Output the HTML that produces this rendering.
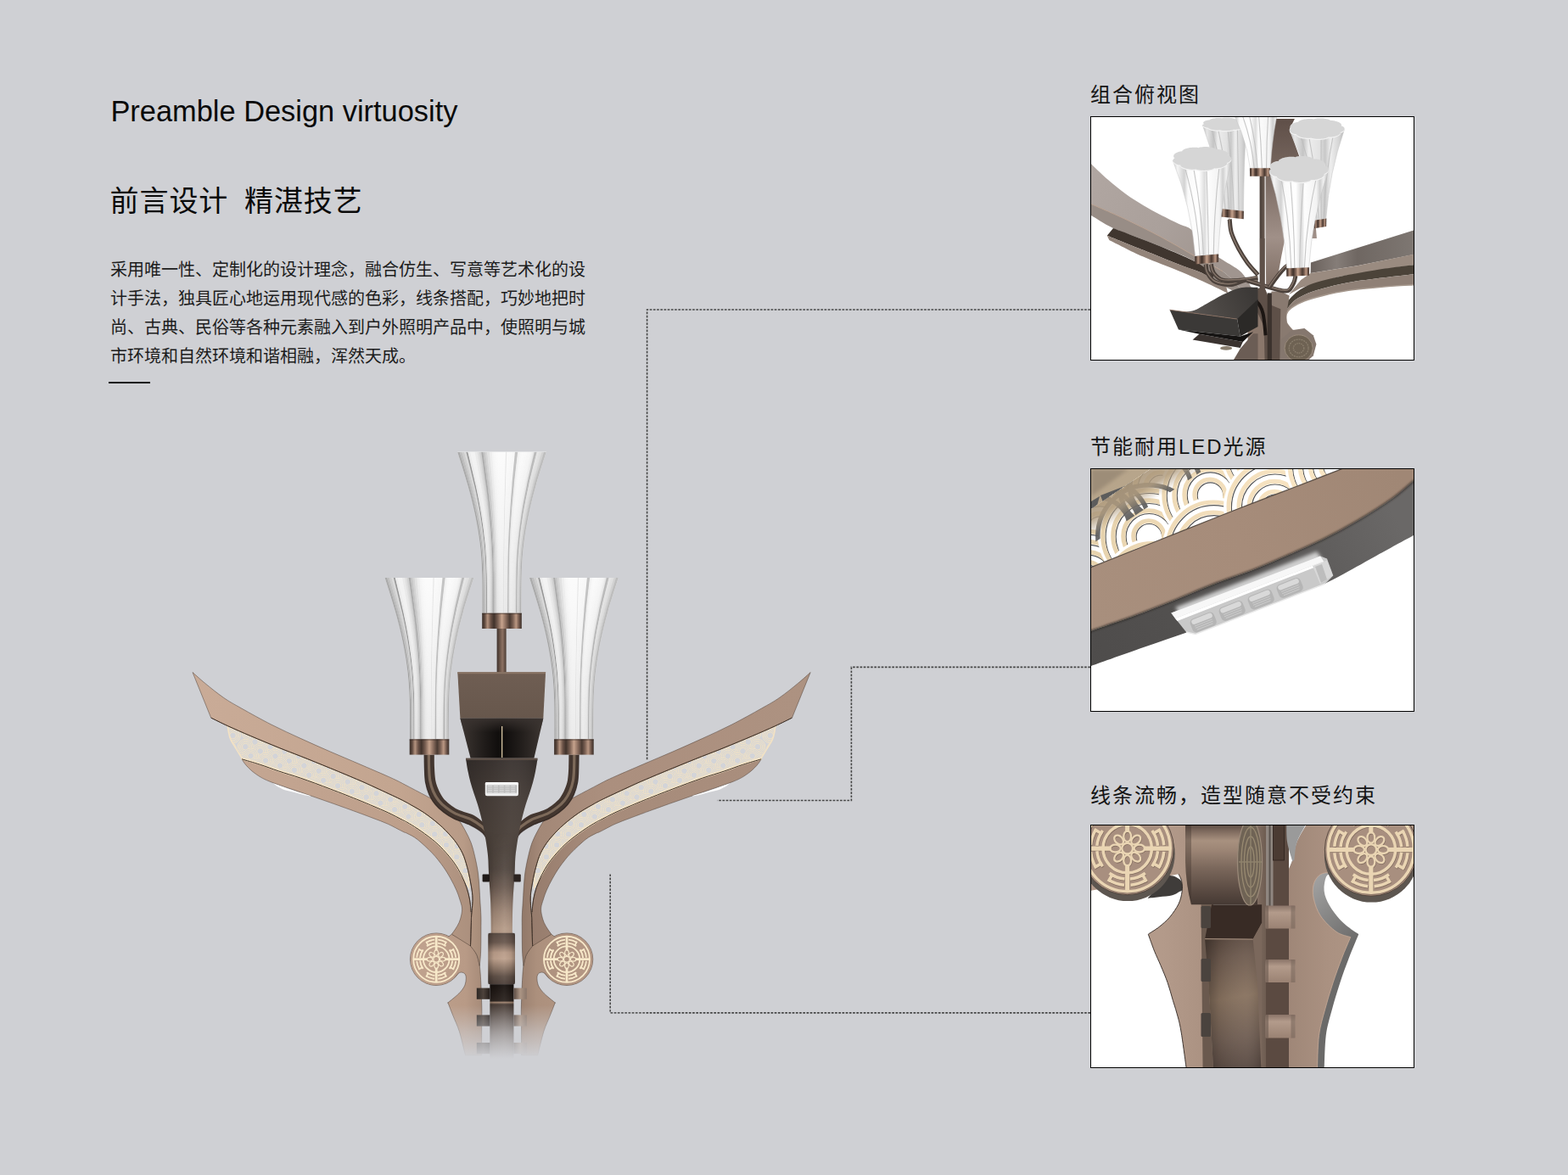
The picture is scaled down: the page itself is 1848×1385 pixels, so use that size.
<!DOCTYPE html>
<html><head><meta charset="utf-8"><title>Preamble Design virtuosity</title>
<style>
html,body{margin:0;padding:0;background:#cfd0d4;}
body{width:1848px;height:1385px;overflow:hidden;position:relative;font-family:"Liberation Sans",sans-serif;}
#t1{position:absolute;left:130.4px;top:111px;font-size:34.4px;line-height:40px;color:#0a0a0a;white-space:nowrap;letter-spacing:0px;}
svg{position:absolute;left:0;top:0;}
</style></head><body>
<svg width="1848" height="1385" viewBox="0 0 1848 1385">
<defs>

<linearGradient id="wingL" gradientUnits="userSpaceOnUse" x1="230" y1="0" x2="570" y2="0">
 <stop offset="0" stop-color="#c9ab97"/><stop offset="0.7" stop-color="#c3a590"/><stop offset="0.93" stop-color="#b89b87"/><stop offset="1" stop-color="#a38976"/>
</linearGradient>
<linearGradient id="wingL2" gradientUnits="userSpaceOnUse" x1="230" y1="0" x2="570" y2="0">
 <stop offset="0" stop-color="#c6a894"/><stop offset="0.75" stop-color="#bd9f8b"/><stop offset="1" stop-color="#a88d7b"/>
</linearGradient>
<linearGradient id="wingR" gradientUnits="userSpaceOnUse" x1="230" y1="0" x2="570" y2="0">
 <stop offset="0" stop-color="#ad9281"/><stop offset="0.7" stop-color="#ab8f7e"/><stop offset="0.93" stop-color="#a38877"/><stop offset="1" stop-color="#8f7666"/>
</linearGradient>
<linearGradient id="wingR2" gradientUnits="userSpaceOnUse" x1="230" y1="0" x2="570" y2="0">
 <stop offset="0" stop-color="#aa8f7e"/><stop offset="0.75" stop-color="#a68b7a"/><stop offset="1" stop-color="#93796a"/>
</linearGradient>
<linearGradient id="bodyL" gradientUnits="userSpaceOnUse" x1="500" y1="0" x2="570" y2="0">
 <stop offset="0" stop-color="#bfa18d"/><stop offset="0.7" stop-color="#b89a86"/><stop offset="1" stop-color="#a58a78"/>
</linearGradient>
<linearGradient id="bodyR" gradientUnits="userSpaceOnUse" x1="500" y1="0" x2="570" y2="0">
 <stop offset="0" stop-color="#b39683"/><stop offset="0.7" stop-color="#ac907d"/><stop offset="1" stop-color="#9a806f"/>
</linearGradient>
<pattern id="waves" width="18" height="18" patternUnits="userSpaceOnUse" patternTransform="translate(3,2) rotate(24)">
 <rect width="18" height="18" fill="#d3d4d8"/>
 <g fill="none" stroke="#f8e6c3" stroke-width="0.8"><circle cx="9" cy="-9" r="9.6" fill="#d3d4d8" stroke="none"/><circle cx="9" cy="-9" r="9.0"/><circle cx="9" cy="-9" r="7.4"/><circle cx="9" cy="-9" r="5.8"/><circle cx="9" cy="-9" r="4.2"/><circle cx="0" cy="0" r="9.6" fill="#d3d4d8" stroke="none"/><circle cx="0" cy="0" r="9.0"/><circle cx="0" cy="0" r="7.4"/><circle cx="0" cy="0" r="5.8"/><circle cx="0" cy="0" r="4.2"/><circle cx="18" cy="0" r="9.6" fill="#d3d4d8" stroke="none"/><circle cx="18" cy="0" r="9.0"/><circle cx="18" cy="0" r="7.4"/><circle cx="18" cy="0" r="5.8"/><circle cx="18" cy="0" r="4.2"/><circle cx="9" cy="9" r="9.6" fill="#d3d4d8" stroke="none"/><circle cx="9" cy="9" r="9.0"/><circle cx="9" cy="9" r="7.4"/><circle cx="9" cy="9" r="5.8"/><circle cx="9" cy="9" r="4.2"/><circle cx="0" cy="18" r="9.6" fill="#d3d4d8" stroke="none"/><circle cx="0" cy="18" r="9.0"/><circle cx="0" cy="18" r="7.4"/><circle cx="0" cy="18" r="5.8"/><circle cx="0" cy="18" r="4.2"/><circle cx="18" cy="18" r="9.6" fill="#d3d4d8" stroke="none"/><circle cx="18" cy="18" r="9.0"/><circle cx="18" cy="18" r="7.4"/><circle cx="18" cy="18" r="5.8"/><circle cx="18" cy="18" r="4.2"/><circle cx="9" cy="27" r="9.6" fill="#d3d4d8" stroke="none"/><circle cx="9" cy="27" r="9.0"/><circle cx="9" cy="27" r="7.4"/><circle cx="9" cy="27" r="5.8"/><circle cx="9" cy="27" r="4.2"/></g>
</pattern>
<linearGradient id="collar" x1="0" y1="0" x2="1" y2="0">
 <stop offset="0" stop-color="#3b2f29"/><stop offset="0.06" stop-color="#5a463c"/><stop offset="0.14" stop-color="#b4937f"/><stop offset="0.22" stop-color="#6a5247"/>
 <stop offset="0.30" stop-color="#40322b"/><stop offset="0.40" stop-color="#7a6053"/><stop offset="0.50" stop-color="#c5a28c"/><stop offset="0.60" stop-color="#8a6d5e"/>
 <stop offset="0.70" stop-color="#4a3a32"/><stop offset="0.78" stop-color="#7a6053"/><stop offset="0.86" stop-color="#bb9883"/><stop offset="0.94" stop-color="#6a5247"/><stop offset="1" stop-color="#3b2f29"/>
</linearGradient>
<linearGradient id="rod" x1="0" y1="0" x2="1" y2="0">
 <stop offset="0" stop-color="#3e322c"/><stop offset="0.35" stop-color="#6d574b"/><stop offset="0.6" stop-color="#8d7263"/><stop offset="1" stop-color="#4a3b33"/>
</linearGradient>
<linearGradient id="boxfront" x1="0" y1="0" x2="0" y2="1">
 <stop offset="0" stop-color="#6f5e53"/><stop offset="1" stop-color="#67574c"/>
</linearGradient>
<linearGradient id="under" x1="0" y1="0" x2="1" y2="0">
 <stop offset="0" stop-color="#3d3632"/><stop offset="0.3" stop-color="#1f1b19"/><stop offset="0.5" stop-color="#0d0b0a"/><stop offset="0.7" stop-color="#1f1b19"/><stop offset="1" stop-color="#3d3632"/>
</linearGradient>
<linearGradient id="underV" x1="0" y1="0" x2="0" y2="1">
 <stop offset="0" stop-color="#3a3330" stop-opacity="0.9"/><stop offset="0.35" stop-color="#3a3330" stop-opacity="0"/>
</linearGradient>
<linearGradient id="head" gradientUnits="userSpaceOnUse" x1="0" y1="896" x2="0" y2="1110">
 <stop offset="0" stop-color="#3a3330"/><stop offset="0.2" stop-color="#463d38"/><stop offset="0.5" stop-color="#4c423b"/><stop offset="0.6" stop-color="#51463f"/><stop offset="0.7" stop-color="#6b5a50"/><stop offset="0.84" stop-color="#a08776"/><stop offset="0.93" stop-color="#b79c88"/><stop offset="1" stop-color="#ad917e"/>
</linearGradient>
<linearGradient id="headH" gradientUnits="userSpaceOnUse" x1="575" y1="0" x2="607" y2="0">
 <stop offset="0" stop-color="#000" stop-opacity="0.28"/><stop offset="0.22" stop-color="#000" stop-opacity="0.04"/><stop offset="0.6" stop-color="#fff" stop-opacity="0.05"/><stop offset="0.85" stop-color="#000" stop-opacity="0.06"/><stop offset="1" stop-color="#000" stop-opacity="0.25"/>
</linearGradient>
<linearGradient id="headH2" gradientUnits="userSpaceOnUse" x1="549" y1="0" x2="634" y2="0">
 <stop offset="0" stop-color="#000" stop-opacity="0.22"/><stop offset="0.3" stop-color="#000" stop-opacity="0.05"/><stop offset="0.62" stop-color="#fff" stop-opacity="0.05"/><stop offset="1" stop-color="#000" stop-opacity="0.12"/>
</linearGradient>
<linearGradient id="headMask" gradientUnits="userSpaceOnUse" x1="0" y1="980" x2="0" y2="1040">
 <stop offset="0" stop-color="#fff" stop-opacity="0"/><stop offset="1" stop-color="#fff" stop-opacity="1"/>
</linearGradient>
<mask id="hm"><rect x="540" y="890" width="110" height="240" fill="url(#headMask)"/></mask>

<linearGradient id="arm" gradientUnits="userSpaceOnUse" x1="500" y1="0" x2="512" y2="0">
 <stop offset="0" stop-color="#3a2f2a"/><stop offset="0.45" stop-color="#7a675b"/><stop offset="1" stop-color="#40342e"/>
</linearGradient>
<linearGradient id="joint" gradientUnits="userSpaceOnUse" x1="0" y1="1100" x2="0" y2="1160">
 <stop offset="0" stop-color="#5a4b43"/><stop offset="0.18" stop-color="#6b594f"/><stop offset="0.38" stop-color="#b89b88"/><stop offset="0.5" stop-color="#bfa28e"/><stop offset="0.7" stop-color="#8a7465"/><stop offset="0.85" stop-color="#5e4f46"/><stop offset="1" stop-color="#4d403a"/>
</linearGradient>
<linearGradient id="poleLow" gradientUnits="userSpaceOnUse" x1="0" y1="1160" x2="0" y2="1250">
 <stop offset="0" stop-color="#17110e"/><stop offset="0.22" stop-color="#2c2420"/><stop offset="0.24" stop-color="#a08470"/><stop offset="0.265" stop-color="#4a3e38"/><stop offset="0.6" stop-color="#675a53"/><stop offset="1" stop-color="#8d817a"/>
</linearGradient>
<linearGradient id="clipL" x1="0" y1="0" x2="1" y2="0">
 <stop offset="0" stop-color="#2e2824"/><stop offset="0.5" stop-color="#4d423b"/><stop offset="1" stop-color="#241d1a"/>
</linearGradient>
<linearGradient id="clipR" x1="0" y1="0" x2="1" y2="0">
 <stop offset="0" stop-color="#5a4a42"/><stop offset="0.5" stop-color="#ab9584"/><stop offset="1" stop-color="#8a766a"/>
</linearGradient>
<linearGradient id="fade" gradientUnits="userSpaceOnUse" x1="0" y1="1185" x2="0" y2="1248">
 <stop offset="0" stop-color="#cfd0d4" stop-opacity="0"/><stop offset="0.5" stop-color="#cfd0d4" stop-opacity="0.55"/><stop offset="1" stop-color="#cfd0d4" stop-opacity="1"/>
</linearGradient>
<g id="scl"><circle r="9.6" fill="#d3d4d8"/><g fill="none" stroke="#f9e5c0" stroke-width="0.78"><circle r="9"/><circle r="7.3"/><circle r="5.6"/><circle r="3.9"/></g></g>
<filter id="blur05" x="-5%" y="-5%" width="110%" height="110%"><feGaussianBlur stdDeviation="0.45"/></filter>
<filter id="blur1" x="-5%" y="-5%" width="110%" height="110%"><feGaussianBlur stdDeviation="0.7"/></filter>
<filter id="blur2" x="-10%" y="-10%" width="120%" height="120%"><feGaussianBlur stdDeviation="1.6"/></filter>


<clipPath id="cp1"><rect x="1286" y="138" width="380" height="286"/></clipPath>
<clipPath id="cp2"><rect x="1286" y="553" width="380" height="285"/></clipPath>
<clipPath id="cp3"><rect x="1286" y="973" width="380" height="285"/></clipPath>
<linearGradient id="p1top" gradientUnits="userSpaceOnUse" x1="1285" y1="200" x2="1440" y2="300">
 <stop offset="0" stop-color="#b0a6a1"/><stop offset="0.6" stop-color="#aaa09b"/><stop offset="1" stop-color="#a0958f"/></linearGradient>
<linearGradient id="p1blade" gradientUnits="userSpaceOnUse" x1="0" y1="140" x2="0" y2="340">
 <stop offset="0" stop-color="#5f4f48"/><stop offset="0.35" stop-color="#7a6a62"/><stop offset="0.7" stop-color="#a09088"/><stop offset="1" stop-color="#7d6c62"/></linearGradient>
<linearGradient id="p1rtop" gradientUnits="userSpaceOnUse" x1="1545" y1="0" x2="1667" y2="0">
 <stop offset="0" stop-color="#6b625d"/><stop offset="0.25" stop-color="#857d78"/><stop offset="0.45" stop-color="#6f6762"/><stop offset="1" stop-color="#7e7772"/></linearGradient>
<linearGradient id="shBody" x1="0" y1="0" x2="1" y2="0">
 <stop offset="0" stop-color="#c9c9c9"/><stop offset="0.08" stop-color="#f4f4f4"/><stop offset="0.2" stop-color="#d2d2d2"/><stop offset="0.26" stop-color="#fafafa"/><stop offset="0.45" stop-color="#ffffff"/>
 <stop offset="0.55" stop-color="#dcdcdc"/><stop offset="0.6" stop-color="#fdfdfd"/><stop offset="0.8" stop-color="#f3f3f3"/><stop offset="0.86" stop-color="#d0d0d0"/><stop offset="0.92" stop-color="#f0f0f0"/><stop offset="1" stop-color="#c4c4c4"/></linearGradient>
<linearGradient id="shBody2" x1="0" y1="0" x2="1" y2="0">
 <stop offset="0" stop-color="#bdbdbd"/><stop offset="0.1" stop-color="#e6e6e6"/><stop offset="0.25" stop-color="#c4c4c4"/><stop offset="0.35" stop-color="#ededed"/><stop offset="0.55" stop-color="#e2e2e2"/>
 <stop offset="0.65" stop-color="#c8c8c8"/><stop offset="0.75" stop-color="#eeeeee"/><stop offset="0.9" stop-color="#d5d5d5"/><stop offset="1" stop-color="#bbbbbb"/></linearGradient>
<linearGradient id="p1box" gradientUnits="userSpaceOnUse" x1="1380" y1="0" x2="1470" y2="0">
 <stop offset="0" stop-color="#3a3836"/><stop offset="1" stop-color="#45413e"/></linearGradient>
<linearGradient id="p1boxtop" gradientUnits="userSpaceOnUse" x1="1400" y1="370" x2="1470" y2="335">
 <stop offset="0" stop-color="#5a5653"/><stop offset="0.5" stop-color="#4a4643"/><stop offset="1" stop-color="#3c3937"/></linearGradient>
<linearGradient id="p1pole" gradientUnits="userSpaceOnUse" x1="1485" y1="0" x2="1512" y2="0">
 <stop offset="0" stop-color="#4a3f39"/><stop offset="0.4" stop-color="#8a776b"/><stop offset="0.7" stop-color="#5c4e46"/><stop offset="1" stop-color="#3e342f"/></linearGradient>
<linearGradient id="p2band" gradientUnits="userSpaceOnUse" x1="1300" y1="760" x2="1660" y2="580">
 <stop offset="0" stop-color="#a88f7d"/><stop offset="0.5" stop-color="#a68c7a"/><stop offset="1" stop-color="#a08775"/></linearGradient>
<linearGradient id="p2dark" gradientUnits="userSpaceOnUse" x1="1300" y1="820" x2="1660" y2="640">
 <stop offset="0" stop-color="#4e4c4b"/><stop offset="0.55" stop-color="#565453"/><stop offset="1" stop-color="#6a6867"/></linearGradient>
<linearGradient id="p3body" gradientUnits="userSpaceOnUse" x1="1370" y1="0" x2="1590" y2="0">
 <stop offset="0" stop-color="#b39a8a"/><stop offset="0.45" stop-color="#a38a7a"/><stop offset="1" stop-color="#ab9282"/></linearGradient>
<linearGradient id="p3pole" gradientUnits="userSpaceOnUse" x1="1424" y1="0" x2="1478" y2="0">
 <stop offset="0" stop-color="#8d7769"/><stop offset="0.35" stop-color="#7b675b"/><stop offset="0.75" stop-color="#5c4c43"/><stop offset="1" stop-color="#6b594e"/></linearGradient>
<linearGradient id="p3cyl" gradientUnits="userSpaceOnUse" x1="0" y1="972" x2="0" y2="1066">
 <stop offset="0" stop-color="#5b4b43"/><stop offset="0.08" stop-color="#7d695d"/><stop offset="0.2" stop-color="#a8917f"/><stop offset="0.32" stop-color="#9c8575"/><stop offset="0.55" stop-color="#7a675b"/><stop offset="0.85" stop-color="#574840"/><stop offset="1" stop-color="#463a34"/></linearGradient>
<linearGradient id="p3clip" x1="0" y1="0" x2="0" y2="1">
 <stop offset="0" stop-color="#8a7468"/><stop offset="0.3" stop-color="#b39b8b"/><stop offset="1" stop-color="#9a8273"/></linearGradient>
<filter id="pb1" x="-5%" y="-5%" width="110%" height="110%"><feGaussianBlur stdDeviation="0.8"/></filter>
<filter id="pb2" x="-10%" y="-10%" width="120%" height="120%"><feGaussianBlur stdDeviation="2"/></filter>

</defs>
<rect width="1848" height="1385" fill="#cfd0d4"/>
<g fill="none" stroke="#474747" stroke-width="1.6" stroke-dasharray="2.7 1.5">
<path d="M1285,365 H762.6 V895.5"/>
<path d="M1285,786.4 H1003.4 V943.5 H845.4"/>
<path d="M1285,1193.9 H719.2 V1030"/>
</g>
<defs><clipPath id="shclip"><path d="M-52.4,0C-50.4,6.6 -43.7,27.2 -40.2,39.5C-36.7,51.8 -34,62.5 -31.6,74.1C-29.2,85.6 -27.2,97.2 -25.8,108.8C-24.4,120.3 -23.8,129.8 -23.3,143.4C-22.8,157 -23,182.4 -22.9,190.2L22.9,190.2C23,182.4 22.8,157 23.3,143.4C23.8,129.8 24.4,120.3 25.8,108.8C27.2,97.2 29.2,85.6 31.6,74.1C34,62.5 36.7,51.8 40.2,39.5C43.7,27.2 50.4,6.6 52.4,0Z"/></clipPath><g id="shadeArt"><path d="M-52.4,0C-50.4,6.6 -43.7,27.2 -40.2,39.5C-36.7,51.8 -34,62.5 -31.6,74.1C-29.2,85.6 -27.2,97.2 -25.8,108.8C-24.4,120.3 -23.8,129.8 -23.3,143.4C-22.8,157 -23,182.4 -22.9,190.2L22.9,190.2C23,182.4 22.8,157 23.3,143.4C23.8,129.8 24.4,120.3 25.8,108.8C27.2,97.2 29.2,85.6 31.6,74.1C34,62.5 36.7,51.8 40.2,39.5C43.7,27.2 50.4,6.6 52.4,0Z" fill="#f4f4f4"/><g clip-path="url(#shclip)"><g filter="url(#blur05)"><path d="M-54,0C-51.9,6.6 -45,27.2 -41.4,39.5C-37.8,51.8 -35,62.5 -32.5,74.1C-30.1,85.6 -28,97.2 -26.6,108.8C-25.1,120.3 -24.5,129.8 -24,143.4C-23.5,157 -23.7,182.4 -23.6,190.2L-21.7,190.2C-21.7,182.4 -21.6,157 -22,143.4C-22.5,129.8 -23.1,120.3 -24.4,108.8C-25.7,97.2 -27.6,85.6 -29.9,74.1C-32.2,62.5 -34.7,51.8 -38,39.5C-41.3,27.2 -47.6,6.6 -49.6,0Z" fill="#a2a2a2"/><path d="M-50,0C-48,6.6 -41.7,27.2 -38.4,39.5C-35,51.8 -32.4,62.5 -30.1,74.1C-27.9,85.6 -25.9,97.2 -24.6,108.8C-23.3,120.3 -22.7,129.8 -22.2,143.4C-21.8,157 -21.9,182.4 -21.8,190.2L-20.5,190.2C-20.6,182.4 -20.4,157 -20.9,143.4C-21.3,129.8 -21.9,120.3 -23.1,108.8C-24.4,97.2 -26.2,85.6 -28.3,74.1C-30.5,62.5 -32.9,51.8 -36,39.5C-39.1,27.2 -45.1,6.6 -47,0Z" fill="#b8b8b8"/><path d="M-47.4,0C-45.5,6.6 -39.5,27.2 -36.3,39.5C-33.2,51.8 -30.7,62.5 -28.6,74.1C-26.4,85.6 -24.6,97.2 -23.3,108.8C-22.1,120.3 -21.5,129.8 -21.1,143.4C-20.6,157 -20.8,182.4 -20.7,190.2L-19.4,190.2C-19.4,182.4 -19.3,157 -19.7,143.4C-20.1,129.8 -20.7,120.3 -21.8,108.8C-23,97.2 -24.7,85.6 -26.7,74.1C-28.8,62.5 -31.1,51.8 -34,39.5C-36.9,27.2 -42.6,6.6 -44.3,0Z" fill="#c8c8c8"/><path d="M-44.7,0C-43,6.6 -37.3,27.2 -34.3,39.5C-31.4,51.8 -29,62.5 -27,74.1C-24.9,85.6 -23.2,97.2 -22,108.8C-20.9,120.3 -20.3,129.8 -19.9,143.4C-19.5,157 -19.6,182.4 -19.6,190.2L-18.2,190.2C-18.3,182.4 -18.2,157 -18.5,143.4C-18.9,129.8 -19.4,120.3 -20.5,108.8C-21.6,97.2 -23.2,85.6 -25.2,74.1C-27.1,62.5 -29.2,51.8 -32,39.5C-34.8,27.2 -40.1,6.6 -41.7,0Z" fill="#d6d6d6"/><path d="M-42.1,0C-40.5,6.6 -35.1,27.2 -32.3,39.5C-29.5,51.8 -27.3,62.5 -25.4,74.1C-23.5,85.6 -21.9,97.2 -20.7,108.8C-19.6,120.3 -19.1,129.8 -18.7,143.4C-18.3,157 -18.5,182.4 -18.4,190.2L-17.4,190.2C-17.5,182.4 -17.4,157 -17.7,143.4C-18.1,129.8 -18.6,120.3 -19.6,108.8C-20.7,97.2 -22.2,85.6 -24,74.1C-25.9,62.5 -28,51.8 -30.6,39.5C-33.2,27.2 -38.3,6.6 -39.9,0Z" fill="#8c8c8c"/><path d="M-40.3,0C-38.7,6.6 -33.6,27.2 -30.9,39.5C-28.2,51.8 -26.1,62.5 -24.3,74.1C-22.5,85.6 -20.9,97.2 -19.8,108.8C-18.8,120.3 -18.3,129.8 -17.9,143.4C-17.5,157 -17.7,182.4 -17.6,190.2L-16.2,190.2C-16.3,182.4 -16.2,157 -16.5,143.4C-16.9,129.8 -17.3,120.3 -18.3,108.8C-19.3,97.2 -20.7,85.6 -22.4,74.1C-24.1,62.5 -26,51.8 -28.5,39.5C-30.9,27.2 -35.7,6.6 -37.1,0Z" fill="#eaeaea"/><path d="M-37.5,0C-36.1,6.6 -31.3,27.2 -28.8,39.5C-26.3,51.8 -24.4,62.5 -22.6,74.1C-20.9,85.6 -19.5,97.2 -18.5,108.8C-17.5,120.3 -17,129.8 -16.7,143.4C-16.3,157 -16.5,182.4 -16.4,190.2L-15,190.2C-15.1,182.4 -15,157 -15.3,143.4C-15.6,129.8 -16,120.3 -16.9,108.8C-17.8,97.2 -19.2,85.6 -20.7,74.1C-22.3,62.5 -24.1,51.8 -26.4,39.5C-28.6,27.2 -33,6.6 -34.4,0Z" fill="#f2f2f2"/><path d="M-34.8,0C-33.4,6.6 -29,27.2 -26.7,39.5C-24.4,51.8 -22.6,62.5 -21,74.1C-19.4,85.6 -18,97.2 -17.1,108.8C-16.2,120.3 -15.8,129.8 -15.5,143.4C-15.2,157 -15.2,182.4 -15.2,190.2L-13.8,190.2C-13.8,182.4 -13.7,157 -14,143.4C-14.3,129.8 -14.7,120.3 -15.5,108.8C-16.3,97.2 -17.5,85.6 -19,74.1C-20.4,62.5 -22.1,51.8 -24.2,39.5C-26.2,27.2 -30.3,6.6 -31.5,0Z" fill="#f2f2f2"/><path d="M-31.9,0C-30.7,6.6 -26.6,27.2 -24.5,39.5C-22.4,51.8 -20.7,62.5 -19.2,74.1C-17.8,85.6 -16.6,97.2 -15.7,108.8C-14.9,120.3 -14.5,129.8 -14.2,143.4C-13.9,157 -14,182.4 -13.9,190.2L-12.5,190.2C-12.5,182.4 -12.5,157 -12.7,143.4C-13,129.8 -13.3,120.3 -14.1,108.8C-14.8,97.2 -15.9,85.6 -17.3,74.1C-18.6,62.5 -20.1,51.8 -21.9,39.5C-23.8,27.2 -27.5,6.6 -28.6,0Z" fill="#e8e8e8"/><path d="M-29,0C-27.9,6.6 -24.2,27.2 -22.3,39.5C-20.4,51.8 -18.8,62.5 -17.5,74.1C-16.2,85.6 -15.1,97.2 -14.3,108.8C-13.5,120.3 -13.2,129.8 -12.9,143.4C-12.6,157 -12.7,182.4 -12.7,190.2L-11.5,190.2C-11.5,182.4 -11.4,157 -11.7,143.4C-11.9,129.8 -12.2,120.3 -12.9,108.8C-13.6,97.2 -14.6,85.6 -15.8,74.1C-17,62.5 -18.4,51.8 -20.1,39.5C-21.9,27.2 -25.2,6.6 -26.3,0Z" fill="#dcdcdc"/><path d="M-26.7,0C-25.6,6.6 -22.2,27.2 -20.5,39.5C-18.7,51.8 -17.3,62.5 -16.1,74.1C-14.9,85.6 -13.8,97.2 -13.1,108.8C-12.4,120.3 -12.1,129.8 -11.9,143.4C-11.6,157 -11.7,182.4 -11.7,190.2L-10.4,190.2C-10.5,182.4 -10.4,157 -10.6,143.4C-10.8,129.8 -11.1,120.3 -11.8,108.8C-12.4,97.2 -13.3,85.6 -14.4,74.1C-15.5,62.5 -16.8,51.8 -18.3,39.5C-19.9,27.2 -23,6.6 -23.9,0Z" fill="#cccccc"/><path d="M-24.3,0C-23.4,6.6 -20.3,27.2 -18.7,39.5C-17,51.8 -15.8,62.5 -14.7,74.1C-13.5,85.6 -12.6,97.2 -12,108.8C-11.3,120.3 -11,129.8 -10.8,143.4C-10.6,157 -10.7,182.4 -10.6,190.2L-9.5,190.2C-9.6,182.4 -9.5,157 -9.7,143.4C-9.9,129.8 -10.2,120.3 -10.7,108.8C-11.3,97.2 -12.1,85.6 -13.1,74.1C-14.1,62.5 -15.3,51.8 -16.7,39.5C-18.2,27.2 -21,6.6 -21.8,0Z" fill="#a4a4a4"/><path d="M-22.2,0C-21.4,6.6 -18.5,27.2 -17,39.5C-15.6,51.8 -14.4,62.5 -13.4,74.1C-12.4,85.6 -11.5,97.2 -10.9,108.8C-10.4,120.3 -10.1,129.8 -9.9,143.4C-9.7,157 -9.7,182.4 -9.7,190.2L-8.5,190.2C-8.5,182.4 -8.5,157 -8.6,143.4C-8.8,129.8 -9.1,120.3 -9.6,108.8C-10.1,97.2 -10.8,85.6 -11.7,74.1C-12.6,62.5 -13.6,51.8 -14.9,39.5C-16.2,27.2 -18.7,6.6 -19.4,0Z" fill="#c0c0c0"/><path d="M-19.9,0C-19.1,6.6 -16.5,27.2 -15.2,39.5C-13.9,51.8 -12.9,62.5 -12,74.1C-11.1,85.6 -10.3,97.2 -9.8,108.8C-9.3,120.3 -9,129.8 -8.8,143.4C-8.6,157 -8.7,182.4 -8.7,190.2L-7.5,190.2C-7.5,182.4 -7.4,157 -7.6,143.4C-7.8,129.8 -8,120.3 -8.4,108.8C-8.9,97.2 -9.5,85.6 -10.3,74.1C-11.1,62.5 -12,51.8 -13.1,39.5C-14.2,27.2 -16.4,6.6 -17.1,0Z" fill="#d0d0d0"/><path d="M-17.5,0C-16.8,6.6 -14.6,27.2 -13.4,39.5C-12.3,51.8 -11.4,62.5 -10.6,74.1C-9.8,85.6 -9.1,97.2 -8.6,108.8C-8.2,120.3 -7.9,129.8 -7.8,143.4C-7.6,157 -7.7,182.4 -7.6,190.2L-6.2,190.2C-6.2,182.4 -6.2,157 -6.3,143.4C-6.4,129.8 -6.6,120.3 -7,108.8C-7.4,97.2 -7.9,85.6 -8.6,74.1C-9.2,62.5 -10,51.8 -10.9,39.5C-11.8,27.2 -13.6,6.6 -14.2,0Z" fill="#dfdfdf"/><path d="M-14.6,0C-14.1,6.6 -12.2,27.2 -11.2,39.5C-10.2,51.8 -9.5,62.5 -8.8,74.1C-8.1,85.6 -7.6,97.2 -7.2,108.8C-6.8,120.3 -6.6,129.8 -6.5,143.4C-6.4,157 -6.4,182.4 -6.4,190.2L-4.9,190.2C-5,182.4 -4.9,157 -5,143.4C-5.1,129.8 -5.3,120.3 -5.6,108.8C-5.9,97.2 -6.3,85.6 -6.8,74.1C-7.3,62.5 -7.9,51.8 -8.7,39.5C-9.4,27.2 -10.9,6.6 -11.3,0Z" fill="#ededed"/><path d="M-11.7,0C-11.3,6.6 -9.8,27.2 -9,39.5C-8.2,51.8 -7.6,62.5 -7.1,74.1C-6.5,85.6 -6.1,97.2 -5.8,108.8C-5.5,120.3 -5.3,129.8 -5.2,143.4C-5.1,157 -5.1,182.4 -5.1,190.2L-4,190.2C-4,182.4 -4,157 -4.1,143.4C-4.2,129.8 -4.3,120.3 -4.5,108.8C-4.8,97.2 -5.1,85.6 -5.6,74.1C-6,62.5 -6.5,51.8 -7.1,39.5C-7.7,27.2 -8.9,6.6 -9.2,0Z" fill="#f5f5f5"/><path d="M-9.6,0C-9.3,6.6 -8,27.2 -7.4,39.5C-6.8,51.8 -6.3,62.5 -5.8,74.1C-5.4,85.6 -5,97.2 -4.7,108.8C-4.5,120.3 -4.4,129.8 -4.3,143.4C-4.2,157 -4.2,182.4 -4.2,190.2L-3.1,190.2C-3.1,182.4 -3.1,157 -3.2,143.4C-3.2,129.8 -3.3,120.3 -3.5,108.8C-3.7,97.2 -4,85.6 -4.3,74.1C-4.6,62.5 -5,51.8 -5.5,39.5C-5.9,27.2 -6.8,6.6 -7.1,0Z" fill="#f8f8f8"/><path d="M-7.5,0C-7.3,6.6 -6.3,27.2 -5.8,39.5C-5.3,51.8 -4.9,62.5 -4.6,74.1C-4.2,85.6 -3.9,97.2 -3.7,108.8C-3.5,120.3 -3.4,129.8 -3.4,143.4C-3.3,157 -3.3,182.4 -3.3,190.2L-2.2,190.2C-2.2,182.4 -2.2,157 -2.2,143.4C-2.3,129.8 -2.3,120.3 -2.5,108.8C-2.6,97.2 -2.8,85.6 -3,74.1C-3.3,62.5 -3.5,51.8 -3.9,39.5C-4.2,27.2 -4.8,6.6 -5,0Z" fill="#fafafa"/><path d="M-5.4,0C-5.2,6.6 -4.5,27.2 -4.2,39.5C-3.8,51.8 -3.5,62.5 -3.3,74.1C-3,85.6 -2.8,97.2 -2.7,108.8C-2.5,120.3 -2.5,129.8 -2.4,143.4C-2.4,157 -2.4,182.4 -2.4,190.2L2.2,190.2C2.2,182.4 2.1,157 2.2,143.4C2.2,129.8 2.3,120.3 2.4,108.8C2.6,97.2 2.7,85.6 3,74.1C3.2,62.5 3.5,51.8 3.8,39.5C4.1,27.2 4.7,6.6 4.9,0Z" fill="#fbfbfb"/><path d="M4.5,0C4.3,6.6 3.8,27.2 3.5,39.5C3.2,51.8 2.9,62.5 2.7,74.1C2.5,85.6 2.3,97.2 2.2,108.8C2.1,120.3 2,129.8 2,143.4C2,157 2,182.4 2,190.2L2.7,190.2C2.7,182.4 2.7,157 2.8,143.4C2.8,129.8 2.9,120.3 3.1,108.8C3.2,97.2 3.5,85.6 3.8,74.1C4,62.5 4.4,51.8 4.8,39.5C5.2,27.2 6,6.6 6.2,0Z" fill="#e6e6e6"/><path d="M5.8,0C5.6,6.6 4.8,27.2 4.5,39.5C4.1,51.8 3.8,62.5 3.5,74.1C3.2,85.6 3,97.2 2.9,108.8C2.7,120.3 2.6,129.8 2.6,143.4C2.5,157 2.5,182.4 2.5,190.2L3.8,190.2C3.8,182.4 3.8,157 3.9,143.4C3.9,129.8 4,120.3 4.3,108.8C4.5,97.2 4.8,85.6 5.2,74.1C5.6,62.5 6.1,51.8 6.6,39.5C7.2,27.2 8.3,6.6 8.7,0Z" fill="#fafafa"/><path d="M8.2,0C7.9,6.6 6.9,27.2 6.3,39.5C5.8,51.8 5.3,62.5 5,74.1C4.6,85.6 4.3,97.2 4.1,108.8C3.8,120.3 3.7,129.8 3.7,143.4C3.6,157 3.6,182.4 3.6,190.2L4.8,190.2C4.9,182.4 4.8,157 4.9,143.4C5,129.8 5.2,120.3 5.5,108.8C5.7,97.2 6.2,85.6 6.7,74.1C7.2,62.5 7.8,51.8 8.5,39.5C9.2,27.2 10.7,6.6 11.1,0Z" fill="#f9f9f9"/><path d="M10.7,0C10.2,6.6 8.9,27.2 8.2,39.5C7.5,51.8 6.9,62.5 6.4,74.1C5.9,85.6 5.5,97.2 5.3,108.8C5,120.3 4.8,129.8 4.7,143.4C4.6,157 4.7,182.4 4.7,190.2L5.9,190.2C5.9,182.4 5.9,157 6,143.4C6.1,129.8 6.3,120.3 6.6,108.8C7,97.2 7.5,85.6 8.1,74.1C8.8,62.5 9.5,51.8 10.4,39.5C11.3,27.2 13,6.6 13.5,0Z" fill="#f8f8f8"/><path d="M13.1,0C12.6,6.6 10.9,27.2 10,39.5C9.2,51.8 8.5,62.5 7.9,74.1C7.3,85.6 6.8,97.2 6.4,108.8C6.1,120.3 5.9,129.8 5.8,143.4C5.7,157 5.7,182.4 5.7,190.2L7,190.2C7,182.4 6.9,157 7.1,143.4C7.2,129.8 7.4,120.3 7.8,108.8C8.3,97.2 8.9,85.6 9.6,74.1C10.3,62.5 11.2,51.8 12.2,39.5C13.3,27.2 15.3,6.6 15.9,0Z" fill="#f7f7f7"/><path d="M15.5,0C14.9,6.6 12.9,27.2 11.9,39.5C10.9,51.8 10.1,62.5 9.4,74.1C8.6,85.6 8,97.2 7.6,108.8C7.2,120.3 7,129.8 6.9,143.4C6.8,157 6.8,182.4 6.8,190.2L8.3,190.2C8.4,182.4 8.3,157 8.5,143.4C8.7,129.8 8.9,120.3 9.4,108.8C9.9,97.2 10.6,85.6 11.5,74.1C12.4,62.5 13.4,51.8 14.6,39.5C15.9,27.2 18.3,6.6 19.1,0Z" fill="#bebebe"/><path d="M18.7,0C17.9,6.6 15.5,27.2 14.3,39.5C13.1,51.8 12.1,62.5 11.2,74.1C10.4,85.6 9.7,97.2 9.2,108.8C8.7,120.3 8.5,129.8 8.3,143.4C8.1,157 8.2,182.4 8.2,190.2L9.4,190.2C9.4,182.4 9.3,157 9.5,143.4C9.7,129.8 10,120.3 10.6,108.8C11.1,97.2 11.9,85.6 12.9,74.1C13.9,62.5 15,51.8 16.4,39.5C17.9,27.2 20.6,6.6 21.4,0Z" fill="#f1f1f1"/><path d="M21,0C20.2,6.6 17.5,27.2 16.1,39.5C14.7,51.8 13.6,62.5 12.7,74.1C11.7,85.6 10.9,97.2 10.3,108.8C9.8,120.3 9.5,129.8 9.3,143.4C9.1,157 9.2,182.4 9.2,190.2L10.4,190.2C10.4,182.4 10.4,157 10.6,143.4C10.8,129.8 11.1,120.3 11.7,108.8C12.3,97.2 13.3,85.6 14.3,74.1C15.4,62.5 16.7,51.8 18.3,39.5C19.8,27.2 22.9,6.6 23.8,0Z" fill="#f8f8f8"/><path d="M23.4,0C22.5,6.6 19.5,27.2 17.9,39.5C16.4,51.8 15.2,62.5 14.1,74.1C13,85.6 12.1,97.2 11.5,108.8C10.9,120.3 10.6,129.8 10.4,143.4C10.2,157 10.2,182.4 10.2,190.2L11.4,190.2C11.4,182.4 11.3,157 11.6,143.4C11.8,129.8 12.1,120.3 12.8,108.8C13.5,97.2 14.5,85.6 15.7,74.1C16.9,62.5 18.2,51.8 19.9,39.5C21.7,27.2 25,6.6 26,0Z" fill="#fafafa"/><path d="M25.6,0C24.6,6.6 21.3,27.2 19.6,39.5C17.9,51.8 16.6,62.5 15.4,74.1C14.2,85.6 13.3,97.2 12.6,108.8C11.9,120.3 11.6,129.8 11.4,143.4C11.1,157 11.2,182.4 11.2,190.2L12.3,190.2C12.4,182.4 12.3,157 12.5,143.4C12.8,129.8 13.1,120.3 13.9,108.8C14.6,97.2 15.7,85.6 17,74.1C18.3,62.5 19.8,51.8 21.6,39.5C23.5,27.2 27.1,6.6 28.2,0Z" fill="#f9f9f9"/><path d="M27.8,0C26.7,6.6 23.1,27.2 21.3,39.5C19.5,51.8 18,62.5 16.7,74.1C15.5,85.6 14.4,97.2 13.7,108.8C12.9,120.3 12.6,129.8 12.3,143.4C12.1,157 12.2,182.4 12.1,190.2L13.3,190.2C13.3,182.4 13.2,157 13.5,143.4C13.8,129.8 14.2,120.3 15,108.8C15.8,97.2 16.9,85.6 18.3,74.1C19.7,62.5 21.3,51.8 23.3,39.5C25.3,27.2 29.2,6.6 30.4,0Z" fill="#f8f8f8"/><path d="M30,0C28.8,6.6 25,27.2 23,39.5C21,51.8 19.4,62.5 18.1,74.1C16.7,85.6 15.5,97.2 14.8,108.8C14,120.3 13.6,129.8 13.3,143.4C13.1,157 13.1,182.4 13.1,190.2L14.2,190.2C14.3,182.4 14.2,157 14.5,143.4C14.8,129.8 15.2,120.3 16,108.8C16.9,97.2 18.2,85.6 19.7,74.1C21.1,62.5 22.8,51.8 25,39.5C27.2,27.2 31.3,6.6 32.6,0Z" fill="#f6f6f6"/><path d="M32.2,0C30.9,6.6 26.8,27.2 24.7,39.5C22.6,51.8 20.9,62.5 19.4,74.1C17.9,85.6 16.7,97.2 15.8,108.8C15,120.3 14.6,129.8 14.3,143.4C14,157 14.1,182.4 14.1,190.2L15.2,190.2C15.2,182.4 15.2,157 15.5,143.4C15.8,129.8 16.2,120.3 17.1,108.8C18,97.2 19.4,85.6 21,74.1C22.6,62.5 24.4,51.8 26.7,39.5C29,27.2 33.4,6.6 34.8,0Z" fill="#f5f5f5"/><path d="M34.4,0C33,6.6 28.6,27.2 26.4,39.5C24.1,51.8 22.3,62.5 20.7,74.1C19.2,85.6 17.8,97.2 16.9,108.8C16,120.3 15.6,129.8 15.3,143.4C15,157 15.1,182.4 15,190.2L16.1,190.2C16.1,182.4 16,157 16.3,143.4C16.7,129.8 17.1,120.3 18.1,108.8C19.1,97.2 20.5,85.6 22.2,74.1C23.9,62.5 25.8,51.8 28.2,39.5C30.6,27.2 35.3,6.6 36.8,0Z" fill="#f0f0f0"/><path d="M36.3,0C34.9,6.6 30.3,27.2 27.9,39.5C25.5,51.8 23.6,62.5 21.9,74.1C20.3,85.6 18.9,97.2 17.9,108.8C16.9,120.3 16.5,129.8 16.2,143.4C15.8,157 15.9,182.4 15.9,190.2L16.9,190.2C17,182.4 16.9,157 17.2,143.4C17.6,129.8 18,120.3 19.1,108.8C20.1,97.2 21.6,85.6 23.4,74.1C25.1,62.5 27.1,51.8 29.7,39.5C32.3,27.2 37.2,6.6 38.7,0Z" fill="#e6e6e6"/><path d="M38.3,0C36.8,6.6 31.9,27.2 29.4,39.5C26.9,51.8 24.9,62.5 23.1,74.1C21.3,85.6 19.9,97.2 18.9,108.8C17.8,120.3 17.4,129.8 17,143.4C16.7,157 16.8,182.4 16.7,190.2L18.2,190.2C18.2,182.4 18.1,157 18.5,143.4C18.9,129.8 19.4,120.3 20.5,108.8C21.6,97.2 23.2,85.6 25.1,74.1C27,62.5 29.2,51.8 31.9,39.5C34.7,27.2 40,6.6 41.6,0Z" fill="#b4b4b4"/><path d="M41.2,0C39.6,6.6 34.3,27.2 31.6,39.5C28.9,51.8 26.7,62.5 24.8,74.1C23,85.6 21.4,97.2 20.3,108.8C19.2,120.3 18.7,129.8 18.3,143.4C17.9,157 18.1,182.4 18,190.2L19.4,190.2C19.5,182.4 19.4,157 19.8,143.4C20.2,129.8 20.7,120.3 21.9,108.8C23.1,97.2 24.8,85.6 26.8,74.1C28.9,62.5 31.2,51.8 34.1,39.5C37.1,27.2 42.8,6.6 44.5,0Z" fill="#e2e2e2"/><path d="M44.1,0C42.4,6.6 36.7,27.2 33.8,39.5C30.9,51.8 28.6,62.5 26.6,74.1C24.6,85.6 22.9,97.2 21.7,108.8C20.5,120.3 20,129.8 19.6,143.4C19.2,157 19.3,182.4 19.3,190.2L20.7,190.2C20.8,182.4 20.6,157 21.1,143.4C21.5,129.8 22.1,120.3 23.3,108.8C24.6,97.2 26.4,85.6 28.6,74.1C30.7,62.5 33.2,51.8 36.3,39.5C39.5,27.2 45.5,6.6 47.4,0Z" fill="#dcdcdc"/><path d="M47,0C45.1,6.6 39.1,27.2 36,39.5C32.9,51.8 30.5,62.5 28.3,74.1C26.2,85.6 24.4,97.2 23.1,108.8C21.9,120.3 21.3,129.8 20.9,143.4C20.4,157 20.6,182.4 20.5,190.2L21.8,190.2C21.9,182.4 21.8,157 22.2,143.4C22.7,129.8 23.3,120.3 24.6,108.8C25.9,97.2 27.9,85.6 30.1,74.1C32.4,62.5 35,51.8 38.4,39.5C41.7,27.2 48,6.6 50,0Z" fill="#cdcdcd"/><path d="M49.6,0C47.6,6.6 41.3,27.2 38,39.5C34.7,51.8 32.2,62.5 29.9,74.1C27.6,85.6 25.7,97.2 24.4,108.8C23.1,120.3 22.5,129.8 22,143.4C21.6,157 21.7,182.4 21.7,190.2L23.6,190.2C23.7,182.4 23.5,157 24,143.4C24.5,129.8 25.1,120.3 26.6,108.8C28,97.2 30.1,85.6 32.5,74.1C35,62.5 37.8,51.8 41.4,39.5C45,27.2 51.9,6.6 54,0Z" fill="#b7b7b7"/></g><rect x="-55" y="0" width="110" height="190.2" fill="url(#shadeV)"/></g><rect x="-23.3" y="190.2" width="46.6" height="18.3" fill="url(#collar)"/><rect x="-23.3" y="190.2" width="46.6" height="1.3" fill="#2e2420" opacity="0.5"/></g></defs>
<defs><linearGradient id="shadeV" x1="0" y1="0" x2="0" y2="1"><stop offset="0" stop-color="#fff" stop-opacity="0.1"/><stop offset="1" stop-color="#777" stop-opacity="0.12"/></linearGradient></defs>
<g><circle cx="514.2" cy="1130.7" r="30.8" fill="url(#bodyL)" stroke="#4d3c32" stroke-width="0.5" stroke-linejoin="round"/><path d="M532.4,1101.2C534.3,1102.2 539.9,1105 543.7,1107.3C547.4,1109.6 551.9,1112 554.9,1115.1C558,1118.1 560.1,1121.6 561.9,1125.5C563.6,1129.4 564.7,1136.3 565.3,1138.5L565.3,1138.5C565.5,1140 565.9,1143.5 566.2,1148C566.5,1152.5 566.8,1158.3 567.1,1165.3C567.3,1172.3 567.8,1183.2 567.9,1190C568,1196.9 567.7,1197.5 567.7,1206.5C567.6,1215.5 567.7,1237.8 567.7,1244L567.7,1244L548.5,1244L548.5,1244C547.3,1239.3 543.8,1223.7 541.4,1215.9C538.9,1208.1 536.1,1202.8 533.9,1197.1C531.6,1191.4 528.9,1184.3 527.9,1181.7L527.6,1182.2C529.3,1180.8 534.9,1176.4 537.6,1174C540.3,1171.6 541.9,1170.1 543.7,1167.9C545.4,1165.8 547.1,1163.4 548,1161C548.9,1158.5 549.3,1155.4 549.3,1153.2C549.3,1151 548.9,1149.2 548,1148C547.1,1146.8 545.1,1146.1 543.7,1146.1C542.2,1146.1 540.6,1146.9 539.3,1148C538,1149 536.4,1151.6 535.9,1152.3L514.2,1138.7 L520.2,1110.7Z" fill="url(#bodyL)" stroke="#4d3c32" stroke-width="0.5" stroke-linejoin="round"/><circle cx="514.2" cy="1130.7" r="30.3" fill="url(#bodyL)"/><path d="M285,894.8C288.6,895.9 299.4,898.9 306.6,901.3C313.8,903.6 320.3,906.2 328.3,908.9C336.3,911.6 344.5,913.8 354.7,917.3C364.9,920.8 377.8,925.6 389.3,930C400.9,934.4 415.6,940.2 424,943.6C432.4,947 434.4,947.9 440,950.3C445.6,952.7 451.5,955.1 457.3,957.8C463.1,960.5 470.9,964.7 474.7,966.6C478.5,968.5 477.1,967.7 480,969.4C482.9,971.1 487.1,973.5 492,976.8C496.9,980.1 504.2,985.3 509.3,989.4C514.4,993.5 518,996.9 522.3,1001.5C526.6,1006.1 531.7,1012 535.3,1017.1C538.9,1022.2 541.5,1027 544,1031.9C546.5,1036.8 548.5,1041.9 550.1,1046.6C551.7,1051.3 552.6,1055.3 553.5,1060C554.4,1064.7 554.9,1071.7 555.2,1075C555.6,1078.3 555.6,1078 555.6,1080C555.6,1082 555.5,1083.2 555.4,1087.3C555.3,1091.4 555,1100.1 554.9,1104.7C554.8,1109.3 554.6,1113.3 554.5,1115L554.5,1115L532.4,1101.2L532.4,1101.2C533.1,1100.2 535.2,1097.4 536.7,1095.1C538.2,1092.8 539.9,1090 541.1,1087.3C542.3,1084.6 543.1,1081.6 543.7,1078.7C544.3,1075.8 544.8,1073.1 544.5,1070C544.2,1066.9 542.9,1063.5 541.8,1060C540.7,1056.5 539.7,1053.3 537.9,1049.2C536.1,1045.1 533.6,1040.1 531,1035.5C528.4,1030.9 525.9,1026.5 522.3,1021.5C518.7,1016.5 514.4,1010.8 509.3,1005.5C504.2,1000.2 496.9,993.4 492,989.5C487.1,985.6 482.9,983.9 480,982.4C477.1,980.9 478.5,982.1 474.7,980.2C470.9,978.4 463.1,973.9 457.3,971.3C451.5,968.7 445.6,966.6 440,964.5C434.4,962.4 432.4,961.6 424,958.5C415.6,955.4 400.9,950.1 389.3,946C377.8,941.9 366.7,938.2 354.7,934C342.7,929.8 326.4,924.6 317.5,921C308.6,917.4 305.7,915.2 301.2,912.1C296.7,909 293.1,905.3 290.4,902.4C287.7,899.5 285.9,896.1 285,894.8Z" fill="url(#wingL2)" stroke="#4d3c32" stroke-width="0.5" stroke-linejoin="round"/><clipPath id="stripclip"><path d="M268.7,856.3C268.7,856.3 264.2,853.9 268.7,855.8C273.2,857.7 285.9,863.5 295.8,867.7C305.7,871.9 318.5,877.2 328.3,881.2C338.1,885.2 344.5,887.5 354.7,891.5C364.9,895.5 377.8,900.8 389.3,905.5C400.9,910.2 415.6,916.4 424,920C432.4,923.6 432.6,923.8 440,927.2C447.4,930.6 461.9,937.3 468.6,940.5C475.3,943.7 477.6,945 480,946.3C482.4,947.6 479.9,946.2 483.3,948.2C486.8,950.2 494.9,954.6 500.7,958.6C506.5,962.6 513,967.7 518,972.1C523,976.5 527.4,981.1 531,985.1C534.6,989.1 537.1,992.3 539.7,996.3C542.3,1000.3 544.6,1004.2 546.6,1009.3C548.6,1014.4 550.8,1020.6 551.8,1026.7C552.8,1032.8 552.5,1042.8 552.6,1046L544,1031.9C542.5,1029.4 538.9,1022.2 535.3,1017.1C531.7,1012 526.6,1006.1 522.3,1001.5C518,996.9 514.4,993.5 509.3,989.4C504.2,985.3 496.9,980.1 492,976.8C487.1,973.5 482.9,971.1 480,969.4C477.1,967.7 478.5,968.5 474.7,966.6C470.9,964.7 463.1,960.5 457.3,957.8C451.5,955.1 445.6,952.7 440,950.3C434.4,947.9 432.4,947 424,943.6C415.6,940.2 400.9,934.4 389.3,930C377.8,925.6 364.9,920.8 354.7,917.3C344.5,913.8 336.3,911.6 328.3,908.9C320.3,906.2 313.8,903.6 306.6,901.3C299.4,898.9 288.6,895.9 285,894.8L285,893.7C283.9,891.9 280.6,886.5 278.5,882.9C276.3,879.3 273.5,875.5 272,872C270.4,868.6 269.8,864.9 269.3,862.3C268.7,859.7 268.8,857.3 268.7,856.3Z"/></clipPath><g id="stripArt"><path d="M268.7,856.3C268.7,856.3 264.2,853.9 268.7,855.8C273.2,857.7 285.9,863.5 295.8,867.7C305.7,871.9 318.5,877.2 328.3,881.2C338.1,885.2 344.5,887.5 354.7,891.5C364.9,895.5 377.8,900.8 389.3,905.5C400.9,910.2 415.6,916.4 424,920C432.4,923.6 432.6,923.8 440,927.2C447.4,930.6 461.9,937.3 468.6,940.5C475.3,943.7 477.6,945 480,946.3C482.4,947.6 479.9,946.2 483.3,948.2C486.8,950.2 494.9,954.6 500.7,958.6C506.5,962.6 513,967.7 518,972.1C523,976.5 527.4,981.1 531,985.1C534.6,989.1 537.1,992.3 539.7,996.3C542.3,1000.3 544.6,1004.2 546.6,1009.3C548.6,1014.4 550.8,1020.6 551.8,1026.7C552.8,1032.8 552.5,1042.8 552.6,1046L544,1031.9C542.5,1029.4 538.9,1022.2 535.3,1017.1C531.7,1012 526.6,1006.1 522.3,1001.5C518,996.9 514.4,993.5 509.3,989.4C504.2,985.3 496.9,980.1 492,976.8C487.1,973.5 482.9,971.1 480,969.4C477.1,967.7 478.5,968.5 474.7,966.6C470.9,964.7 463.1,960.5 457.3,957.8C451.5,955.1 445.6,952.7 440,950.3C434.4,947.9 432.4,947 424,943.6C415.6,940.2 400.9,934.4 389.3,930C377.8,925.6 364.9,920.8 354.7,917.3C344.5,913.8 336.3,911.6 328.3,908.9C320.3,906.2 313.8,903.6 306.6,901.3C299.4,898.9 288.6,895.9 285,894.8L285,893.7C283.9,891.9 280.6,886.5 278.5,882.9C276.3,879.3 273.5,875.5 272,872C270.4,868.6 269.8,864.9 269.3,862.3C268.7,859.7 268.8,857.3 268.7,856.3Z" fill="#d3d4d8"/><g clip-path="url(#stripclip)"><use href="#scl" x="259.7" y="853.5"/><use href="#scl" x="294.2" y="863.7"/><use href="#scl" x="311.8" y="869.0"/><use href="#scl" x="330.3" y="875.3"/><use href="#scl" x="345.9" y="880.5"/><use href="#scl" x="364.0" y="886.2"/><use href="#scl" x="381.6" y="892.5"/><use href="#scl" x="398.8" y="899.0"/><use href="#scl" x="415.9" y="905.5"/><use href="#scl" x="432.9" y="912.2"/><use href="#scl" x="450.3" y="919.5"/><use href="#scl" x="467.2" y="926.7"/><use href="#scl" x="485.1" y="935.5"/><use href="#scl" x="502.8" y="945.2"/><use href="#scl" x="519.9" y="956.8"/><use href="#scl" x="536.6" y="970.1"/><use href="#scl" x="551.9" y="986.0"/><use href="#scl" x="566.0" y="1005.0"/><use href="#scl" x="574.8" y="1020.3"/><use href="#scl" x="588.2" y="1042.1"/><use href="#scl" x="274.5" y="866.9"/><use href="#scl" x="300.4" y="874.5"/><use href="#scl" x="318.6" y="880.2"/><use href="#scl" x="335.4" y="886.2"/><use href="#scl" x="352.0" y="891.4"/><use href="#scl" x="370.0" y="897.5"/><use href="#scl" x="387.2" y="903.8"/><use href="#scl" x="404.3" y="910.3"/><use href="#scl" x="421.2" y="916.9"/><use href="#scl" x="438.2" y="923.7"/><use href="#scl" x="455.0" y="930.8"/><use href="#scl" x="472.8" y="938.9"/><use href="#scl" x="489.8" y="947.6"/><use href="#scl" x="507.0" y="958.2"/><use href="#scl" x="522.9" y="969.8"/><use href="#scl" x="538.6" y="984.1"/><use href="#scl" x="551.9" y="999.6"/><use href="#scl" x="563.4" y="1017.9"/><use href="#scl" x="572.2" y="1032.4"/><use href="#scl" x="590.2" y="1061.9"/><use href="#scl" x="254.8" y="870.0"/><use href="#scl" x="289.3" y="880.2"/><use href="#scl" x="306.7" y="885.4"/><use href="#scl" x="324.4" y="891.4"/><use href="#scl" x="340.8" y="896.9"/><use href="#scl" x="358.4" y="902.5"/><use href="#scl" x="375.7" y="908.7"/><use href="#scl" x="392.7" y="915.0"/><use href="#scl" x="409.7" y="921.6"/><use href="#scl" x="426.5" y="928.2"/><use href="#scl" x="443.5" y="935.3"/><use href="#scl" x="460.2" y="942.4"/><use href="#scl" x="477.2" y="950.8"/><use href="#scl" x="493.8" y="959.9"/><use href="#scl" x="509.8" y="970.7"/><use href="#scl" x="525.1" y="982.9"/><use href="#scl" x="538.9" y="997.2"/><use href="#scl" x="551.2" y="1013.8"/><use href="#scl" x="560.2" y="1029.2"/><use href="#scl" x="573.5" y="1051.1"/><use href="#scl" x="269.6" y="883.3"/><use href="#scl" x="295.5" y="891.0"/><use href="#scl" x="313.0" y="896.5"/><use href="#scl" x="329.9" y="902.5"/><use href="#scl" x="346.9" y="907.8"/><use href="#scl" x="364.2" y="913.7"/><use href="#scl" x="381.2" y="919.9"/><use href="#scl" x="398.1" y="926.3"/><use href="#scl" x="414.9" y="932.9"/><use href="#scl" x="431.7" y="939.6"/><use href="#scl" x="448.3" y="946.7"/><use href="#scl" x="465.1" y="954.3"/><use href="#scl" x="481.4" y="962.6"/><use href="#scl" x="497.2" y="972.4"/><use href="#scl" x="512.2" y="983.3"/><use href="#scl" x="526.1" y="996.0"/><use href="#scl" x="538.3" y="1010.1"/><use href="#scl" x="548.3" y="1026.2"/><use href="#scl" x="557.5" y="1041.4"/><use href="#scl" x="575.6" y="1070.9"/><use href="#scl" x="249.9" y="886.4"/><use href="#scl" x="284.4" y="896.7"/><use href="#scl" x="301.7" y="901.8"/><use href="#scl" x="318.6" y="907.6"/><use href="#scl" x="335.8" y="913.4"/><use href="#scl" x="352.9" y="918.8"/><use href="#scl" x="369.8" y="924.8"/><use href="#scl" x="386.6" y="931.1"/><use href="#scl" x="403.4" y="937.6"/><use href="#scl" x="420.1" y="944.2"/><use href="#scl" x="436.7" y="951.1"/><use href="#scl" x="453.2" y="958.1"/><use href="#scl" x="469.3" y="966.0"/><use href="#scl" x="484.9" y="974.6"/><use href="#scl" x="499.7" y="984.6"/><use href="#scl" x="513.6" y="995.7"/><use href="#scl" x="525.9" y="1008.5"/><use href="#scl" x="536.5" y="1022.6"/><use href="#scl" x="545.5" y="1038.2"/><use href="#scl" x="558.8" y="1060.0"/></g><path d="M268.7,856.3C268.7,856.3 264.2,853.9 268.7,855.8C273.2,857.7 285.9,863.5 295.8,867.7C305.7,871.9 318.5,877.2 328.3,881.2C338.1,885.2 344.5,887.5 354.7,891.5C364.9,895.5 377.8,900.8 389.3,905.5C400.9,910.2 415.6,916.4 424,920C432.4,923.6 432.6,923.8 440,927.2C447.4,930.6 461.9,937.3 468.6,940.5C475.3,943.7 477.6,945 480,946.3C482.4,947.6 479.9,946.2 483.3,948.2C486.8,950.2 494.9,954.6 500.7,958.6C506.5,962.6 513,967.7 518,972.1C523,976.5 527.4,981.1 531,985.1C534.6,989.1 537.1,992.3 539.7,996.3C542.3,1000.3 544.6,1004.2 546.6,1009.3C548.6,1014.4 550.8,1020.6 551.8,1026.7C552.8,1032.8 552.5,1042.8 552.6,1046L544,1031.9C542.5,1029.4 538.9,1022.2 535.3,1017.1C531.7,1012 526.6,1006.1 522.3,1001.5C518,996.9 514.4,993.5 509.3,989.4C504.2,985.3 496.9,980.1 492,976.8C487.1,973.5 482.9,971.1 480,969.4C477.1,967.7 478.5,968.5 474.7,966.6C470.9,964.7 463.1,960.5 457.3,957.8C451.5,955.1 445.6,952.7 440,950.3C434.4,947.9 432.4,947 424,943.6C415.6,940.2 400.9,934.4 389.3,930C377.8,925.6 364.9,920.8 354.7,917.3C344.5,913.8 336.3,911.6 328.3,908.9C320.3,906.2 313.8,903.6 306.6,901.3C299.4,898.9 288.6,895.9 285,894.8L285,893.7C283.9,891.9 280.6,886.5 278.5,882.9C276.3,879.3 273.5,875.5 272,872C270.4,868.6 269.8,864.9 269.3,862.3C268.7,859.7 268.8,857.3 268.7,856.3Z" fill="none" stroke="#f3e2c4" stroke-width="1.6"/></g><path d="M227,792.5C229.4,794.6 235.6,800.4 241.7,805.4C247.8,810.4 256.1,817.2 263.3,822.2C270.5,827.2 275.6,829.9 285,835.2C294.4,840.5 308.4,848.3 320,854.2C331.6,860.1 343.1,865.3 354.7,870.6C366.2,875.9 377.8,881 389.3,886C400.9,891 413.1,896.1 424,900.8C434.9,905.5 447.7,911 455,914.2C462.3,917.4 463.5,918 467.7,920C471.9,922 473.6,923.1 480,926.4C486.4,929.7 499.6,936.7 505.9,940C512.2,943.3 513.8,943.5 518,946.1C522.2,948.7 527.4,952.4 531,955.6C534.6,958.8 536.8,961.2 539.7,965.1C542.6,969 545.7,974.2 548.3,979C550.9,983.8 553.4,988.7 555.3,993.7C557.2,998.8 558.3,1003.8 559.6,1009.3C560.9,1014.8 562.2,1020.9 563.1,1026.7C564,1032.5 564.4,1038.5 564.8,1044C565.2,1049.5 565.4,1054 565.7,1060C566.1,1066 566.7,1074 566.9,1080C567.1,1086 566.9,1089 566.9,1096C566.9,1103 566.9,1114.9 566.6,1122C566.3,1129.1 565.5,1135.8 565.3,1138.5L565.3,1138.5C564.7,1136.3 563.7,1129.4 561.9,1125.5C560,1121.6 555.7,1116.8 554.5,1115.1L554.5,1115C554.6,1113.3 554.8,1109.3 554.9,1104.7C555,1100.1 555.3,1091.4 555.4,1087.3C555.5,1083.2 555.3,1084.5 555.6,1080C555.9,1075.5 557,1066 557,1060C557,1054 556.2,1049.5 555.3,1044C554.4,1038.5 553.2,1032.5 551.8,1026.7C550.3,1020.9 548.6,1014.4 546.6,1009.3C544.6,1004.2 542.3,1000.3 539.7,996.3C537.1,992.3 534.6,989.1 531,985.1C527.4,981.1 523,976.5 518,972.1C513,967.7 506.5,962.6 500.7,958.6C494.9,954.6 486.8,950.2 483.3,948.2C479.9,946.2 482.4,947.6 480,946.3C477.6,945 475.3,943.7 468.6,940.5C461.9,937.3 447.4,930.6 440,927.2C432.6,923.8 432.4,923.6 424,920C415.6,916.4 400.9,910.2 389.3,905.5C377.8,900.8 364.9,895.5 354.7,891.5C344.5,887.5 338.1,885.2 328.3,881.2C318.5,877.2 305.7,871.9 295.8,867.7C285.9,863.5 276.6,859.4 268.7,855.8C260.8,852.2 252,847.7 248.7,846.1Z" fill="url(#wingL)" stroke="#4d3c32" stroke-width="0.5" stroke-linejoin="round"/><path d="M285,894.8C288.6,895.9 299.4,898.9 306.6,901.3C313.8,903.6 320.3,906.2 328.3,908.9C336.3,911.6 344.5,913.8 354.7,917.3C364.9,920.8 377.8,925.6 389.3,930C400.9,934.4 415.6,940.2 424,943.6C432.4,947 434.4,947.9 440,950.3C445.6,952.7 451.5,955.1 457.3,957.8C463.1,960.5 470.9,964.7 474.7,966.6C478.5,968.5 477.1,967.7 480,969.4C482.9,971.1 487.1,973.5 492,976.8C496.9,980.1 504.2,985.3 509.3,989.4C514.4,993.5 518,996.9 522.3,1001.5C526.6,1006.1 531.7,1012 535.3,1017.1C538.9,1022.2 542.5,1029.4 544,1031.9" fill="none" stroke="#f6e5c6" stroke-width="1.6" transform="translate(0.3,-1.1)"/><path d="M285,894.8C288.6,895.9 299.4,898.9 306.6,901.3C313.8,903.6 320.3,906.2 328.3,908.9C336.3,911.6 344.5,913.8 354.7,917.3C364.9,920.8 377.8,925.6 389.3,930C400.9,934.4 415.6,940.2 424,943.6C432.4,947 434.4,947.9 440,950.3C445.6,952.7 451.5,955.1 457.3,957.8C463.1,960.5 470.9,964.7 474.7,966.6C478.5,968.5 477.1,967.7 480,969.4C482.9,971.1 487.1,973.5 492,976.8C496.9,980.1 504.2,985.3 509.3,989.4C514.4,993.5 518,996.9 522.3,1001.5C526.6,1006.1 531.7,1012 535.3,1017.1C538.9,1022.2 541.5,1027 544,1031.9C546.5,1036.8 548.5,1041.9 550.1,1046.6C551.7,1051.3 552.6,1055.3 553.5,1060C554.4,1064.7 554.9,1072.5 555.2,1075" fill="none" stroke="#3f3128" stroke-width="1.0"/><path d="M248.7,846.1C252,847.7 260.8,852.2 268.7,855.8C276.6,859.4 285.9,863.5 295.8,867.7C305.7,871.9 318.5,877.2 328.3,881.2C338.1,885.2 344.5,887.5 354.7,891.5C364.9,895.5 377.8,900.8 389.3,905.5C400.9,910.2 415.6,916.4 424,920C432.4,923.6 432.6,923.8 440,927.2C447.4,930.6 461.9,937.3 468.6,940.5C475.3,943.7 477.6,945 480,946.3C482.4,947.6 479.9,946.2 483.3,948.2C486.8,950.2 494.9,954.6 500.7,958.6C506.5,962.6 513,967.7 518,972.1C523,976.5 527.4,981.1 531,985.1C534.6,989.1 537.1,992.3 539.7,996.3C542.3,1000.3 544.6,1004.2 546.6,1009.3C548.6,1014.4 550.3,1020.9 551.8,1026.7C553.2,1032.5 554.4,1038.5 555.3,1044C556.2,1049.5 557,1054 557,1060C557,1066 555.9,1075.5 555.6,1080C555.3,1084.5 555.5,1083.2 555.4,1087.3C555.3,1091.4 555,1100.1 554.9,1104.7C554.8,1109.3 554.6,1113.3 554.5,1115" fill="none" stroke="#3f3128" stroke-width="1.0"/><path d="M322,923.2C323.8,923.9 329.2,925.8 333,927.2C336.8,928.6 341.2,930.1 345,931.4C348.8,932.7 352.5,933.9 356,935C359.5,936.1 364.3,937.5 366,938L366,938.6C364.3,938.2 359.5,937.2 356,936.4C352.5,935.6 348.8,934.6 345,933.6C341.2,932.6 336.2,931.4 333,930.2C329.8,929 327.2,927.2 326,926.6Z" fill="#ffffff" opacity="0.95"/><g transform="translate(514.2,1130.7)"><g fill="none" stroke="#f7e8c9" stroke-linecap="butt"><circle r="27.00" stroke-width="1.87"/><path d="M23.02,2.01A23.10,23.10 0 0 1 20.01,11.55M11.55,20.01A23.10,23.10 0 0 1 2.01,23.02M-2.01,23.02A23.10,23.10 0 0 1 -11.55,20.01M-20.01,11.55A23.10,23.10 0 0 1 -23.02,2.01M-23.02,-2.01A23.10,23.10 0 0 1 -20.01,-11.55M-11.55,-20.01A23.10,23.10 0 0 1 -2.01,-23.02M2.01,-23.02A23.10,23.10 0 0 1 11.55,-20.01M20.01,-11.55A23.10,23.10 0 0 1 23.02,-2.01" stroke-width="1.8675889328063242"/><path d="M19.14,1.67A19.21,19.21 0 0 1 15.54,11.29M11.29,15.54A19.21,19.21 0 0 1 1.67,19.14M-1.67,19.14A19.21,19.21 0 0 1 -11.29,15.54M-15.54,11.29A19.21,19.21 0 0 1 -19.14,1.67M-19.14,-1.67A19.21,19.21 0 0 1 -15.54,-11.29M-11.29,-15.54A19.21,19.21 0 0 1 -1.67,-19.14M1.67,-19.14A19.21,19.21 0 0 1 11.29,-15.54M15.54,-11.29A19.21,19.21 0 0 1 19.14,-1.67" stroke-width="1.8675889328063242"/><circle r="15.31" stroke-width="1.87"/><path d="M15.83,9.14L20.82,12.02M9.14,15.83L12.02,20.82M-9.14,15.83L-12.02,20.82M-15.83,9.14L-20.82,12.02M-15.83,-9.14L-20.82,-12.02M-9.14,-15.83L-12.02,-20.82M9.14,-15.83L12.02,-20.82M15.83,-9.14L20.82,-12.02" stroke-width="1.87"/><path d="M0,-27.00V-10.14M0,27.00V10.14M-27.00,0H-10.14M27.00,0H10.14" stroke-width="2.77"/><ellipse cx="0" cy="-7.58" rx="2.35" ry="3.36" stroke-width="1.23" transform="rotate(0)"/><ellipse cx="0" cy="-7.58" rx="2.35" ry="3.36" stroke-width="1.23" transform="rotate(45)"/><ellipse cx="0" cy="-7.58" rx="2.35" ry="3.36" stroke-width="1.23" transform="rotate(90)"/><ellipse cx="0" cy="-7.58" rx="2.35" ry="3.36" stroke-width="1.23" transform="rotate(135)"/><ellipse cx="0" cy="-7.58" rx="2.35" ry="3.36" stroke-width="1.23" transform="rotate(180)"/><ellipse cx="0" cy="-7.58" rx="2.35" ry="3.36" stroke-width="1.23" transform="rotate(225)"/><ellipse cx="0" cy="-7.58" rx="2.35" ry="3.36" stroke-width="1.23" transform="rotate(270)"/><ellipse cx="0" cy="-7.58" rx="2.35" ry="3.36" stroke-width="1.23" transform="rotate(315)"/><circle r="3.42" stroke-width="1.28"/></g></g></g>
<g transform="translate(1182.2,0) scale(-1,1)"><circle cx="514.2" cy="1130.7" r="30.8" fill="url(#bodyR)" stroke="#4d3c32" stroke-width="0.5" stroke-linejoin="round"/><path d="M532.4,1101.2C534.3,1102.2 539.9,1105 543.7,1107.3C547.4,1109.6 551.9,1112 554.9,1115.1C558,1118.1 560.1,1121.6 561.9,1125.5C563.6,1129.4 564.7,1136.3 565.3,1138.5L565.3,1138.5C565.5,1140 565.9,1143.5 566.2,1148C566.5,1152.5 566.8,1158.3 567.1,1165.3C567.3,1172.3 567.8,1183.2 567.9,1190C568,1196.9 567.7,1197.5 567.7,1206.5C567.6,1215.5 567.7,1237.8 567.7,1244L567.7,1244L548.5,1244L548.5,1244C547.3,1239.3 543.8,1223.7 541.4,1215.9C538.9,1208.1 536.1,1202.8 533.9,1197.1C531.6,1191.4 528.9,1184.3 527.9,1181.7L527.6,1182.2C529.3,1180.8 534.9,1176.4 537.6,1174C540.3,1171.6 541.9,1170.1 543.7,1167.9C545.4,1165.8 547.1,1163.4 548,1161C548.9,1158.5 549.3,1155.4 549.3,1153.2C549.3,1151 548.9,1149.2 548,1148C547.1,1146.8 545.1,1146.1 543.7,1146.1C542.2,1146.1 540.6,1146.9 539.3,1148C538,1149 536.4,1151.6 535.9,1152.3L514.2,1138.7 L520.2,1110.7Z" fill="url(#bodyR)" stroke="#4d3c32" stroke-width="0.5" stroke-linejoin="round"/><circle cx="514.2" cy="1130.7" r="30.3" fill="url(#bodyR)"/><path d="M285,894.8C288.6,895.9 299.4,898.9 306.6,901.3C313.8,903.6 320.3,906.2 328.3,908.9C336.3,911.6 344.5,913.8 354.7,917.3C364.9,920.8 377.8,925.6 389.3,930C400.9,934.4 415.6,940.2 424,943.6C432.4,947 434.4,947.9 440,950.3C445.6,952.7 451.5,955.1 457.3,957.8C463.1,960.5 470.9,964.7 474.7,966.6C478.5,968.5 477.1,967.7 480,969.4C482.9,971.1 487.1,973.5 492,976.8C496.9,980.1 504.2,985.3 509.3,989.4C514.4,993.5 518,996.9 522.3,1001.5C526.6,1006.1 531.7,1012 535.3,1017.1C538.9,1022.2 541.5,1027 544,1031.9C546.5,1036.8 548.5,1041.9 550.1,1046.6C551.7,1051.3 552.6,1055.3 553.5,1060C554.4,1064.7 554.9,1071.7 555.2,1075C555.6,1078.3 555.6,1078 555.6,1080C555.6,1082 555.5,1083.2 555.4,1087.3C555.3,1091.4 555,1100.1 554.9,1104.7C554.8,1109.3 554.6,1113.3 554.5,1115L554.5,1115L532.4,1101.2L532.4,1101.2C533.1,1100.2 535.2,1097.4 536.7,1095.1C538.2,1092.8 539.9,1090 541.1,1087.3C542.3,1084.6 543.1,1081.6 543.7,1078.7C544.3,1075.8 544.8,1073.1 544.5,1070C544.2,1066.9 542.9,1063.5 541.8,1060C540.7,1056.5 539.7,1053.3 537.9,1049.2C536.1,1045.1 533.6,1040.1 531,1035.5C528.4,1030.9 525.9,1026.5 522.3,1021.5C518.7,1016.5 514.4,1010.8 509.3,1005.5C504.2,1000.2 496.9,993.4 492,989.5C487.1,985.6 482.9,983.9 480,982.4C477.1,980.9 478.5,982.1 474.7,980.2C470.9,978.4 463.1,973.9 457.3,971.3C451.5,968.7 445.6,966.6 440,964.5C434.4,962.4 432.4,961.6 424,958.5C415.6,955.4 400.9,950.1 389.3,946C377.8,941.9 366.7,938.2 354.7,934C342.7,929.8 326.4,924.6 317.5,921C308.6,917.4 305.7,915.2 301.2,912.1C296.7,909 293.1,905.3 290.4,902.4C287.7,899.5 285.9,896.1 285,894.8Z" fill="url(#wingR2)" stroke="#4d3c32" stroke-width="0.5" stroke-linejoin="round"/><use href="#stripArt"/><path d="M227,792.5C229.4,794.6 235.6,800.4 241.7,805.4C247.8,810.4 256.1,817.2 263.3,822.2C270.5,827.2 275.6,829.9 285,835.2C294.4,840.5 308.4,848.3 320,854.2C331.6,860.1 343.1,865.3 354.7,870.6C366.2,875.9 377.8,881 389.3,886C400.9,891 413.1,896.1 424,900.8C434.9,905.5 447.7,911 455,914.2C462.3,917.4 463.5,918 467.7,920C471.9,922 473.6,923.1 480,926.4C486.4,929.7 499.6,936.7 505.9,940C512.2,943.3 513.8,943.5 518,946.1C522.2,948.7 527.4,952.4 531,955.6C534.6,958.8 536.8,961.2 539.7,965.1C542.6,969 545.7,974.2 548.3,979C550.9,983.8 553.4,988.7 555.3,993.7C557.2,998.8 558.3,1003.8 559.6,1009.3C560.9,1014.8 562.2,1020.9 563.1,1026.7C564,1032.5 564.4,1038.5 564.8,1044C565.2,1049.5 565.4,1054 565.7,1060C566.1,1066 566.7,1074 566.9,1080C567.1,1086 566.9,1089 566.9,1096C566.9,1103 566.9,1114.9 566.6,1122C566.3,1129.1 565.5,1135.8 565.3,1138.5L565.3,1138.5C564.7,1136.3 563.7,1129.4 561.9,1125.5C560,1121.6 555.7,1116.8 554.5,1115.1L554.5,1115C554.6,1113.3 554.8,1109.3 554.9,1104.7C555,1100.1 555.3,1091.4 555.4,1087.3C555.5,1083.2 555.3,1084.5 555.6,1080C555.9,1075.5 557,1066 557,1060C557,1054 556.2,1049.5 555.3,1044C554.4,1038.5 553.2,1032.5 551.8,1026.7C550.3,1020.9 548.6,1014.4 546.6,1009.3C544.6,1004.2 542.3,1000.3 539.7,996.3C537.1,992.3 534.6,989.1 531,985.1C527.4,981.1 523,976.5 518,972.1C513,967.7 506.5,962.6 500.7,958.6C494.9,954.6 486.8,950.2 483.3,948.2C479.9,946.2 482.4,947.6 480,946.3C477.6,945 475.3,943.7 468.6,940.5C461.9,937.3 447.4,930.6 440,927.2C432.6,923.8 432.4,923.6 424,920C415.6,916.4 400.9,910.2 389.3,905.5C377.8,900.8 364.9,895.5 354.7,891.5C344.5,887.5 338.1,885.2 328.3,881.2C318.5,877.2 305.7,871.9 295.8,867.7C285.9,863.5 276.6,859.4 268.7,855.8C260.8,852.2 252,847.7 248.7,846.1Z" fill="url(#wingR)" stroke="#4d3c32" stroke-width="0.5" stroke-linejoin="round"/><path d="M285,894.8C288.6,895.9 299.4,898.9 306.6,901.3C313.8,903.6 320.3,906.2 328.3,908.9C336.3,911.6 344.5,913.8 354.7,917.3C364.9,920.8 377.8,925.6 389.3,930C400.9,934.4 415.6,940.2 424,943.6C432.4,947 434.4,947.9 440,950.3C445.6,952.7 451.5,955.1 457.3,957.8C463.1,960.5 470.9,964.7 474.7,966.6C478.5,968.5 477.1,967.7 480,969.4C482.9,971.1 487.1,973.5 492,976.8C496.9,980.1 504.2,985.3 509.3,989.4C514.4,993.5 518,996.9 522.3,1001.5C526.6,1006.1 531.7,1012 535.3,1017.1C538.9,1022.2 542.5,1029.4 544,1031.9" fill="none" stroke="#f6e5c6" stroke-width="1.6" transform="translate(0.3,-1.1)"/><path d="M285,894.8C288.6,895.9 299.4,898.9 306.6,901.3C313.8,903.6 320.3,906.2 328.3,908.9C336.3,911.6 344.5,913.8 354.7,917.3C364.9,920.8 377.8,925.6 389.3,930C400.9,934.4 415.6,940.2 424,943.6C432.4,947 434.4,947.9 440,950.3C445.6,952.7 451.5,955.1 457.3,957.8C463.1,960.5 470.9,964.7 474.7,966.6C478.5,968.5 477.1,967.7 480,969.4C482.9,971.1 487.1,973.5 492,976.8C496.9,980.1 504.2,985.3 509.3,989.4C514.4,993.5 518,996.9 522.3,1001.5C526.6,1006.1 531.7,1012 535.3,1017.1C538.9,1022.2 541.5,1027 544,1031.9C546.5,1036.8 548.5,1041.9 550.1,1046.6C551.7,1051.3 552.6,1055.3 553.5,1060C554.4,1064.7 554.9,1072.5 555.2,1075" fill="none" stroke="#3f3128" stroke-width="1.0"/><path d="M248.7,846.1C252,847.7 260.8,852.2 268.7,855.8C276.6,859.4 285.9,863.5 295.8,867.7C305.7,871.9 318.5,877.2 328.3,881.2C338.1,885.2 344.5,887.5 354.7,891.5C364.9,895.5 377.8,900.8 389.3,905.5C400.9,910.2 415.6,916.4 424,920C432.4,923.6 432.6,923.8 440,927.2C447.4,930.6 461.9,937.3 468.6,940.5C475.3,943.7 477.6,945 480,946.3C482.4,947.6 479.9,946.2 483.3,948.2C486.8,950.2 494.9,954.6 500.7,958.6C506.5,962.6 513,967.7 518,972.1C523,976.5 527.4,981.1 531,985.1C534.6,989.1 537.1,992.3 539.7,996.3C542.3,1000.3 544.6,1004.2 546.6,1009.3C548.6,1014.4 550.3,1020.9 551.8,1026.7C553.2,1032.5 554.4,1038.5 555.3,1044C556.2,1049.5 557,1054 557,1060C557,1066 555.9,1075.5 555.6,1080C555.3,1084.5 555.5,1083.2 555.4,1087.3C555.3,1091.4 555,1100.1 554.9,1104.7C554.8,1109.3 554.6,1113.3 554.5,1115" fill="none" stroke="#3f3128" stroke-width="1.0"/><path d="M322,923.2C323.8,923.9 329.2,925.8 333,927.2C336.8,928.6 341.2,930.1 345,931.4C348.8,932.7 352.5,933.9 356,935C359.5,936.1 364.3,937.5 366,938L366,938.6C364.3,938.2 359.5,937.2 356,936.4C352.5,935.6 348.8,934.6 345,933.6C341.2,932.6 336.2,931.4 333,930.2C329.8,929 327.2,927.2 326,926.6Z" fill="#ffffff" opacity="0.95"/><g transform="translate(514.2,1130.7)"><g fill="none" stroke="#f7e8c9" stroke-linecap="butt"><circle r="27.00" stroke-width="1.87"/><path d="M23.02,2.01A23.10,23.10 0 0 1 20.01,11.55M11.55,20.01A23.10,23.10 0 0 1 2.01,23.02M-2.01,23.02A23.10,23.10 0 0 1 -11.55,20.01M-20.01,11.55A23.10,23.10 0 0 1 -23.02,2.01M-23.02,-2.01A23.10,23.10 0 0 1 -20.01,-11.55M-11.55,-20.01A23.10,23.10 0 0 1 -2.01,-23.02M2.01,-23.02A23.10,23.10 0 0 1 11.55,-20.01M20.01,-11.55A23.10,23.10 0 0 1 23.02,-2.01" stroke-width="1.8675889328063242"/><path d="M19.14,1.67A19.21,19.21 0 0 1 15.54,11.29M11.29,15.54A19.21,19.21 0 0 1 1.67,19.14M-1.67,19.14A19.21,19.21 0 0 1 -11.29,15.54M-15.54,11.29A19.21,19.21 0 0 1 -19.14,1.67M-19.14,-1.67A19.21,19.21 0 0 1 -15.54,-11.29M-11.29,-15.54A19.21,19.21 0 0 1 -1.67,-19.14M1.67,-19.14A19.21,19.21 0 0 1 11.29,-15.54M15.54,-11.29A19.21,19.21 0 0 1 19.14,-1.67" stroke-width="1.8675889328063242"/><circle r="15.31" stroke-width="1.87"/><path d="M15.83,9.14L20.82,12.02M9.14,15.83L12.02,20.82M-9.14,15.83L-12.02,20.82M-15.83,9.14L-20.82,12.02M-15.83,-9.14L-20.82,-12.02M-9.14,-15.83L-12.02,-20.82M9.14,-15.83L12.02,-20.82M15.83,-9.14L20.82,-12.02" stroke-width="1.87"/><path d="M0,-27.00V-10.14M0,27.00V10.14M-27.00,0H-10.14M27.00,0H10.14" stroke-width="2.77"/><ellipse cx="0" cy="-7.58" rx="2.35" ry="3.36" stroke-width="1.23" transform="rotate(0)"/><ellipse cx="0" cy="-7.58" rx="2.35" ry="3.36" stroke-width="1.23" transform="rotate(45)"/><ellipse cx="0" cy="-7.58" rx="2.35" ry="3.36" stroke-width="1.23" transform="rotate(90)"/><ellipse cx="0" cy="-7.58" rx="2.35" ry="3.36" stroke-width="1.23" transform="rotate(135)"/><ellipse cx="0" cy="-7.58" rx="2.35" ry="3.36" stroke-width="1.23" transform="rotate(180)"/><ellipse cx="0" cy="-7.58" rx="2.35" ry="3.36" stroke-width="1.23" transform="rotate(225)"/><ellipse cx="0" cy="-7.58" rx="2.35" ry="3.36" stroke-width="1.23" transform="rotate(270)"/><ellipse cx="0" cy="-7.58" rx="2.35" ry="3.36" stroke-width="1.23" transform="rotate(315)"/><circle r="3.42" stroke-width="1.28"/></g></g></g>
<rect x="585.6" y="740.8" width="11" height="52" fill="url(#rod)"/><g><path d="M500.1,889.5C500.2,892.1 500.2,899.6 500.4,905C500.6,910.4 500.6,916.7 501.5,922C502.4,927.3 504.1,932.7 506,937C507.9,941.3 510.1,944.6 512.9,948C515.7,951.4 519.3,954.7 523,957.5C526.7,960.3 529.8,962.4 535,964.9C540.2,967.4 548.9,969.8 554.5,972.6C560.1,975.4 565.5,978.8 568.8,981.7C572,984.6 573.1,988.6 574,990L576,975C574.8,974 571.9,971.1 569,968.8C566.1,966.5 563.2,963.4 558.4,961C553.6,958.6 544.9,956.7 540.2,954.5C535.5,952.3 533,950.4 530,948C527,945.6 524.2,943.2 522,940.2C519.8,937.2 518,933.5 516.5,930C515,926.5 514,923.6 513.2,919.4C512.5,915.2 512.2,910 512,905C511.8,900 511.8,892.1 511.8,889.5Z" fill="#43362f"/><path d="M505.4,888.9C505.4,891.5 505.4,899.2 505.6,904.4C505.8,909.6 505.9,915.4 506.8,920.1C507.6,924.9 509,929 510.6,932.9C512.3,936.8 514.3,940.3 516.9,943.5C519.4,946.7 522.5,949.5 525.9,952.1C529.3,954.8 532,956.8 537,959.1C542,961.4 550.6,963.6 555.9,966.2C561.1,968.8 565.2,972 568.3,974.6C571.4,977.3 573.4,980.7 574.4,981.9" fill="none" stroke="#84705f" stroke-width="3.2" stroke-linecap="round" filter="url(#blur1)" opacity="0.9"/><path d="M500.1,889.5C500.2,892.1 500.2,899.6 500.4,905C500.6,910.4 500.6,916.7 501.5,922C502.4,927.3 504.1,932.7 506,937C507.9,941.3 510.1,944.6 512.9,948C515.7,951.4 519.3,954.7 523,957.5C526.7,960.3 529.8,962.4 535,964.9C540.2,967.4 548.9,969.8 554.5,972.6C560.1,975.4 565.5,978.8 568.8,981.7C572,984.6 573.1,988.6 574,990" fill="none" stroke="#2a211d" stroke-width="1.2" opacity="0.8"/></g><g transform="translate(1182.2,0) scale(-1,1)"><path d="M500.1,889.5C500.2,892.1 500.2,899.6 500.4,905C500.6,910.4 500.6,916.7 501.5,922C502.4,927.3 504.1,932.7 506,937C507.9,941.3 510.1,944.6 512.9,948C515.7,951.4 519.3,954.7 523,957.5C526.7,960.3 529.8,962.4 535,964.9C540.2,967.4 548.9,969.8 554.5,972.6C560.1,975.4 565.5,978.8 568.8,981.7C572,984.6 573.1,988.6 574,990L576,975C574.8,974 571.9,971.1 569,968.8C566.1,966.5 563.2,963.4 558.4,961C553.6,958.6 544.9,956.7 540.2,954.5C535.5,952.3 533,950.4 530,948C527,945.6 524.2,943.2 522,940.2C519.8,937.2 518,933.5 516.5,930C515,926.5 514,923.6 513.2,919.4C512.5,915.2 512.2,910 512,905C511.8,900 511.8,892.1 511.8,889.5Z" fill="#43362f"/><path d="M505.4,888.9C505.4,891.5 505.4,899.2 505.6,904.4C505.8,909.6 505.9,915.4 506.8,920.1C507.6,924.9 509,929 510.6,932.9C512.3,936.8 514.3,940.3 516.9,943.5C519.4,946.7 522.5,949.5 525.9,952.1C529.3,954.8 532,956.8 537,959.1C542,961.4 550.6,963.6 555.9,966.2C561.1,968.8 565.2,972 568.3,974.6C571.4,977.3 573.4,980.7 574.4,981.9" fill="none" stroke="#84705f" stroke-width="3.2" stroke-linecap="round" filter="url(#blur1)" opacity="0.9"/><path d="M500.1,889.5C500.2,892.1 500.2,899.6 500.4,905C500.6,910.4 500.6,916.7 501.5,922C502.4,927.3 504.1,932.7 506,937C507.9,941.3 510.1,944.6 512.9,948C515.7,951.4 519.3,954.7 523,957.5C526.7,960.3 529.8,962.4 535,964.9C540.2,967.4 548.9,969.8 554.5,972.6C560.1,975.4 565.5,978.8 568.8,981.7C572,984.6 573.1,988.6 574,990" fill="none" stroke="#2a211d" stroke-width="1.2" opacity="0.8"/></g><path d="M539.3,792.3L643.1,792.3L640.3,846.7L542.4,846.7Z" fill="url(#boxfront)"/><path d="M539.3,792.3L643.1,792.3L643,794.2L539.4,794.2Z" fill="#8a7566"/><path d="M542.4,846.7L640.3,846.7L629.4,893.8L554.6,893.8Z" fill="url(#under)"/><path d="M542.4,846.7L640.3,846.7L629.4,893.8L554.6,893.8Z" fill="url(#underV)"/><rect x="591" y="856" width="1.3" height="37" fill="#d8c6a4"/><rect x="549" y="893.6" width="84.6" height="2.6" fill="#5a4d45"/><path d="M549.3,896C549.7,898.2 550.6,904.7 551.5,909C552.4,913.3 553.3,917.7 554.5,922C555.7,926.3 557.1,930.7 558.5,935C559.9,939.3 561.6,943.7 562.9,948C564.2,952.3 565.4,956.7 566.5,961C567.6,965.3 568.7,969.7 569.6,974C570.5,978.3 571.3,982.7 572,987C572.7,991.3 573.4,995.7 574,1000C574.6,1004.3 575.1,1008.2 575.4,1013C575.7,1017.8 575.7,1023.4 576,1029C576.3,1034.6 576.8,1040.9 577.2,1046.7C577.6,1052.5 578,1058.5 578.2,1064C578.4,1069.5 578.5,1074 578.6,1080C578.7,1086 578.8,1096.7 578.8,1100L603.8,1100C603.8,1096.7 603.9,1086 604,1080C604.1,1074 604.2,1069.5 604.4,1064C604.6,1058.5 605,1052.5 605.4,1046.7C605.8,1040.9 606.3,1034.6 606.6,1029C606.9,1023.4 606.9,1017.8 607.2,1013C607.5,1008.2 608,1004.3 608.6,1000C609.2,995.7 609.9,991.3 610.6,987C611.3,982.7 612.1,978.3 613,974C613.9,969.7 615,965.3 616.1,961C617.2,956.7 618.4,952.3 619.7,948C621,943.7 622.7,939.3 624.1,935C625.5,930.7 626.9,926.3 628.1,922C629.3,917.7 630.2,913.3 631.1,909C632,904.7 632.9,898.2 633.3,896Z" fill="url(#head)"/><path d="M549.3,896C549.7,898.2 550.6,904.7 551.5,909C552.4,913.3 553.3,917.7 554.5,922C555.7,926.3 557.1,930.7 558.5,935C559.9,939.3 561.6,943.7 562.9,948C564.2,952.3 565.4,956.7 566.5,961C567.6,965.3 568.7,969.7 569.6,974C570.5,978.3 571.3,982.7 572,987C572.7,991.3 573.4,995.7 574,1000C574.6,1004.3 575.1,1008.2 575.4,1013C575.7,1017.8 575.7,1023.4 576,1029C576.3,1034.6 576.8,1040.9 577.2,1046.7C577.6,1052.5 578,1058.5 578.2,1064C578.4,1069.5 578.5,1074 578.6,1080C578.7,1086 578.8,1096.7 578.8,1100L603.8,1100C603.8,1096.7 603.9,1086 604,1080C604.1,1074 604.2,1069.5 604.4,1064C604.6,1058.5 605,1052.5 605.4,1046.7C605.8,1040.9 606.3,1034.6 606.6,1029C606.9,1023.4 606.9,1017.8 607.2,1013C607.5,1008.2 608,1004.3 608.6,1000C609.2,995.7 609.9,991.3 610.6,987C611.3,982.7 612.1,978.3 613,974C613.9,969.7 615,965.3 616.1,961C617.2,956.7 618.4,952.3 619.7,948C621,943.7 622.7,939.3 624.1,935C625.5,930.7 626.9,926.3 628.1,922C629.3,917.7 630.2,913.3 631.1,909C632,904.7 632.9,898.2 633.3,896Z" fill="url(#headH)" mask="url(#hm)"/><path d="M549.3,896C549.7,898.2 550.6,904.7 551.5,909C552.4,913.3 553.3,917.7 554.5,922C555.7,926.3 557.1,930.7 558.5,935C559.9,939.3 561.6,943.7 562.9,948C564.2,952.3 565.4,956.7 566.5,961C567.6,965.3 568.7,969.7 569.6,974C570.5,978.3 571.3,982.7 572,987C572.7,991.3 573.4,995.7 574,1000C574.6,1004.3 575.1,1008.2 575.4,1013C575.7,1017.8 575.7,1023.4 576,1029C576.3,1034.6 576.8,1040.9 577.2,1046.7C577.6,1052.5 578,1058.5 578.2,1064C578.4,1069.5 578.5,1074 578.6,1080C578.7,1086 578.8,1096.7 578.8,1100L603.8,1100C603.8,1096.7 603.9,1086 604,1080C604.1,1074 604.2,1069.5 604.4,1064C604.6,1058.5 605,1052.5 605.4,1046.7C605.8,1040.9 606.3,1034.6 606.6,1029C606.9,1023.4 606.9,1017.8 607.2,1013C607.5,1008.2 608,1004.3 608.6,1000C609.2,995.7 609.9,991.3 610.6,987C611.3,982.7 612.1,978.3 613,974C613.9,969.7 615,965.3 616.1,961C617.2,956.7 618.4,952.3 619.7,948C621,943.7 622.7,939.3 624.1,935C625.5,930.7 626.9,926.3 628.1,922C629.3,917.7 630.2,913.3 631.1,909C632,904.7 632.9,898.2 633.3,896Z" fill="url(#headH2)" opacity="0.8"/><rect x="571.8" y="922" width="39.2" height="16.3" rx="2.2" fill="#ececec"/><rect x="573.6" y="925.2" width="35.6" height="9.6" rx="1" fill="#bdbdbd"/><path d="M575,926.5h32M575,929h32M575,931.5h32M575,933.8h32" stroke="#e4e4e4" stroke-width="0.8" stroke-dasharray="5.2 1.6"/><rect x="571.8" y="922" width="39.2" height="3" rx="1.5" fill="#fafafa"/><rect x="568.6" y="1030.6" width="8.4" height="8.8" rx="1" fill="#1f1917"/><rect x="605.4" y="1030.6" width="8.4" height="8.8" rx="1" fill="#2b2320"/><path d="M575.3,1102 Q575.3,1099.8 577.5,1099.8 H604.8 Q607,1099.8 607,1102 V1158 Q607,1160.2 604.8,1160.2 H577.5 Q575.3,1160.2 575.3,1158Z" fill="url(#joint)"/><rect x="575.3" y="1099.8" width="31.7" height="60.4" fill="url(#headH)"/><rect x="577.4" y="1160.2" width="28" height="92" fill="url(#poleLow)"/><rect x="577.4" y="1160.2" width="28" height="92" fill="url(#headH)"/><rect x="561.8" y="1164.6" width="15.6" height="13.2" fill="url(#clipL)"/><rect x="605.4" y="1164.6" width="15.4" height="13.2" fill="url(#clipR)"/><rect x="561.8" y="1196.4" width="15.6" height="13.2" fill="url(#clipL)"/><rect x="605.4" y="1196.4" width="15.4" height="13.2" fill="url(#clipR)"/><rect x="561.8" y="1229" width="15.6" height="13.2" fill="url(#clipL)"/><rect x="605.4" y="1229" width="15.4" height="13.2" fill="url(#clipR)"/>
<use href="#shadeArt" x="506.0" y="681.1"/>
<use href="#shadeArt" x="676.4" y="681.1"/>
<use href="#shadeArt" x="591.5" y="532.5"/>
<rect x="430" y="1180" width="330" height="80" fill="url(#fade)"/>
<g><rect x="1285" y="137" width="382" height="288" fill="#fff"/><g clip-path="url(#cp1)"><path d="M1491.6,140.1L1525.9,140.1L1519.7,152.6L1531.1,183.8L1547.8,230.6L1551.9,281L1514.5,281L1510.3,301.8L1506.2,324.7L1498.9,339.2L1492.2,339.2L1491.6,281Z" fill="url(#p1blade)"/><path d="M1672.5,269.4L1630.9,282.5L1589.3,295.6L1544.9,309.6L1544.6,322.1L1599.7,313.2L1672.5,298.7Z" fill="url(#p1rtop)"/><path d="M1667,299.5L1599.7,313.2L1544.6,322.1L1533.2,329.9L1518.7,347.5L1533.2,339.2L1579,325.9L1667,312.2Z" fill="#9a8b80"/><path d="M1667,312.2C1659.3,313.2 1635.2,316.1 1620.5,318.4C1605.9,320.7 1591.1,323.3 1579,325.9C1566.8,328.5 1555.7,331.3 1547.8,334C1539.8,336.8 1536,339 1531.1,342.3C1526.3,345.6 1521.8,350.1 1518.7,353.8C1515.5,357.4 1513.5,362.4 1512.4,364.2L1514.5,368.3C1516.1,366.2 1520,359.3 1523.9,355.8C1527.7,352.4 1531.7,350.1 1537.4,347.5C1543.1,344.9 1549.5,342.7 1558.2,340.3C1566.8,337.8 1577.2,335.1 1589.3,333C1601.5,330.8 1618,328.9 1630.9,327.3C1643.9,325.6 1661,323.8 1667,323.1Z" fill="#4b4339"/><path d="M1667,323.1C1661,323.8 1643.9,325.6 1630.9,327.3C1618,328.9 1601.5,330.8 1589.3,333C1577.2,335.1 1566.8,337.8 1558.2,340.3C1549.5,342.7 1543.1,344.9 1537.4,347.5C1531.7,350.1 1527.7,352.4 1523.9,355.8C1520,359.3 1517.4,363.5 1514.5,368.3C1511.6,373.2 1508.1,378.7 1506.2,385C1504.3,391.2 1503.8,399.1 1503.1,405.7C1502.4,412.4 1502.2,421.8 1502,425L1524.9,425C1524.7,420 1525.2,402.7 1523.9,395.3C1522.5,388 1517.9,385 1516.6,380.8C1515.3,376.6 1515.2,373.3 1516.1,370.4C1516.9,367.5 1518.2,365.7 1521.8,363.1C1525.3,360.5 1531.3,357.2 1537.4,354.8C1543.4,352.4 1549.5,350.6 1558.2,348.6C1566.8,346.5 1577.2,344.1 1589.3,342.3C1601.5,340.6 1618,339.1 1630.9,338C1643.9,336.8 1661,336 1667,335.6Z" fill="#8f8076"/><path d="M1524.9,391.2C1523.5,389.5 1518.1,384.3 1516.6,380.8C1515.1,377.3 1515.2,373.3 1516.1,370.4C1516.9,367.5 1518.2,365.7 1521.8,363.1C1525.3,360.5 1531.3,357.2 1537.4,354.8C1543.4,352.4 1549.5,350.6 1558.2,348.6C1566.8,346.5 1577.2,344.1 1589.3,342.3C1601.5,340.6 1618,339.1 1630.9,338C1643.9,336.8 1661,336 1667,335.6" fill="none" stroke="#a5978c" stroke-width="1.6"/><path d="M1498.4,343.4L1509.3,343.4L1519.7,348.6L1516.1,370.4L1516.6,380.8L1524.9,391.2L1509.3,401.6L1498.4,385Z" fill="#897a70"/><path d="M1522.8,389.1L1537.4,387L1547.8,395.3L1551.4,405.7L1547.8,419.3L1541.5,425L1506.2,425L1509.3,400.5Z" fill="#85776e"/><ellipse cx="1530.6" cy="410.4" rx="16.6" ry="15.6" fill="#6e6253" stroke="#9a8b7c" stroke-width="1"/><ellipse cx="1530.6" cy="410.4" rx="11.4" ry="10.4" fill="none" stroke="#8d8070" stroke-width="1.2" stroke-dasharray="2 1"/><ellipse cx="1530.6" cy="410.4" rx="6.2" ry="5.7" fill="none" stroke="#8d8070" stroke-width="1.2" stroke-dasharray="1.5 1"/><path d="M1284,191.1C1284.7,191.8 1285,192.3 1288.6,195.7C1292.3,199.2 1299.5,206.4 1305.8,211.8C1312.1,217.3 1319.7,223.5 1326.6,228.5C1333.5,233.5 1340.4,237.8 1347.4,242C1354.3,246.1 1361.2,249.8 1368.2,253.4C1375.1,257.1 1382.9,260.9 1389,263.8C1395,266.8 1399.3,266.4 1404.5,271.1C1409.7,275.7 1414.1,285.9 1420.1,291.7C1426.2,297.6 1434,301.6 1440.9,306.3C1447.9,311 1456.5,315.1 1461.7,319.8C1466.9,324.5 1469.6,330.2 1472.1,334.3C1474.7,338.5 1476.2,343 1477,344.7L1461.7,339.5C1458.3,336.3 1449.8,326 1440.9,319.8C1432.1,313.6 1420.8,308.9 1408.7,302.1C1396.6,295.4 1381.8,286.5 1368.2,279.3C1354.5,272 1340.2,264.9 1326.6,258.5C1313,252.1 1293.7,243.9 1286.6,240.8C1279.5,237.7 1284.4,239.9 1284,239.8Z" fill="url(#p1top)"/><path d="M1284,239.8C1284.4,239.9 1279.5,237.7 1286.6,240.8C1293.7,243.9 1313,252.1 1326.6,258.5C1340.2,264.9 1354.5,272 1368.2,279.3C1381.8,286.5 1396.6,295.4 1408.7,302.1C1420.8,308.9 1432.1,313.6 1440.9,319.8C1449.8,326 1458.3,336.3 1461.7,339.5L1456.5,344.7C1450.5,341.3 1428.1,330 1420.1,324C1412.2,317.9 1419.1,314.6 1408.7,308.4C1398.3,302.1 1373.9,293.1 1357.8,286.5C1341.7,279.9 1323.9,274.2 1312,268.9C1300.2,263.5 1291.2,256.9 1286.6,254.3C1281.9,251.7 1284.4,253.4 1284,253.3Z" fill="#988d86"/><path d="M1284,239.8C1284.4,239.9 1279.5,237.7 1286.6,240.8C1293.7,243.9 1313,252.1 1326.6,258.5C1340.2,264.9 1354.5,272 1368.2,279.3C1381.8,286.5 1396.6,295.4 1408.7,302.1C1420.8,308.9 1435.6,316.8 1440.9,319.8" fill="none" stroke="#b79c8a" stroke-width="0.9"/><path d="M1312,268.9C1319.7,271.8 1341.7,279.9 1357.8,286.5C1373.9,293.1 1396.6,302.1 1408.7,308.4C1420.8,314.6 1426.9,321.4 1430.5,324L1428.5,330.2C1426.7,328.9 1424.6,325.5 1418.1,322.4C1411.5,319.3 1400.7,316.1 1389,311.5C1377.2,306.9 1361.4,300.5 1347.4,294.8C1333.3,289.2 1311.9,280.6 1304.8,277.7Z" fill="#40362f"/><path d="M1304.8,277.7C1311.9,280.6 1333.3,289.2 1347.4,294.8C1361.4,300.5 1377.2,306.9 1389,311.5C1400.7,316.1 1408.7,318.1 1418.1,322.4C1427.4,326.7 1440.6,335 1445.1,337.5L1447.2,345.8C1442.7,343.6 1429.8,337.2 1420.1,332.8C1410.4,328.4 1401.1,324.3 1389,319.3C1376.8,314.2 1361,308.7 1347.4,302.6C1333.8,296.6 1314,286.2 1307.3,282.9Z" fill="#93847a"/><rect x="1484.6" y="199.4" width="6.0" height="170" fill="url(#p1pole)"/><path d="M1417.4,147.5L1468.6,147.5Q1465.9,196.1 1465.4,248.7L1438.8,246.1Q1435,194.9 1417.4,147.5Z" fill="url(#shBody2)" stroke="#c4c4c4" stroke-width="0.5"/><path d="M1427.6,151.2Q1441.5,198.9 1444.1,246.7M1435.8,153.2Q1446.2,200.1 1448.4,247.1M1447.1,153.6Q1452.6,200.6 1454.2,247.7M1458.4,151.2Q1459.1,199.7 1460.1,248.2" fill="none" stroke="#bdbdbd" stroke-width="1.1" opacity="0.85"/><path d="M1438.3,246.1L1465.9,248.7L1465.7,258.2L1438.5,255.6Z" fill="url(#collar)"/><path d="M1469,147.6L1469,147.9L1468.8,148.3L1468.6,148.7L1468.2,149.1L1467.6,149.4L1467,149.8L1466.1,150.1L1464.9,150.3L1465.2,150.8L1465,151.2L1464.7,151.5L1464.2,151.9L1463.6,152.2L1462.9,152.6L1462.1,152.9L1461.1,153.1L1460.1,153.4L1459,153.6L1457.8,153.7L1456.6,153.9L1455.3,153.9L1453.8,153.9L1453.1,154.3L1452.2,154.6L1451.1,154.8L1450,155L1448.8,155.1L1447.5,155.2L1446.2,155.3L1444.9,155.3L1443.6,155.3L1442.4,155.3L1441.1,155.2L1439.9,155L1438.7,154.8L1437.7,154.5L1436.3,154.7L1435,154.7L1433.7,154.7L1432.4,154.6L1431.2,154.5L1430,154.3L1428.9,154.1L1427.9,153.9L1426.9,153.6L1426,153.3L1425.3,153L1424.6,152.7L1424.2,152.3L1424.1,151.9L1422.7,151.7L1421.6,151.5L1420.7,151.2L1419.9,150.9L1419.2,150.6L1418.6,150.2L1418.2,149.9L1417.9,149.5L1417.7,149.1L1417.6,148.7L1417.7,148.3L1418,147.9L1418.4,147.6L1419.3,147.2L1418.5,146.8L1418.2,146.4L1418.1,146L1418.1,145.7L1418.3,145.3L1418.6,144.9L1419.1,144.5L1419.6,144.2L1420.3,143.8L1421.1,143.5L1422,143.3L1423,143L1424.2,142.8L1425.6,142.7L1425.8,142.3L1426.4,141.9L1427.2,141.6L1428,141.3L1429,141L1430,140.8L1431.1,140.6L1432.3,140.5L1433.6,140.3L1434.8,140.3L1436.1,140.2L1437.4,140.2L1438.7,140.3L1440.1,140.5L1441.2,140.2L1442.4,140L1443.6,139.9L1444.9,139.9L1446.2,139.9L1447.5,139.9L1448.8,140L1450,140.1L1451.2,140.2L1452.4,140.4L1453.5,140.6L1454.4,140.9L1455.3,141.2L1455.9,141.6L1457.4,141.6L1458.6,141.7L1459.8,141.8L1460.9,142L1462,142.3L1462.9,142.6L1463.7,142.8L1464.4,143.2L1465.1,143.5L1465.5,143.9L1465.9,144.2L1466.1,144.6L1466.1,145L1465.7,145.5L1466.9,145.7L1467.6,146.1L1468.1,146.4L1468.5,146.8L1468.8,147.2Z" fill="#f3f3f3"/><path d="M1469,146.4L1469,146.7L1468.8,147.1L1468.6,147.5L1468.2,147.9L1467.6,148.2L1467,148.6L1466.1,148.9L1464.9,149.1L1465.2,149.6L1465,150L1464.7,150.3L1464.2,150.7L1463.6,151L1462.9,151.4L1462.1,151.7L1461.1,151.9L1460.1,152.2L1459,152.4L1457.8,152.5L1456.6,152.7L1455.3,152.7L1453.8,152.7L1453.1,153.1L1452.2,153.4L1451.1,153.6L1450,153.8L1448.8,153.9L1447.5,154L1446.2,154.1L1444.9,154.1L1443.6,154.1L1442.4,154.1L1441.1,154L1439.9,153.8L1438.7,153.6L1437.7,153.3L1436.3,153.5L1435,153.5L1433.7,153.5L1432.4,153.4L1431.2,153.3L1430,153.1L1428.9,152.9L1427.9,152.7L1426.9,152.4L1426,152.1L1425.3,151.8L1424.6,151.5L1424.2,151.1L1424.1,150.7L1422.7,150.5L1421.6,150.3L1420.7,150L1419.9,149.7L1419.2,149.4L1418.6,149L1418.2,148.7L1417.9,148.3L1417.7,147.9L1417.6,147.5L1417.7,147.1L1418,146.7L1418.4,146.4L1419.3,146L1418.5,145.6L1418.2,145.2L1418.1,144.8L1418.1,144.5L1418.3,144.1L1418.6,143.7L1419.1,143.3L1419.6,143L1420.3,142.6L1421.1,142.3L1422,142.1L1423,141.8L1424.2,141.6L1425.6,141.5L1425.8,141.1L1426.4,140.7L1427.2,140.4L1428,140.1L1429,139.8L1430,139.6L1431.1,139.4L1432.3,139.3L1433.6,139.1L1434.8,139.1L1436.1,139L1437.4,139L1438.7,139.1L1440.1,139.3L1441.2,139L1442.4,138.8L1443.6,138.7L1444.9,138.7L1446.2,138.7L1447.5,138.7L1448.8,138.8L1450,138.9L1451.2,139L1452.4,139.2L1453.5,139.4L1454.4,139.7L1455.3,140L1455.9,140.4L1457.4,140.4L1458.6,140.5L1459.8,140.6L1460.9,140.8L1462,141.1L1462.9,141.4L1463.7,141.6L1464.4,142L1465.1,142.3L1465.5,142.7L1465.9,143L1466.1,143.4L1466.1,143.8L1465.7,144.3L1466.9,144.5L1467.6,144.9L1468.1,145.2L1468.5,145.6L1468.8,146Z" fill="#d6d6d6"/><path d="M1519.7,153.4L1584.2,153.4Q1566.7,203.4 1562.8,257.6L1549.3,259.7Q1544,204.4 1519.7,153.4Z" fill="url(#shBody2)" stroke="#c4c4c4" stroke-width="0.5"/><path d="M1532.6,159.2Q1548.9,209.2 1552,259.2M1542.9,162.3Q1552.3,210.6 1554.2,258.9M1557.1,162.9Q1556.9,210.7 1557.2,258.5M1571.3,159.2Q1561.6,208.6 1560.1,258" fill="none" stroke="#bdbdbd" stroke-width="1.1" opacity="0.85"/><path d="M1548.8,259.7L1563.3,257.6L1563.1,267.1L1549,269.2Z" fill="url(#collar)"/><path d="M1584.6,152.8L1584.6,153.4L1584.5,154L1584.1,154.6L1583.6,155.2L1582.9,155.7L1582.1,156.2L1581,156.7L1579.5,157.1L1579.9,157.8L1579.7,158.4L1579.2,159L1578.6,159.6L1577.9,160.1L1577,160.6L1575.9,161.1L1574.8,161.5L1573.5,161.9L1572.1,162.2L1570.6,162.5L1569.1,162.7L1567.4,162.8L1565.6,162.7L1564.7,163.3L1563.5,163.8L1562.1,164.1L1560.7,164.4L1559.2,164.6L1557.6,164.8L1556,164.9L1554.4,165L1552.7,164.9L1551.1,164.9L1549.5,164.7L1548,164.5L1546.5,164.2L1545.3,163.7L1543.5,163.9L1541.9,164L1540.2,163.9L1538.6,163.8L1537.1,163.6L1535.6,163.4L1534.2,163.1L1532.8,162.7L1531.6,162.3L1530.5,161.8L1529.6,161.3L1528.8,160.8L1528.2,160.2L1528.1,159.5L1526.3,159.3L1525,158.9L1523.8,158.5L1522.8,158L1521.9,157.5L1521.2,156.9L1520.6,156.4L1520.2,155.8L1520,155.2L1519.9,154.6L1520.1,153.9L1520.4,153.3L1520.9,152.8L1522.1,152.2L1521.1,151.6L1520.7,151L1520.5,150.4L1520.6,149.8L1520.8,149.2L1521.2,148.6L1521.8,148L1522.5,147.4L1523.3,146.9L1524.3,146.4L1525.5,146L1526.8,145.6L1528.2,145.3L1530,145.1L1530.3,144.4L1531,143.9L1532,143.4L1533,142.9L1534.3,142.5L1535.6,142.1L1537,141.8L1538.5,141.6L1540,141.4L1541.6,141.3L1543.3,141.2L1544.9,141.2L1546.5,141.3L1548.2,141.6L1549.6,141.2L1551.1,140.9L1552.7,140.8L1554.3,140.7L1556,140.6L1557.6,140.7L1559.2,140.8L1560.8,141L1562.3,141.2L1563.7,141.5L1565.1,141.8L1566.3,142.2L1567.4,142.7L1568.1,143.3L1570,143.3L1571.6,143.5L1573.1,143.8L1574.5,144.1L1575.8,144.5L1577,144.9L1578,145.3L1578.9,145.9L1579.7,146.4L1580.3,147L1580.8,147.6L1581,148.2L1581,148.8L1580.5,149.5L1582,149.9L1582.9,150.4L1583.6,151L1584.1,151.5L1584.5,152.1Z" fill="#f3f3f3"/><path d="M1584.6,151.6L1584.6,152.2L1584.5,152.8L1584.1,153.4L1583.6,154L1582.9,154.5L1582.1,155L1581,155.5L1579.5,155.9L1579.9,156.6L1579.7,157.2L1579.2,157.8L1578.6,158.4L1577.9,158.9L1577,159.4L1575.9,159.9L1574.8,160.3L1573.5,160.7L1572.1,161L1570.6,161.3L1569.1,161.5L1567.4,161.6L1565.6,161.5L1564.7,162.1L1563.5,162.6L1562.1,162.9L1560.7,163.2L1559.2,163.4L1557.6,163.6L1556,163.7L1554.4,163.8L1552.7,163.7L1551.1,163.7L1549.5,163.5L1548,163.3L1546.5,163L1545.3,162.5L1543.5,162.7L1541.9,162.8L1540.2,162.7L1538.6,162.6L1537.1,162.4L1535.6,162.2L1534.2,161.9L1532.8,161.5L1531.6,161.1L1530.5,160.6L1529.6,160.1L1528.8,159.6L1528.2,159L1528.1,158.3L1526.3,158.1L1525,157.7L1523.8,157.3L1522.8,156.8L1521.9,156.3L1521.2,155.7L1520.6,155.2L1520.2,154.6L1520,154L1519.9,153.4L1520.1,152.7L1520.4,152.1L1520.9,151.6L1522.1,151L1521.1,150.4L1520.7,149.8L1520.5,149.2L1520.6,148.6L1520.8,148L1521.2,147.4L1521.8,146.8L1522.5,146.2L1523.3,145.7L1524.3,145.2L1525.5,144.8L1526.8,144.4L1528.2,144.1L1530,143.9L1530.3,143.2L1531,142.7L1532,142.2L1533,141.7L1534.3,141.3L1535.6,140.9L1537,140.6L1538.5,140.4L1540,140.2L1541.6,140.1L1543.3,140L1544.9,140L1546.5,140.1L1548.2,140.4L1549.6,140L1551.1,139.7L1552.7,139.6L1554.3,139.5L1556,139.4L1557.6,139.5L1559.2,139.6L1560.8,139.8L1562.3,140L1563.7,140.3L1565.1,140.6L1566.3,141L1567.4,141.5L1568.1,142.1L1570,142.1L1571.6,142.3L1573.1,142.6L1574.5,142.9L1575.8,143.3L1577,143.7L1578,144.1L1578.9,144.7L1579.7,145.2L1580.3,145.8L1580.8,146.4L1581,147L1581,147.6L1580.5,148.3L1582,148.7L1582.9,149.2L1583.6,149.8L1584.1,150.3L1584.5,150.9Z" fill="#d6d6d6"/><path d="M1443.8,116.2L1509.3,116.2Q1499.5,155.6 1497.3,198.3L1473.4,198.3Q1468.1,155.6 1443.8,116.2Z" fill="url(#shBody)" stroke="#c4c4c4" stroke-width="0.5"/><path d="M1456.9,117.6Q1474.7,158 1478.2,198.3M1467.4,118.4Q1479.5,158.4 1482,198.3M1481.8,118.5Q1486,158.4 1487.3,198.3M1496.2,117.6Q1492.5,158 1492.6,198.3" fill="none" stroke="#bdbdbd" stroke-width="1.1" opacity="0.85"/><path d="M1472.9,198.3L1497.8,198.3L1497.6,207.8L1473.1,207.8Z" fill="url(#collar)"/><path d="M1485,101.2L1485,101.3L1484.9,101.5L1484.8,101.6L1484.7,101.8L1484.5,101.9L1484.2,102.1L1483.9,102.2L1483.4,102.3L1483.5,102.4L1483.5,102.6L1483.3,102.7L1483.2,102.9L1482.9,103L1482.7,103.1L1482.3,103.2L1482,103.3L1481.6,103.4L1481.2,103.5L1480.7,103.6L1480.2,103.6L1479.7,103.7L1479.2,103.6L1478.9,103.8L1478.5,103.9L1478.1,104L1477.7,104.1L1477.2,104.1L1476.7,104.2L1476.2,104.2L1475.7,104.2L1475.2,104.2L1474.8,104.2L1474.3,104.1L1473.8,104.1L1473.4,104L1473,103.9L1472.4,103.9L1471.9,103.9L1471.4,103.9L1470.9,103.9L1470.5,103.9L1470,103.8L1469.6,103.7L1469.2,103.6L1468.8,103.5L1468.5,103.4L1468.2,103.3L1467.9,103.2L1467.8,103L1467.7,102.9L1467.2,102.8L1466.8,102.7L1466.4,102.6L1466.1,102.5L1465.8,102.4L1465.6,102.2L1465.4,102.1L1465.3,101.9L1465.3,101.8L1465.2,101.6L1465.3,101.5L1465.4,101.3L1465.5,101.2L1465.9,101.1L1465.6,100.9L1465.5,100.8L1465.4,100.6L1465.4,100.5L1465.5,100.3L1465.6,100.2L1465.8,100L1466,99.9L1466.3,99.8L1466.6,99.7L1466.9,99.5L1467.3,99.5L1467.8,99.4L1468.3,99.3L1468.4,99.2L1468.6,99L1468.9,98.9L1469.2,98.8L1469.6,98.7L1470,98.6L1470.4,98.5L1470.9,98.5L1471.4,98.4L1471.9,98.4L1472.4,98.4L1472.9,98.4L1473.4,98.4L1473.9,98.5L1474.3,98.4L1474.8,98.3L1475.2,98.3L1475.7,98.2L1476.2,98.2L1476.7,98.2L1477.2,98.3L1477.7,98.3L1478.2,98.4L1478.6,98.4L1479,98.5L1479.4,98.6L1479.7,98.7L1480,98.9L1480.5,98.9L1481,98.9L1481.5,99L1481.9,99.1L1482.3,99.2L1482.7,99.3L1483,99.4L1483.3,99.5L1483.5,99.6L1483.7,99.8L1483.8,99.9L1483.9,100.1L1483.9,100.2L1483.7,100.4L1484.2,100.5L1484.5,100.6L1484.7,100.8L1484.8,100.9L1484.9,101.1Z" fill="#f3f3f3"/><path d="M1485,100L1485,100.1L1484.9,100.3L1484.8,100.4L1484.7,100.6L1484.5,100.7L1484.2,100.9L1483.9,101L1483.4,101.1L1483.5,101.2L1483.5,101.4L1483.3,101.5L1483.2,101.7L1482.9,101.8L1482.7,101.9L1482.3,102L1482,102.1L1481.6,102.2L1481.2,102.3L1480.7,102.4L1480.2,102.4L1479.7,102.5L1479.2,102.4L1478.9,102.6L1478.5,102.7L1478.1,102.8L1477.7,102.9L1477.2,102.9L1476.7,103L1476.2,103L1475.7,103L1475.2,103L1474.8,103L1474.3,102.9L1473.8,102.9L1473.4,102.8L1473,102.7L1472.4,102.7L1471.9,102.7L1471.4,102.7L1470.9,102.7L1470.5,102.7L1470,102.6L1469.6,102.5L1469.2,102.4L1468.8,102.3L1468.5,102.2L1468.2,102.1L1467.9,102L1467.8,101.8L1467.7,101.7L1467.2,101.6L1466.8,101.5L1466.4,101.4L1466.1,101.3L1465.8,101.2L1465.6,101L1465.4,100.9L1465.3,100.7L1465.3,100.6L1465.2,100.4L1465.3,100.3L1465.4,100.1L1465.5,100L1465.9,99.9L1465.6,99.7L1465.5,99.6L1465.4,99.4L1465.4,99.3L1465.5,99.1L1465.6,99L1465.8,98.8L1466,98.7L1466.3,98.6L1466.6,98.5L1466.9,98.3L1467.3,98.3L1467.8,98.2L1468.3,98.1L1468.4,98L1468.6,97.8L1468.9,97.7L1469.2,97.6L1469.6,97.5L1470,97.4L1470.4,97.3L1470.9,97.3L1471.4,97.2L1471.9,97.2L1472.4,97.2L1472.9,97.2L1473.4,97.2L1473.9,97.3L1474.3,97.2L1474.8,97.1L1475.2,97.1L1475.7,97L1476.2,97L1476.7,97L1477.2,97.1L1477.7,97.1L1478.2,97.2L1478.6,97.2L1479,97.3L1479.4,97.4L1479.7,97.5L1480,97.7L1480.5,97.7L1481,97.7L1481.5,97.8L1481.9,97.9L1482.3,98L1482.7,98.1L1483,98.2L1483.3,98.3L1483.5,98.4L1483.7,98.6L1483.8,98.7L1483.9,98.9L1483.9,99L1483.7,99.2L1484.2,99.3L1484.5,99.4L1484.7,99.6L1484.8,99.7L1484.9,99.9Z" fill="#d6d6d6"/><path d="M1449.2,258.5C1449.6,261.1 1449.6,268.3 1451.3,274.1C1453.1,279.8 1456.5,286.9 1459.6,292.8C1462.8,298.7 1466.2,304.2 1470,309.4C1473.8,314.6 1480.4,321.5 1482.5,324" fill="none" stroke="#4b413b" stroke-width="5"/><path d="M1449.2,258.5C1449.6,261.1 1449.6,268.3 1451.3,274.1C1453.1,279.8 1456.5,286.9 1459.6,292.8C1462.8,298.7 1466.2,304.2 1470,309.4C1473.8,314.6 1480.4,321.5 1482.5,324" fill="none" stroke="#85756a" stroke-width="1.5" transform="translate(-0.6,-0.8)"/><path d="M1421.2,311.5C1421.5,313.2 1421.3,318.4 1423.3,321.9C1425.2,325.3 1427.9,330 1432.6,332.3C1437.3,334.5 1445.4,335.7 1451.3,335.4C1457.2,335 1462.8,330.8 1468,330.2C1473.1,329.6 1480.1,331.5 1482.5,331.7" fill="none" stroke="#4b413b" stroke-width="5"/><path d="M1421.2,311.5C1421.5,313.2 1421.3,318.4 1423.3,321.9C1425.2,325.3 1427.9,330 1432.6,332.3C1437.3,334.5 1445.4,335.7 1451.3,335.4C1457.2,335 1462.8,330.8 1468,330.2C1473.1,329.6 1480.1,331.5 1482.5,331.7" fill="none" stroke="#85756a" stroke-width="1.5" transform="translate(-0.6,-0.8)"/><path d="M1427.4,311.5C1427.9,313.2 1428.3,318.8 1430.5,321.9C1432.8,325 1435.7,328.8 1440.9,330.2C1446.1,331.6 1454.8,330.7 1461.7,330.2C1468.6,329.7 1479,327.6 1482.5,327.1" fill="none" stroke="#4b413b" stroke-width="5"/><path d="M1427.4,311.5C1427.9,313.2 1428.3,318.8 1430.5,321.9C1432.8,325 1435.7,328.8 1440.9,330.2C1446.1,331.6 1454.8,330.7 1461.7,330.2C1468.6,329.7 1479,327.6 1482.5,327.1" fill="none" stroke="#85756a" stroke-width="1.5" transform="translate(-0.6,-0.8)"/><path d="M1469.8,330.9C1473.3,331.9 1484,335.2 1490.6,337.1C1497.2,339 1504.6,341.5 1509.3,342.3C1514,343.2 1516.1,343.9 1518.7,342.3C1521.3,340.8 1523.5,335.9 1524.9,333C1526.3,330 1526.6,326 1527,324.7" fill="none" stroke="#4b413b" stroke-width="5"/><path d="M1469.8,330.9C1473.3,331.9 1484,335.2 1490.6,337.1C1497.2,339 1504.6,341.5 1509.3,342.3C1514,343.2 1516.1,343.9 1518.7,342.3C1521.3,340.8 1523.5,335.9 1524.9,333C1526.3,330 1526.6,326 1527,324.7" fill="none" stroke="#85756a" stroke-width="1.4" transform="translate(-0.5,-0.8)"/><path d="M1495.8,339.2C1497.5,336.8 1503.1,328.6 1506.2,324.7C1509.3,320.7 1512.4,317.4 1514.5,315.3C1516.6,313.2 1518,312.7 1518.7,312.2" fill="none" stroke="#4b413b" stroke-width="5"/><path d="M1495.8,339.2C1497.5,336.8 1503.1,328.6 1506.2,324.7C1509.3,320.7 1512.4,317.4 1514.5,315.3C1516.6,313.2 1518,312.7 1518.7,312.2" fill="none" stroke="#85756a" stroke-width="1.4" transform="translate(-0.5,-0.8)"/><path d="M1484.9,281L1490.6,281L1490.6,339.2L1498.9,360L1509.3,364.2L1508.3,425L1470.8,425L1470.8,343.4L1485.4,339.2Z" fill="#5e5048"/><path d="M1493.7,345.4L1498.9,345.4L1498.9,425L1493.7,425Z" fill="#3b322d"/><path d="M1470.8,369.4L1481.2,366.2L1489.6,385L1490.6,425L1470.8,425Z" fill="#8a776b"/><path d="M1470.8,353.8C1472.6,354.1 1478.3,353.2 1481.2,355.8C1484.2,358.4 1486.8,362.8 1488.5,369.4C1490.2,375.9 1491.1,391 1491.6,395.3" fill="none" stroke="#1c1613" stroke-width="4"/><path d="M1378.6,365.2C1382.5,365.5 1395.2,368.3 1402.5,367.1C1409.7,365.9 1415.8,361.2 1422.2,357.9C1428.6,354.7 1434.3,350.6 1440.9,347.5C1447.5,344.4 1454.8,340.7 1461.7,339.2C1468.6,337.7 1479,338.8 1482.5,338.7L1482.5,353.8C1480.1,357.2 1472,370.8 1468,374.6C1463.9,378.3 1459.7,375.9 1458.1,376.1Z" fill="url(#p1boxtop)"/><path d="M1378.6,365.2L1458.1,376.1L1461.7,396.4L1389,388.6Z" fill="#3b3937"/><path d="M1458.1,376.1L1482.5,352.7L1482.5,385L1461.7,396.4Z" fill="#2b2927"/><path d="M1378.6,365.2L1458.1,376.1" fill="none" stroke="#8b6f5f" stroke-width="0.8"/><path d="M1405.6,400.5L1413.4,393.8L1464.8,403.1L1461.7,409.9Z" fill="#3a3330"/><path d="M1413.4,393.8L1464.8,403.1L1477,391.2L1461.7,396.4L1389,388.6Z" fill="#151312"/><ellipse cx="1445.1" cy="410.4" rx="7" ry="2.4" fill="#8a7f70"/><path d="M1453.4,425L1461.7,410.9L1477,393.3L1482.5,393.3L1482.5,425Z" fill="#6b5d55"/><path d="M1382.2,189L1450.8,189Q1438.4,242.1 1435.7,299.5L1408.7,302.1Q1403.9,243.3 1382.2,189Z" fill="url(#shBody)" stroke="#c4c4c4" stroke-width="0.5"/><path d="M1395.9,195.6Q1411.3,248.6 1414.1,301.6M1406.9,199.2Q1416.5,250.2 1418.4,301.2M1422,199.9Q1423.7,250.2 1424.4,300.6M1437.1,195.6Q1430.9,247.8 1430.3,300" fill="none" stroke="#bdbdbd" stroke-width="1.1" opacity="0.85"/><path d="M1408.2,302.1L1436.2,299.5L1436,309L1408.4,311.6Z" fill="url(#collar)"/><path d="M1451.3,188.1L1451.3,188.8L1451.1,189.5L1450.7,190.2L1450.2,190.8L1449.5,191.5L1448.6,192.1L1447.5,192.6L1445.8,193.1L1446.2,193.9L1446,194.6L1445.6,195.3L1444.9,195.9L1444.1,196.5L1443.1,197.1L1442,197.6L1440.8,198.1L1439.4,198.6L1437.9,198.9L1436.4,199.2L1434.7,199.5L1433,199.6L1431,199.5L1430.1,200.2L1428.8,200.7L1427.3,201.1L1425.8,201.4L1424.2,201.7L1422.5,201.9L1420.8,202L1419.1,202.1L1417.4,202L1415.6,201.9L1414,201.8L1412.3,201.5L1410.8,201.2L1409.4,200.6L1407.6,200.9L1405.8,200.9L1404.1,200.9L1402.3,200.7L1400.7,200.5L1399.1,200.2L1397.6,199.9L1396.2,199.5L1394.9,199L1393.7,198.5L1392.7,197.9L1391.9,197.3L1391.3,196.6L1391.2,195.8L1389.3,195.6L1387.8,195.2L1386.6,194.7L1385.5,194.1L1384.6,193.5L1383.8,192.9L1383.2,192.2L1382.8,191.6L1382.6,190.9L1382.5,190.2L1382.6,189.5L1383,188.8L1383.5,188.1L1384.7,187.5L1383.7,186.8L1383.3,186.1L1383.1,185.4L1383.2,184.7L1383.4,184L1383.8,183.3L1384.4,182.6L1385.2,182L1386.1,181.4L1387.2,180.9L1388.4,180.4L1389.7,179.9L1391.3,179.6L1393.2,179.4L1393.5,178.6L1394.3,177.9L1395.3,177.4L1396.4,176.8L1397.7,176.4L1399.1,176L1400.6,175.6L1402.2,175.3L1403.8,175.1L1405.5,175L1407.3,174.9L1409,174.9L1410.8,175L1412.5,175.4L1414,174.8L1415.7,174.6L1417.3,174.4L1419.1,174.3L1420.8,174.2L1422.5,174.3L1424.2,174.4L1425.9,174.6L1427.5,174.9L1429.1,175.2L1430.5,175.6L1431.8,176.1L1433,176.6L1433.7,177.3L1435.7,177.3L1437.4,177.5L1439,177.8L1440.5,178.2L1441.9,178.6L1443.1,179.1L1444.3,179.6L1445.2,180.2L1446,180.8L1446.7,181.5L1447.2,182.1L1447.4,182.8L1447.5,183.6L1446.9,184.3L1448.5,184.8L1449.4,185.4L1450.2,186.1L1450.7,186.7L1451.1,187.4Z" fill="#f3f3f3"/><path d="M1451.3,186.9L1451.3,187.6L1451.1,188.3L1450.7,189L1450.2,189.6L1449.5,190.3L1448.6,190.9L1447.5,191.4L1445.8,191.9L1446.2,192.7L1446,193.4L1445.6,194.1L1444.9,194.7L1444.1,195.3L1443.1,195.9L1442,196.4L1440.8,196.9L1439.4,197.4L1437.9,197.7L1436.4,198L1434.7,198.3L1433,198.4L1431,198.3L1430.1,199L1428.8,199.5L1427.3,199.9L1425.8,200.2L1424.2,200.5L1422.5,200.7L1420.8,200.8L1419.1,200.9L1417.4,200.8L1415.6,200.7L1414,200.6L1412.3,200.3L1410.8,200L1409.4,199.4L1407.6,199.7L1405.8,199.7L1404.1,199.7L1402.3,199.5L1400.7,199.3L1399.1,199L1397.6,198.7L1396.2,198.3L1394.9,197.8L1393.7,197.3L1392.7,196.7L1391.9,196.1L1391.3,195.4L1391.2,194.6L1389.3,194.4L1387.8,194L1386.6,193.5L1385.5,192.9L1384.6,192.3L1383.8,191.7L1383.2,191L1382.8,190.4L1382.6,189.7L1382.5,189L1382.6,188.3L1383,187.6L1383.5,186.9L1384.7,186.3L1383.7,185.6L1383.3,184.9L1383.1,184.2L1383.2,183.5L1383.4,182.8L1383.8,182.1L1384.4,181.4L1385.2,180.8L1386.1,180.2L1387.2,179.7L1388.4,179.2L1389.7,178.7L1391.3,178.4L1393.2,178.2L1393.5,177.4L1394.3,176.7L1395.3,176.2L1396.4,175.6L1397.7,175.2L1399.1,174.8L1400.6,174.4L1402.2,174.1L1403.8,173.9L1405.5,173.8L1407.3,173.7L1409,173.7L1410.8,173.8L1412.5,174.2L1414,173.6L1415.7,173.4L1417.3,173.2L1419.1,173.1L1420.8,173L1422.5,173.1L1424.2,173.2L1425.9,173.4L1427.5,173.7L1429.1,174L1430.5,174.4L1431.8,174.9L1433,175.4L1433.7,176.1L1435.7,176.1L1437.4,176.3L1439,176.6L1440.5,177L1441.9,177.4L1443.1,177.9L1444.3,178.4L1445.2,179L1446,179.6L1446.7,180.3L1447.2,180.9L1447.4,181.6L1447.5,182.4L1446.9,183.1L1448.5,183.6L1449.4,184.2L1450.2,184.9L1450.7,185.5L1451.1,186.2Z" fill="#d6d6d6"/><path d="M1495.8,201.7L1565.4,201.7Q1546.7,256.2 1542.6,315.3L1516.6,316.3Q1512.8,256.7 1495.8,201.7Z" fill="url(#shBody)" stroke="#c4c4c4" stroke-width="0.5"/><path d="M1509.7,209Q1520.2,262.6 1521.8,316.1M1520.9,213Q1525.3,264.5 1525.9,316M1536.2,213.8Q1532.3,264.8 1531.7,315.7M1551.5,209Q1539.4,262.3 1537.4,315.5" fill="none" stroke="#bdbdbd" stroke-width="1.1" opacity="0.85"/><path d="M1516.1,316.3L1543.1,315.3L1542.9,324.8L1516.3,325.8Z" fill="url(#collar)"/><path d="M1565.9,200.6L1565.9,201.3L1565.7,202.1L1565.4,202.9L1564.8,203.6L1564.1,204.3L1563.2,205L1562,205.6L1560.4,206.1L1560.8,207L1560.6,207.8L1560.1,208.5L1559.5,209.2L1558.6,209.9L1557.7,210.6L1556.5,211.2L1555.3,211.7L1553.9,212.2L1552.4,212.6L1550.8,212.9L1549.1,213.2L1547.3,213.3L1545.3,213.2L1544.4,214L1543.1,214.6L1541.6,215L1540.1,215.4L1538.4,215.7L1536.7,215.9L1535,216L1533.3,216.1L1531.5,216.1L1529.7,216L1528,215.8L1526.4,215.5L1524.8,215.1L1523.4,214.5L1521.5,214.8L1519.8,214.8L1518,214.8L1516.3,214.6L1514.6,214.4L1513,214.1L1511.4,213.7L1510,213.2L1508.7,212.7L1507.5,212.1L1506.5,211.5L1505.6,210.8L1505,210.1L1504.9,209.2L1503,208.9L1501.5,208.4L1500.3,207.9L1499.2,207.3L1498.2,206.6L1497.4,205.9L1496.8,205.2L1496.4,204.4L1496.2,203.6L1496.1,202.9L1496.2,202.1L1496.6,201.3L1497.2,200.6L1498.4,199.9L1497.3,199.1L1496.9,198.3L1496.7,197.5L1496.8,196.8L1497,196L1497.4,195.2L1498,194.5L1498.8,193.8L1499.7,193.2L1500.8,192.5L1502.1,192L1503.4,191.5L1505,191.1L1507,190.9L1507.2,190L1508.1,189.3L1509.1,188.6L1510.2,188.1L1511.5,187.5L1513,187.1L1514.5,186.7L1516.1,186.4L1517.8,186.1L1519.5,186L1521.3,185.9L1523,185.9L1524.8,186L1526.6,186.4L1528.1,185.8L1529.8,185.5L1531.5,185.3L1533.2,185.2L1535,185.2L1536.7,185.2L1538.5,185.4L1540.2,185.6L1541.8,185.9L1543.4,186.2L1544.8,186.7L1546.2,187.2L1547.3,187.8L1548.1,188.6L1550.1,188.6L1551.9,188.8L1553.5,189.1L1555,189.5L1556.4,190L1557.7,190.6L1558.8,191.2L1559.8,191.8L1560.6,192.5L1561.3,193.2L1561.7,194L1562,194.7L1562,195.5L1561.5,196.4L1563,196.9L1564,197.6L1564.8,198.3L1565.4,199L1565.7,199.8Z" fill="#f3f3f3"/><path d="M1565.9,199.4L1565.9,200.1L1565.7,200.9L1565.4,201.7L1564.8,202.4L1564.1,203.1L1563.2,203.8L1562,204.4L1560.4,204.9L1560.8,205.8L1560.6,206.6L1560.1,207.3L1559.5,208L1558.6,208.7L1557.7,209.4L1556.5,210L1555.3,210.5L1553.9,211L1552.4,211.4L1550.8,211.7L1549.1,212L1547.3,212.1L1545.3,212L1544.4,212.8L1543.1,213.4L1541.6,213.8L1540.1,214.2L1538.4,214.5L1536.7,214.7L1535,214.8L1533.3,214.9L1531.5,214.9L1529.7,214.8L1528,214.6L1526.4,214.3L1524.8,213.9L1523.4,213.3L1521.5,213.6L1519.8,213.6L1518,213.6L1516.3,213.4L1514.6,213.2L1513,212.9L1511.4,212.5L1510,212L1508.7,211.5L1507.5,210.9L1506.5,210.3L1505.6,209.6L1505,208.9L1504.9,208L1503,207.7L1501.5,207.2L1500.3,206.7L1499.2,206.1L1498.2,205.4L1497.4,204.7L1496.8,204L1496.4,203.2L1496.2,202.4L1496.1,201.7L1496.2,200.9L1496.6,200.1L1497.2,199.4L1498.4,198.7L1497.3,197.9L1496.9,197.1L1496.7,196.3L1496.8,195.6L1497,194.8L1497.4,194L1498,193.3L1498.8,192.6L1499.7,192L1500.8,191.3L1502.1,190.8L1503.4,190.3L1505,189.9L1507,189.7L1507.2,188.8L1508.1,188.1L1509.1,187.4L1510.2,186.9L1511.5,186.3L1513,185.9L1514.5,185.5L1516.1,185.2L1517.8,184.9L1519.5,184.8L1521.3,184.7L1523,184.7L1524.8,184.8L1526.6,185.2L1528.1,184.6L1529.8,184.3L1531.5,184.1L1533.2,184L1535,184L1536.7,184L1538.5,184.2L1540.2,184.4L1541.8,184.7L1543.4,185L1544.8,185.5L1546.2,186L1547.3,186.6L1548.1,187.4L1550.1,187.4L1551.9,187.6L1553.5,187.9L1555,188.3L1556.4,188.8L1557.7,189.4L1558.8,190L1559.8,190.6L1560.6,191.3L1561.3,192L1561.7,192.8L1562,193.5L1562,194.3L1561.5,195.2L1563,195.7L1564,196.4L1564.8,197.1L1565.4,197.8L1565.7,198.6Z" fill="#d6d6d6"/></g><rect x="1285.5" y="137.5" width="381" height="287" fill="none" stroke="#000" stroke-width="1"/></g>
<g><rect x="1285" y="552" width="382" height="287" fill="#fff"/><g clip-path="url(#cp2)"><defs><linearGradient id="p2cream" gradientUnits="userSpaceOnUse" x1="1290" y1="560" x2="1560" y2="640"><stop offset="0" stop-color="#e3cfa9"/><stop offset="0.4" stop-color="#f0dcb9"/><stop offset="1" stop-color="#fbe7c6"/></linearGradient></defs><path d="M1286,553H1420L1286,640Z" fill="#b7a58b"/><path d="M1286,553H1330L1286,585Z" fill="#9d8d78" filter="url(#pb2)"/><path d="M1286,591L1296,585L1291,603L1286,606Z M1297,584L1346,565L1372,567L1340,572L1309,590L1303,600Z M1363,559L1372,553H1386L1377,562Z M1396,553H1410L1398,562L1385,562Z" fill="#5c5c5c"/><clipPath id="p2c"><path d="M1280,671C1281.1,670.6 1272.6,674 1286.6,668.4C1300.6,662.8 1338.1,647.8 1364,637.5C1389.9,627.2 1423.5,613.8 1442,606.5C1460.5,599.2 1460.8,599.1 1475,593.6C1489.2,588.1 1509.7,580.5 1527,573.8C1544.3,567.1 1566.8,558.4 1579,553.6C1591.2,548.8 1596.5,546.4 1600,545L1600,540L1375,540L1280,604Z"/></clipPath><g clip-path="url(#p2c)"><circle cx="1237.6" cy="565.7" r="60" fill="#fff"/><circle cx="1238.2" cy="566.7" r="51.3" fill="none" stroke="#555" stroke-width="1.2"/><circle cx="1237.6" cy="565.7" r="54" fill="none" stroke="url(#p2cream)" stroke-width="5.2"/><circle cx="1238.2" cy="566.7" r="39.3" fill="none" stroke="#555" stroke-width="1.2"/><circle cx="1237.6" cy="565.7" r="42" fill="none" stroke="url(#p2cream)" stroke-width="5.2"/><circle cx="1238.2" cy="566.7" r="27.3" fill="none" stroke="#555" stroke-width="1.2"/><circle cx="1237.6" cy="565.7" r="30" fill="none" stroke="url(#p2cream)" stroke-width="5.2"/><circle cx="1238.2" cy="566.7" r="15.3" fill="none" stroke="#555" stroke-width="1.2"/><circle cx="1237.6" cy="565.7" r="18" fill="none" stroke="url(#p2cream)" stroke-width="5.2"/><circle cx="1309.7" cy="517.0" r="60" fill="#fff"/><circle cx="1310.3" cy="518.0" r="51.3" fill="none" stroke="#555" stroke-width="1.2"/><circle cx="1309.7" cy="517.0" r="54" fill="none" stroke="url(#p2cream)" stroke-width="5.2"/><circle cx="1310.3" cy="518.0" r="39.3" fill="none" stroke="#555" stroke-width="1.2"/><circle cx="1309.7" cy="517.0" r="42" fill="none" stroke="url(#p2cream)" stroke-width="5.2"/><circle cx="1310.3" cy="518.0" r="27.3" fill="none" stroke="#555" stroke-width="1.2"/><circle cx="1309.7" cy="517.0" r="30" fill="none" stroke="url(#p2cream)" stroke-width="5.2"/><circle cx="1310.3" cy="518.0" r="15.3" fill="none" stroke="#555" stroke-width="1.2"/><circle cx="1309.7" cy="517.0" r="18" fill="none" stroke="url(#p2cream)" stroke-width="5.2"/><circle cx="1381.8" cy="468.3" r="60" fill="#fff"/><circle cx="1382.4" cy="469.3" r="51.3" fill="none" stroke="#555" stroke-width="1.2"/><circle cx="1381.8" cy="468.3" r="54" fill="none" stroke="url(#p2cream)" stroke-width="5.2"/><circle cx="1382.4" cy="469.3" r="39.3" fill="none" stroke="#555" stroke-width="1.2"/><circle cx="1381.8" cy="468.3" r="42" fill="none" stroke="url(#p2cream)" stroke-width="5.2"/><circle cx="1382.4" cy="469.3" r="27.3" fill="none" stroke="#555" stroke-width="1.2"/><circle cx="1381.8" cy="468.3" r="30" fill="none" stroke="url(#p2cream)" stroke-width="5.2"/><circle cx="1382.4" cy="469.3" r="15.3" fill="none" stroke="#555" stroke-width="1.2"/><circle cx="1381.8" cy="468.3" r="18" fill="none" stroke="url(#p2cream)" stroke-width="5.2"/><circle cx="1453.9" cy="419.6" r="60" fill="#fff"/><circle cx="1454.5" cy="420.6" r="51.3" fill="none" stroke="#555" stroke-width="1.2"/><circle cx="1453.9" cy="419.6" r="54" fill="none" stroke="url(#p2cream)" stroke-width="5.2"/><circle cx="1454.5" cy="420.6" r="39.3" fill="none" stroke="#555" stroke-width="1.2"/><circle cx="1453.9" cy="419.6" r="42" fill="none" stroke="url(#p2cream)" stroke-width="5.2"/><circle cx="1454.5" cy="420.6" r="27.3" fill="none" stroke="#555" stroke-width="1.2"/><circle cx="1453.9" cy="419.6" r="30" fill="none" stroke="url(#p2cream)" stroke-width="5.2"/><circle cx="1454.5" cy="420.6" r="15.3" fill="none" stroke="#555" stroke-width="1.2"/><circle cx="1453.9" cy="419.6" r="18" fill="none" stroke="url(#p2cream)" stroke-width="5.2"/><circle cx="1526.0" cy="370.9" r="60" fill="#fff"/><circle cx="1526.6" cy="371.9" r="51.3" fill="none" stroke="#555" stroke-width="1.2"/><circle cx="1526.0" cy="370.9" r="54" fill="none" stroke="url(#p2cream)" stroke-width="5.2"/><circle cx="1526.6" cy="371.9" r="39.3" fill="none" stroke="#555" stroke-width="1.2"/><circle cx="1526.0" cy="370.9" r="42" fill="none" stroke="url(#p2cream)" stroke-width="5.2"/><circle cx="1526.6" cy="371.9" r="27.3" fill="none" stroke="#555" stroke-width="1.2"/><circle cx="1526.0" cy="370.9" r="30" fill="none" stroke="url(#p2cream)" stroke-width="5.2"/><circle cx="1526.6" cy="371.9" r="15.3" fill="none" stroke="#555" stroke-width="1.2"/><circle cx="1526.0" cy="370.9" r="18" fill="none" stroke="url(#p2cream)" stroke-width="5.2"/><circle cx="1223.6" cy="671.9" r="60" fill="#fff"/><circle cx="1224.2" cy="672.9" r="51.3" fill="none" stroke="#555" stroke-width="1.2"/><circle cx="1223.6" cy="671.9" r="54" fill="none" stroke="url(#p2cream)" stroke-width="5.2"/><circle cx="1224.2" cy="672.9" r="39.3" fill="none" stroke="#555" stroke-width="1.2"/><circle cx="1223.6" cy="671.9" r="42" fill="none" stroke="url(#p2cream)" stroke-width="5.2"/><circle cx="1224.2" cy="672.9" r="27.3" fill="none" stroke="#555" stroke-width="1.2"/><circle cx="1223.6" cy="671.9" r="30" fill="none" stroke="url(#p2cream)" stroke-width="5.2"/><circle cx="1224.2" cy="672.9" r="15.3" fill="none" stroke="#555" stroke-width="1.2"/><circle cx="1223.6" cy="671.9" r="18" fill="none" stroke="url(#p2cream)" stroke-width="5.2"/><circle cx="1295.7" cy="623.2" r="60" fill="#fff"/><circle cx="1296.3" cy="624.2" r="51.3" fill="none" stroke="#555" stroke-width="1.2"/><circle cx="1295.7" cy="623.2" r="54" fill="none" stroke="url(#p2cream)" stroke-width="5.2"/><circle cx="1296.3" cy="624.2" r="39.3" fill="none" stroke="#555" stroke-width="1.2"/><circle cx="1295.7" cy="623.2" r="42" fill="none" stroke="url(#p2cream)" stroke-width="5.2"/><circle cx="1296.3" cy="624.2" r="27.3" fill="none" stroke="#555" stroke-width="1.2"/><circle cx="1295.7" cy="623.2" r="30" fill="none" stroke="url(#p2cream)" stroke-width="5.2"/><circle cx="1296.3" cy="624.2" r="15.3" fill="none" stroke="#555" stroke-width="1.2"/><circle cx="1295.7" cy="623.2" r="18" fill="none" stroke="url(#p2cream)" stroke-width="5.2"/><circle cx="1367.8" cy="574.5" r="60" fill="#fff"/><circle cx="1368.4" cy="575.5" r="51.3" fill="none" stroke="#555" stroke-width="1.2"/><circle cx="1367.8" cy="574.5" r="54" fill="none" stroke="url(#p2cream)" stroke-width="5.2"/><circle cx="1368.4" cy="575.5" r="39.3" fill="none" stroke="#555" stroke-width="1.2"/><circle cx="1367.8" cy="574.5" r="42" fill="none" stroke="url(#p2cream)" stroke-width="5.2"/><circle cx="1368.4" cy="575.5" r="27.3" fill="none" stroke="#555" stroke-width="1.2"/><circle cx="1367.8" cy="574.5" r="30" fill="none" stroke="url(#p2cream)" stroke-width="5.2"/><circle cx="1368.4" cy="575.5" r="15.3" fill="none" stroke="#555" stroke-width="1.2"/><circle cx="1367.8" cy="574.5" r="18" fill="none" stroke="url(#p2cream)" stroke-width="5.2"/><circle cx="1439.9" cy="525.8" r="60" fill="#fff"/><circle cx="1440.5" cy="526.8" r="51.3" fill="none" stroke="#555" stroke-width="1.2"/><circle cx="1439.9" cy="525.8" r="54" fill="none" stroke="url(#p2cream)" stroke-width="5.2"/><circle cx="1440.5" cy="526.8" r="39.3" fill="none" stroke="#555" stroke-width="1.2"/><circle cx="1439.9" cy="525.8" r="42" fill="none" stroke="url(#p2cream)" stroke-width="5.2"/><circle cx="1440.5" cy="526.8" r="27.3" fill="none" stroke="#555" stroke-width="1.2"/><circle cx="1439.9" cy="525.8" r="30" fill="none" stroke="url(#p2cream)" stroke-width="5.2"/><circle cx="1440.5" cy="526.8" r="15.3" fill="none" stroke="#555" stroke-width="1.2"/><circle cx="1439.9" cy="525.8" r="18" fill="none" stroke="url(#p2cream)" stroke-width="5.2"/><circle cx="1512.0" cy="477.1" r="60" fill="#fff"/><circle cx="1512.6" cy="478.1" r="51.3" fill="none" stroke="#555" stroke-width="1.2"/><circle cx="1512.0" cy="477.1" r="54" fill="none" stroke="url(#p2cream)" stroke-width="5.2"/><circle cx="1512.6" cy="478.1" r="39.3" fill="none" stroke="#555" stroke-width="1.2"/><circle cx="1512.0" cy="477.1" r="42" fill="none" stroke="url(#p2cream)" stroke-width="5.2"/><circle cx="1512.6" cy="478.1" r="27.3" fill="none" stroke="#555" stroke-width="1.2"/><circle cx="1512.0" cy="477.1" r="30" fill="none" stroke="url(#p2cream)" stroke-width="5.2"/><circle cx="1512.6" cy="478.1" r="15.3" fill="none" stroke="#555" stroke-width="1.2"/><circle cx="1512.0" cy="477.1" r="18" fill="none" stroke="url(#p2cream)" stroke-width="5.2"/><circle cx="1584.1" cy="428.4" r="60" fill="#fff"/><circle cx="1584.7" cy="429.4" r="51.3" fill="none" stroke="#555" stroke-width="1.2"/><circle cx="1584.1" cy="428.4" r="54" fill="none" stroke="url(#p2cream)" stroke-width="5.2"/><circle cx="1584.7" cy="429.4" r="39.3" fill="none" stroke="#555" stroke-width="1.2"/><circle cx="1584.1" cy="428.4" r="42" fill="none" stroke="url(#p2cream)" stroke-width="5.2"/><circle cx="1584.7" cy="429.4" r="27.3" fill="none" stroke="#555" stroke-width="1.2"/><circle cx="1584.1" cy="428.4" r="30" fill="none" stroke="url(#p2cream)" stroke-width="5.2"/><circle cx="1584.7" cy="429.4" r="15.3" fill="none" stroke="#555" stroke-width="1.2"/><circle cx="1584.1" cy="428.4" r="18" fill="none" stroke="url(#p2cream)" stroke-width="5.2"/><circle cx="1209.6" cy="729.2" r="60" fill="#fff"/><circle cx="1210.2" cy="730.2" r="51.3" fill="none" stroke="#555" stroke-width="1.2"/><circle cx="1209.6" cy="729.2" r="54" fill="none" stroke="url(#p2cream)" stroke-width="5.2"/><circle cx="1210.2" cy="730.2" r="39.3" fill="none" stroke="#555" stroke-width="1.2"/><circle cx="1209.6" cy="729.2" r="42" fill="none" stroke="url(#p2cream)" stroke-width="5.2"/><circle cx="1210.2" cy="730.2" r="27.3" fill="none" stroke="#555" stroke-width="1.2"/><circle cx="1209.6" cy="729.2" r="30" fill="none" stroke="url(#p2cream)" stroke-width="5.2"/><circle cx="1210.2" cy="730.2" r="15.3" fill="none" stroke="#555" stroke-width="1.2"/><circle cx="1209.6" cy="729.2" r="18" fill="none" stroke="url(#p2cream)" stroke-width="5.2"/><circle cx="1281.7" cy="680.5" r="60" fill="#fff"/><circle cx="1282.3" cy="681.5" r="51.3" fill="none" stroke="#555" stroke-width="1.2"/><circle cx="1281.7" cy="680.5" r="54" fill="none" stroke="url(#p2cream)" stroke-width="5.2"/><circle cx="1282.3" cy="681.5" r="39.3" fill="none" stroke="#555" stroke-width="1.2"/><circle cx="1281.7" cy="680.5" r="42" fill="none" stroke="url(#p2cream)" stroke-width="5.2"/><circle cx="1282.3" cy="681.5" r="27.3" fill="none" stroke="#555" stroke-width="1.2"/><circle cx="1281.7" cy="680.5" r="30" fill="none" stroke="url(#p2cream)" stroke-width="5.2"/><circle cx="1282.3" cy="681.5" r="15.3" fill="none" stroke="#555" stroke-width="1.2"/><circle cx="1281.7" cy="680.5" r="18" fill="none" stroke="url(#p2cream)" stroke-width="5.2"/><circle cx="1353.8" cy="631.8" r="60" fill="#fff"/><circle cx="1354.4" cy="632.8" r="51.3" fill="none" stroke="#555" stroke-width="1.2"/><circle cx="1353.8" cy="631.8" r="54" fill="none" stroke="url(#p2cream)" stroke-width="5.2"/><circle cx="1354.4" cy="632.8" r="39.3" fill="none" stroke="#555" stroke-width="1.2"/><circle cx="1353.8" cy="631.8" r="42" fill="none" stroke="url(#p2cream)" stroke-width="5.2"/><circle cx="1354.4" cy="632.8" r="27.3" fill="none" stroke="#555" stroke-width="1.2"/><circle cx="1353.8" cy="631.8" r="30" fill="none" stroke="url(#p2cream)" stroke-width="5.2"/><circle cx="1354.4" cy="632.8" r="15.3" fill="none" stroke="#555" stroke-width="1.2"/><circle cx="1353.8" cy="631.8" r="18" fill="none" stroke="url(#p2cream)" stroke-width="5.2"/><circle cx="1425.9" cy="583.1" r="60" fill="#fff"/><circle cx="1426.5" cy="584.1" r="51.3" fill="none" stroke="#555" stroke-width="1.2"/><circle cx="1425.9" cy="583.1" r="54" fill="none" stroke="url(#p2cream)" stroke-width="5.2"/><circle cx="1426.5" cy="584.1" r="39.3" fill="none" stroke="#555" stroke-width="1.2"/><circle cx="1425.9" cy="583.1" r="42" fill="none" stroke="url(#p2cream)" stroke-width="5.2"/><circle cx="1426.5" cy="584.1" r="27.3" fill="none" stroke="#555" stroke-width="1.2"/><circle cx="1425.9" cy="583.1" r="30" fill="none" stroke="url(#p2cream)" stroke-width="5.2"/><circle cx="1426.5" cy="584.1" r="15.3" fill="none" stroke="#555" stroke-width="1.2"/><circle cx="1425.9" cy="583.1" r="18" fill="none" stroke="url(#p2cream)" stroke-width="5.2"/><circle cx="1498.0" cy="534.4" r="60" fill="#fff"/><circle cx="1498.6" cy="535.4" r="51.3" fill="none" stroke="#555" stroke-width="1.2"/><circle cx="1498.0" cy="534.4" r="54" fill="none" stroke="url(#p2cream)" stroke-width="5.2"/><circle cx="1498.6" cy="535.4" r="39.3" fill="none" stroke="#555" stroke-width="1.2"/><circle cx="1498.0" cy="534.4" r="42" fill="none" stroke="url(#p2cream)" stroke-width="5.2"/><circle cx="1498.6" cy="535.4" r="27.3" fill="none" stroke="#555" stroke-width="1.2"/><circle cx="1498.0" cy="534.4" r="30" fill="none" stroke="url(#p2cream)" stroke-width="5.2"/><circle cx="1498.6" cy="535.4" r="15.3" fill="none" stroke="#555" stroke-width="1.2"/><circle cx="1498.0" cy="534.4" r="18" fill="none" stroke="url(#p2cream)" stroke-width="5.2"/><circle cx="1570.1" cy="485.7" r="60" fill="#fff"/><circle cx="1570.7" cy="486.7" r="51.3" fill="none" stroke="#555" stroke-width="1.2"/><circle cx="1570.1" cy="485.7" r="54" fill="none" stroke="url(#p2cream)" stroke-width="5.2"/><circle cx="1570.7" cy="486.7" r="39.3" fill="none" stroke="#555" stroke-width="1.2"/><circle cx="1570.1" cy="485.7" r="42" fill="none" stroke="url(#p2cream)" stroke-width="5.2"/><circle cx="1570.7" cy="486.7" r="27.3" fill="none" stroke="#555" stroke-width="1.2"/><circle cx="1570.1" cy="485.7" r="30" fill="none" stroke="url(#p2cream)" stroke-width="5.2"/><circle cx="1570.7" cy="486.7" r="15.3" fill="none" stroke="#555" stroke-width="1.2"/><circle cx="1570.1" cy="485.7" r="18" fill="none" stroke="url(#p2cream)" stroke-width="5.2"/><circle cx="1642.2" cy="437.0" r="60" fill="#fff"/><circle cx="1642.8" cy="438.0" r="51.3" fill="none" stroke="#555" stroke-width="1.2"/><circle cx="1642.2" cy="437.0" r="54" fill="none" stroke="url(#p2cream)" stroke-width="5.2"/><circle cx="1642.8" cy="438.0" r="39.3" fill="none" stroke="#555" stroke-width="1.2"/><circle cx="1642.2" cy="437.0" r="42" fill="none" stroke="url(#p2cream)" stroke-width="5.2"/><circle cx="1642.8" cy="438.0" r="27.3" fill="none" stroke="#555" stroke-width="1.2"/><circle cx="1642.2" cy="437.0" r="30" fill="none" stroke="url(#p2cream)" stroke-width="5.2"/><circle cx="1642.8" cy="438.0" r="15.3" fill="none" stroke="#555" stroke-width="1.2"/><circle cx="1642.2" cy="437.0" r="18" fill="none" stroke="url(#p2cream)" stroke-width="5.2"/><circle cx="1213.7" cy="792.1" r="60" fill="#fff"/><circle cx="1214.3" cy="793.1" r="51.3" fill="none" stroke="#555" stroke-width="1.2"/><circle cx="1213.7" cy="792.1" r="54" fill="none" stroke="url(#p2cream)" stroke-width="5.2"/><circle cx="1214.3" cy="793.1" r="39.3" fill="none" stroke="#555" stroke-width="1.2"/><circle cx="1213.7" cy="792.1" r="42" fill="none" stroke="url(#p2cream)" stroke-width="5.2"/><circle cx="1214.3" cy="793.1" r="27.3" fill="none" stroke="#555" stroke-width="1.2"/><circle cx="1213.7" cy="792.1" r="30" fill="none" stroke="url(#p2cream)" stroke-width="5.2"/><circle cx="1214.3" cy="793.1" r="15.3" fill="none" stroke="#555" stroke-width="1.2"/><circle cx="1213.7" cy="792.1" r="18" fill="none" stroke="url(#p2cream)" stroke-width="5.2"/><circle cx="1285.8" cy="743.4" r="60" fill="#fff"/><circle cx="1286.4" cy="744.4" r="51.3" fill="none" stroke="#555" stroke-width="1.2"/><circle cx="1285.8" cy="743.4" r="54" fill="none" stroke="url(#p2cream)" stroke-width="5.2"/><circle cx="1286.4" cy="744.4" r="39.3" fill="none" stroke="#555" stroke-width="1.2"/><circle cx="1285.8" cy="743.4" r="42" fill="none" stroke="url(#p2cream)" stroke-width="5.2"/><circle cx="1286.4" cy="744.4" r="27.3" fill="none" stroke="#555" stroke-width="1.2"/><circle cx="1285.8" cy="743.4" r="30" fill="none" stroke="url(#p2cream)" stroke-width="5.2"/><circle cx="1286.4" cy="744.4" r="15.3" fill="none" stroke="#555" stroke-width="1.2"/><circle cx="1285.8" cy="743.4" r="18" fill="none" stroke="url(#p2cream)" stroke-width="5.2"/><circle cx="1357.9" cy="694.7" r="60" fill="#fff"/><circle cx="1358.5" cy="695.7" r="51.3" fill="none" stroke="#555" stroke-width="1.2"/><circle cx="1357.9" cy="694.7" r="54" fill="none" stroke="url(#p2cream)" stroke-width="5.2"/><circle cx="1358.5" cy="695.7" r="39.3" fill="none" stroke="#555" stroke-width="1.2"/><circle cx="1357.9" cy="694.7" r="42" fill="none" stroke="url(#p2cream)" stroke-width="5.2"/><circle cx="1358.5" cy="695.7" r="27.3" fill="none" stroke="#555" stroke-width="1.2"/><circle cx="1357.9" cy="694.7" r="30" fill="none" stroke="url(#p2cream)" stroke-width="5.2"/><circle cx="1358.5" cy="695.7" r="15.3" fill="none" stroke="#555" stroke-width="1.2"/><circle cx="1357.9" cy="694.7" r="18" fill="none" stroke="url(#p2cream)" stroke-width="5.2"/><circle cx="1430.0" cy="646.0" r="60" fill="#fff"/><circle cx="1430.6" cy="647.0" r="51.3" fill="none" stroke="#555" stroke-width="1.2"/><circle cx="1430.0" cy="646.0" r="54" fill="none" stroke="url(#p2cream)" stroke-width="5.2"/><circle cx="1430.6" cy="647.0" r="39.3" fill="none" stroke="#555" stroke-width="1.2"/><circle cx="1430.0" cy="646.0" r="42" fill="none" stroke="url(#p2cream)" stroke-width="5.2"/><circle cx="1430.6" cy="647.0" r="27.3" fill="none" stroke="#555" stroke-width="1.2"/><circle cx="1430.0" cy="646.0" r="30" fill="none" stroke="url(#p2cream)" stroke-width="5.2"/><circle cx="1430.6" cy="647.0" r="15.3" fill="none" stroke="#555" stroke-width="1.2"/><circle cx="1430.0" cy="646.0" r="18" fill="none" stroke="url(#p2cream)" stroke-width="5.2"/><circle cx="1502.1" cy="597.3" r="60" fill="#fff"/><circle cx="1502.7" cy="598.3" r="51.3" fill="none" stroke="#555" stroke-width="1.2"/><circle cx="1502.1" cy="597.3" r="54" fill="none" stroke="url(#p2cream)" stroke-width="5.2"/><circle cx="1502.7" cy="598.3" r="39.3" fill="none" stroke="#555" stroke-width="1.2"/><circle cx="1502.1" cy="597.3" r="42" fill="none" stroke="url(#p2cream)" stroke-width="5.2"/><circle cx="1502.7" cy="598.3" r="27.3" fill="none" stroke="#555" stroke-width="1.2"/><circle cx="1502.1" cy="597.3" r="30" fill="none" stroke="url(#p2cream)" stroke-width="5.2"/><circle cx="1502.7" cy="598.3" r="15.3" fill="none" stroke="#555" stroke-width="1.2"/><circle cx="1502.1" cy="597.3" r="18" fill="none" stroke="url(#p2cream)" stroke-width="5.2"/><circle cx="1574.2" cy="548.6" r="60" fill="#fff"/><circle cx="1574.8" cy="549.6" r="51.3" fill="none" stroke="#555" stroke-width="1.2"/><circle cx="1574.2" cy="548.6" r="54" fill="none" stroke="url(#p2cream)" stroke-width="5.2"/><circle cx="1574.8" cy="549.6" r="39.3" fill="none" stroke="#555" stroke-width="1.2"/><circle cx="1574.2" cy="548.6" r="42" fill="none" stroke="url(#p2cream)" stroke-width="5.2"/><circle cx="1574.8" cy="549.6" r="27.3" fill="none" stroke="#555" stroke-width="1.2"/><circle cx="1574.2" cy="548.6" r="30" fill="none" stroke="url(#p2cream)" stroke-width="5.2"/><circle cx="1574.8" cy="549.6" r="15.3" fill="none" stroke="#555" stroke-width="1.2"/><circle cx="1574.2" cy="548.6" r="18" fill="none" stroke="url(#p2cream)" stroke-width="5.2"/><circle cx="1646.3" cy="499.9" r="60" fill="#fff"/><circle cx="1646.9" cy="500.9" r="51.3" fill="none" stroke="#555" stroke-width="1.2"/><circle cx="1646.3" cy="499.9" r="54" fill="none" stroke="url(#p2cream)" stroke-width="5.2"/><circle cx="1646.9" cy="500.9" r="39.3" fill="none" stroke="#555" stroke-width="1.2"/><circle cx="1646.3" cy="499.9" r="42" fill="none" stroke="url(#p2cream)" stroke-width="5.2"/><circle cx="1646.9" cy="500.9" r="27.3" fill="none" stroke="#555" stroke-width="1.2"/><circle cx="1646.3" cy="499.9" r="30" fill="none" stroke="url(#p2cream)" stroke-width="5.2"/><circle cx="1646.9" cy="500.9" r="15.3" fill="none" stroke="#555" stroke-width="1.2"/><circle cx="1646.3" cy="499.9" r="18" fill="none" stroke="url(#p2cream)" stroke-width="5.2"/></g><defs><linearGradient id="p2tan" gradientUnits="userSpaceOnUse" x1="1300" y1="560" x2="1352" y2="647"><stop offset="0" stop-color="#a08c70" stop-opacity="0.95"/><stop offset="0.38" stop-color="#b09c80" stop-opacity="0.85"/><stop offset="0.55" stop-color="#b9a587" stop-opacity="0.0"/></linearGradient><clipPath id="p2sh"><path d="M1286,575L1395,553L1420,553L1286,642Z"/></clipPath></defs><g clip-path="url(#p2c)"><g clip-path="url(#p2sh)" opacity="0.9"><circle cx="1295.7" cy="623.2" r="36" fill="none" stroke="#5a5a5a" stroke-width="5.5"/><circle cx="1295.7" cy="623.2" r="48" fill="none" stroke="#5a5a5a" stroke-width="5.5"/><circle cx="1295.7" cy="623.2" r="60" fill="none" stroke="#5a5a5a" stroke-width="5.5"/><circle cx="1367.8" cy="574.5" r="36" fill="none" stroke="#5a5a5a" stroke-width="5.5"/><circle cx="1367.8" cy="574.5" r="48" fill="none" stroke="#5a5a5a" stroke-width="5.5"/><circle cx="1353.8" cy="631.8" r="60" fill="none" stroke="#5a5a5a" stroke-width="5.5"/></g><path d="M1286,553H1470L1286,670Z" fill="url(#p2tan)"/></g><path d="M1280,746C1281,745.6 1276.5,747 1286,743.7C1295.5,740.4 1320.7,732 1336.7,726.1C1352.7,720.2 1366.5,714.8 1382,708.6C1397.5,702.4 1414.2,694.9 1429.7,688.9C1445.2,682.9 1460.5,678.1 1475,672.5C1489.5,666.9 1502.7,661 1516.6,655C1530.5,649 1544.3,643.1 1558.2,636.3C1572.1,629.5 1585.9,622.1 1599.7,614C1613.5,605.9 1630.1,595.4 1641.3,587.4C1652.5,579.4 1662.7,569.6 1667,566L1670,560L1670,628L1667,630.5C1659.2,634.8 1635.2,647.9 1620.5,656C1605.8,664.1 1591.1,672.6 1579,678.9C1566.9,685.1 1561,688.6 1547.8,693.5C1534.6,698.4 1516.3,702.4 1500,708C1483.7,713.6 1466.5,720.9 1450,727C1433.5,733.1 1417.9,738.7 1400.7,744.7C1383.5,750.8 1366.1,756.6 1347,763.3C1327.9,770 1297.2,781 1286,785C1274.8,789 1281,786.7 1280,787Z" fill="url(#p2dark)"/><path d="M1280,671C1281.1,670.6 1272.6,674 1286.6,668.4C1300.6,662.8 1338.1,647.8 1364,637.5C1389.9,627.2 1423.5,613.8 1442,606.5C1460.5,599.2 1460.8,599.1 1475,593.6C1489.2,588.1 1509.7,580.5 1527,573.8C1544.3,567.1 1566.8,558.4 1579,553.6C1591.2,548.8 1596.5,546.4 1600,545L1670,545L1670,560L1667,566C1662.7,569.6 1652.5,579.4 1641.3,587.4C1630.1,595.4 1613.5,605.9 1599.7,614C1585.9,622.1 1572.1,629.5 1558.2,636.3C1544.3,643.1 1530.5,649 1516.6,655C1502.7,661 1489.5,666.9 1475,672.5C1460.5,678.1 1445.2,682.9 1429.7,688.9C1414.2,694.9 1397.5,702.4 1382,708.6C1366.5,714.8 1352.7,720.2 1336.7,726.1C1320.7,732 1295.5,740.4 1286,743.7C1276.5,747 1281,745.6 1280,746Z" fill="url(#p2band)"/><path d="M1280,746C1281,745.6 1276.5,747 1286,743.7C1295.5,740.4 1320.7,732 1336.7,726.1C1352.7,720.2 1366.5,714.8 1382,708.6C1397.5,702.4 1414.2,694.9 1429.7,688.9C1445.2,682.9 1460.5,678.1 1475,672.5C1489.5,666.9 1502.7,661 1516.6,655C1530.5,649 1544.3,643.1 1558.2,636.3C1572.1,629.5 1585.9,622.1 1599.7,614C1613.5,605.9 1630.1,595.4 1641.3,587.4C1652.5,579.4 1662.7,569.6 1667,566" fill="none" stroke="#2e2a28" stroke-width="2.2" filter="url(#pb1)" opacity="0.8"/><path d="M1280,671C1281.1,670.6 1272.6,674 1286.6,668.4C1300.6,662.8 1338.1,647.8 1364,637.5C1389.9,627.2 1423.5,613.8 1442,606.5C1460.5,599.2 1460.8,599.1 1475,593.6C1489.2,588.1 1509.7,580.5 1527,573.8C1544.3,567.1 1566.8,558.4 1579,553.6C1591.2,548.8 1596.5,546.4 1600,545" fill="none" stroke="#3a3029" stroke-width="1.2" opacity="0.75"/><path d="M1385,716L1552,650L1560,662L1395,730Z" fill="#cfcfcf" filter="url(#pb2)"/><path d="M1380.1,722.5L1556,655.5L1564,658.5L1571.3,678.6L1562,688L1409,747.5L1398,745Z" fill="#c9c9c9"/><path d="M1380.5,722.5L1556,655.5L1560,661.5L1385,729Z" fill="#f7f7f7"/><path d="M1385,729L1560,661.5L1561.5,664L1387.5,732Z" fill="#ffffff"/><g transform="translate(1418,733) rotate(-21.5)"><rect x="-15" y="-8" width="30" height="17" rx="5" fill="#b5b5b5"/><rect x="-13" y="-7" width="26" height="6" rx="3" fill="#d9d9d9"/><path d="M-11,1h22M-11,3.5h22M-10,6h20" stroke="#cfcfcf" stroke-width="0.8"/></g><g transform="translate(1452,719.5) rotate(-21.5)"><rect x="-15" y="-8" width="30" height="17" rx="5" fill="#b5b5b5"/><rect x="-13" y="-7" width="26" height="6" rx="3" fill="#d9d9d9"/><path d="M-11,1h22M-11,3.5h22M-10,6h20" stroke="#cfcfcf" stroke-width="0.8"/></g><g transform="translate(1486,706) rotate(-21.5)"><rect x="-15" y="-8" width="30" height="17" rx="5" fill="#b5b5b5"/><rect x="-13" y="-7" width="26" height="6" rx="3" fill="#d9d9d9"/><path d="M-11,1h22M-11,3.5h22M-10,6h20" stroke="#cfcfcf" stroke-width="0.8"/></g><g transform="translate(1520,692.5) rotate(-21.5)"><rect x="-15" y="-8" width="30" height="17" rx="5" fill="#b5b5b5"/><rect x="-13" y="-7" width="26" height="6" rx="3" fill="#d9d9d9"/><path d="M-11,1h22M-11,3.5h22M-10,6h20" stroke="#cfcfcf" stroke-width="0.8"/></g><path d="M1547,667L1564,660.5L1571,678.5L1556,688.5Z" fill="#d8d8d8"/><path d="M1550,668L1558,665L1564,683L1557,687Z" fill="#bdbdbd"/><path d="M1398,745L1409,747.5L1562,688" fill="none" stroke="#e9e9e9" stroke-width="1.4"/></g><rect x="1285.5" y="552.5" width="381" height="286" fill="none" stroke="#000" stroke-width="1"/></g>
<g><rect x="1285" y="972" width="382" height="287" fill="#fff"/><g clip-path="url(#cp3)"><path d="M1389,1030.2C1389.6,1031.6 1391.9,1035.1 1392.6,1038.5C1393.3,1042 1393.7,1046.5 1393.1,1051C1392.5,1055.5 1391.4,1060.5 1389,1065.6C1386.5,1070.6 1382.4,1076.6 1378.6,1081.1C1374.7,1085.7 1370.2,1089.3 1366.1,1092.6C1361.9,1095.9 1355.7,1099.5 1353.6,1100.9L1353.4,1101.5C1354.6,1104.8 1358.2,1115.2 1360.6,1121.2C1363.1,1127.3 1365.3,1131.6 1367.9,1137.8C1370.5,1144 1373.8,1151.6 1376.2,1158.5C1378.6,1165.4 1380.3,1172.3 1382.4,1179.3C1384.5,1186.2 1386.9,1193.1 1388.6,1200C1390.4,1206.9 1391.1,1210.3 1392.8,1220.7C1394.4,1231.1 1397.6,1255.2 1398.6,1262.2L1430.1,1262.2L1430.1,972L1285,972L1285,1050Z" fill="url(#p3body)"/><path d="M1377.5,1031.8C1378.7,1032 1382.4,1032.2 1384.8,1033.3C1387.2,1034.5 1390.6,1036.1 1392.1,1038.5C1393.5,1041 1394,1045.8 1393.6,1047.9C1393.3,1050 1392,1049.8 1390,1051C1388,1052.2 1385.7,1054.1 1381.7,1055.2C1377.7,1056.2 1370.9,1056.6 1366.1,1057.2C1361.2,1057.8 1354.8,1058.5 1352.6,1058.8Z" fill="#3f3c3a"/><path d="M1389,1030.2C1389.6,1031.6 1391.9,1035.1 1392.6,1038.5C1393.3,1042 1393.7,1046.5 1393.1,1051C1392.5,1055.5 1391.4,1060.5 1389,1065.6C1386.5,1070.6 1382.4,1076.6 1378.6,1081.1C1374.7,1085.7 1370.2,1089.3 1366.1,1092.6C1361.9,1095.9 1355.7,1099.5 1353.6,1100.9L1353.4,1101.5C1354.6,1104.8 1358.2,1115.2 1360.6,1121.2C1363.1,1127.3 1365.3,1131.6 1367.9,1137.8C1370.5,1144 1373.8,1151.6 1376.2,1158.5C1378.6,1165.4 1380.3,1172.3 1382.4,1179.3C1384.5,1186.2 1386.9,1193.1 1388.6,1200C1390.4,1206.9 1391.1,1210.3 1392.8,1220.7C1394.4,1231.1 1397.6,1255.2 1398.6,1262.2" fill="none" stroke="#2e2520" stroke-width="0.9"/><defs><linearGradient id="p3gray" gradientUnits="userSpaceOnUse" x1="1540" y1="1040" x2="1600" y2="1110"><stop offset="0" stop-color="#a3a3a3"/><stop offset="1" stop-color="#6b6a69"/></linearGradient></defs><path d="M1540.3,971C1538.4,974.6 1531.4,985.6 1528.5,992.7C1525.7,999.8 1525.5,1006.5 1523.3,1013.5C1521.2,1020.4 1517.2,1027.3 1515.5,1034.2C1513.7,1041.1 1513.4,1049 1513,1054.9C1512.6,1060.8 1513,1034.9 1513,1069.4C1513,1104 1513,1230 1513,1262.2L1560.6,1262.2C1561,1255.2 1561.2,1232.8 1562.7,1220.7C1564.3,1208.6 1567.2,1200 1570,1189.6C1572.7,1179.3 1576,1168.5 1579.3,1158.5C1582.6,1148.5 1586,1139 1589.7,1129.5C1593.3,1120 1599.2,1106.2 1601.1,1101.5L1601.1,1100.9C1599.9,1100.1 1597.5,1099.1 1593.8,1096.3C1590.2,1093.5 1583.7,1088.8 1579.3,1084C1574.8,1079.1 1570,1072.8 1566.9,1067.3C1563.8,1061.8 1561.3,1056.3 1560.7,1050.8C1560,1045.3 1561.4,1037.6 1562.7,1034.2C1564.1,1030.7 1566.2,1030.5 1568.6,1030.2C1570.9,1029.9 1575.5,1031.9 1576.9,1032.3L1667,1000L1667,972Z" fill="url(#p3gray)"/><path d="M1540.3,971C1538.4,974.6 1531.4,985.6 1528.5,992.7C1525.7,999.8 1525.5,1006.5 1523.3,1013.5C1521.2,1020.4 1517.2,1027.3 1515.5,1034.2C1513.7,1041.1 1513.4,1049 1513,1054.9C1512.6,1060.8 1513,1034.9 1513,1069.4C1513,1104 1513,1230 1513,1262.2L1552.4,1262.2C1552.7,1255.2 1552.9,1232.8 1554.4,1220.7C1556,1208.6 1558.9,1200 1561.7,1189.6C1564.4,1179.3 1567.7,1168.5 1571,1158.5C1574.3,1148.5 1577.9,1138.5 1581.4,1129.5C1584.8,1120.5 1590,1108.8 1591.7,1104.6L1591.7,1104.6C1589,1103.6 1581,1102.5 1575.1,1098.4C1569.2,1094.3 1561,1086.4 1556.5,1079.8C1552,1073.2 1549.6,1065.2 1548.2,1059C1546.8,1052.8 1547.1,1047 1548.2,1042.5C1549.2,1038 1551.9,1034.4 1554.4,1032.1C1556.9,1029.8 1560.3,1028.9 1563.4,1028.7C1566.4,1028.4 1571.2,1030.4 1572.7,1030.7L1667,1000L1667,972Z" fill="url(#p3bodyR)"/><path d="M1552.4,1262.2C1552.7,1255.2 1552.9,1232.8 1554.4,1220.7C1556,1208.6 1558.9,1200 1561.7,1189.6C1564.4,1179.3 1567.7,1168.5 1571,1158.5C1574.3,1148.5 1577.9,1138.5 1581.4,1129.5C1584.8,1120.5 1590,1108.8 1591.7,1104.6L1591.7,1104.6C1589,1103.6 1581,1102.5 1575.1,1098.4C1569.2,1094.3 1561,1086.4 1556.5,1079.8C1552,1073.2 1549.6,1065.2 1548.2,1059C1546.8,1052.8 1547.1,1047 1548.2,1042.5C1549.2,1038 1551.9,1034.4 1554.4,1032.1C1556.9,1029.8 1560.3,1028.9 1563.4,1028.7C1566.4,1028.4 1571.2,1030.4 1572.7,1030.7" fill="none" stroke="#c9ab97" stroke-width="0.9" opacity="0.9"/><ellipse cx="1329.2" cy="1006.6" rx="55.5" ry="55.5" fill="#5d5650"/><circle cx="1328.7" cy="1000.1" r="54.6" fill="#a88f7f" stroke="#3c302a" stroke-width="0.7"/><g transform="translate(1329.2,1001.0)" opacity="0.55"><g fill="none" stroke="#6b574b" stroke-linecap="butt"><circle r="50.60" stroke-width="3.50"/><path d="M43.14,3.77A43.30,43.30 0 0 1 37.50,21.65M21.65,37.50A43.30,43.30 0 0 1 3.77,43.14M-3.77,43.14A43.30,43.30 0 0 1 -21.65,37.50M-37.50,21.65A43.30,43.30 0 0 1 -43.14,3.77M-43.14,-3.77A43.30,43.30 0 0 1 -37.50,-21.65M-21.65,-37.50A43.30,43.30 0 0 1 -3.77,-43.14M3.77,-43.14A43.30,43.30 0 0 1 21.65,-37.50M37.50,-21.65A43.30,43.30 0 0 1 43.14,-3.77" stroke-width="3.5"/><path d="M35.86,3.14A36.00,36.00 0 0 1 29.12,21.16M21.16,29.12A36.00,36.00 0 0 1 3.14,35.86M-3.14,35.86A36.00,36.00 0 0 1 -21.16,29.12M-29.12,21.16A36.00,36.00 0 0 1 -35.86,3.14M-35.86,-3.14A36.00,36.00 0 0 1 -29.12,-21.16M-21.16,-29.12A36.00,36.00 0 0 1 -3.14,-35.86M3.14,-35.86A36.00,36.00 0 0 1 21.16,-29.12M29.12,-21.16A36.00,36.00 0 0 1 35.86,-3.14" stroke-width="3.5"/><circle r="28.70" stroke-width="3.50"/><path d="M29.66,17.12L39.01,22.52M17.13,29.66L22.53,39.01M-17.12,29.66L-22.52,39.01M-29.66,17.12L-39.01,22.52M-29.66,-17.13L-39.01,-22.53M-17.13,-29.66L-22.53,-39.01M17.13,-29.66L22.53,-39.01M29.66,-17.13L39.01,-22.53" stroke-width="3.50"/><path d="M0,-50.60V-19.00M0,50.60V19.00M-50.60,0H-19.00M50.60,0H19.00" stroke-width="5.20"/><ellipse cx="0" cy="-14.20" rx="4.40" ry="6.30" stroke-width="2.30" transform="rotate(0)"/><ellipse cx="0" cy="-14.20" rx="4.40" ry="6.30" stroke-width="2.30" transform="rotate(45)"/><ellipse cx="0" cy="-14.20" rx="4.40" ry="6.30" stroke-width="2.30" transform="rotate(90)"/><ellipse cx="0" cy="-14.20" rx="4.40" ry="6.30" stroke-width="2.30" transform="rotate(135)"/><ellipse cx="0" cy="-14.20" rx="4.40" ry="6.30" stroke-width="2.30" transform="rotate(180)"/><ellipse cx="0" cy="-14.20" rx="4.40" ry="6.30" stroke-width="2.30" transform="rotate(225)"/><ellipse cx="0" cy="-14.20" rx="4.40" ry="6.30" stroke-width="2.30" transform="rotate(270)"/><ellipse cx="0" cy="-14.20" rx="4.40" ry="6.30" stroke-width="2.30" transform="rotate(315)"/><circle r="6.40" stroke-width="2.40"/></g></g><g transform="translate(1328.7,1000.1)"><g fill="none" stroke="#ead5b3" stroke-linecap="butt"><circle r="50.60" stroke-width="3.50"/><path d="M43.14,3.77A43.30,43.30 0 0 1 37.50,21.65M21.65,37.50A43.30,43.30 0 0 1 3.77,43.14M-3.77,43.14A43.30,43.30 0 0 1 -21.65,37.50M-37.50,21.65A43.30,43.30 0 0 1 -43.14,3.77M-43.14,-3.77A43.30,43.30 0 0 1 -37.50,-21.65M-21.65,-37.50A43.30,43.30 0 0 1 -3.77,-43.14M3.77,-43.14A43.30,43.30 0 0 1 21.65,-37.50M37.50,-21.65A43.30,43.30 0 0 1 43.14,-3.77" stroke-width="3.5"/><path d="M35.86,3.14A36.00,36.00 0 0 1 29.12,21.16M21.16,29.12A36.00,36.00 0 0 1 3.14,35.86M-3.14,35.86A36.00,36.00 0 0 1 -21.16,29.12M-29.12,21.16A36.00,36.00 0 0 1 -35.86,3.14M-35.86,-3.14A36.00,36.00 0 0 1 -29.12,-21.16M-21.16,-29.12A36.00,36.00 0 0 1 -3.14,-35.86M3.14,-35.86A36.00,36.00 0 0 1 21.16,-29.12M29.12,-21.16A36.00,36.00 0 0 1 35.86,-3.14" stroke-width="3.5"/><circle r="28.70" stroke-width="3.50"/><path d="M29.66,17.12L39.01,22.52M17.13,29.66L22.53,39.01M-17.12,29.66L-22.52,39.01M-29.66,17.12L-39.01,22.52M-29.66,-17.13L-39.01,-22.53M-17.13,-29.66L-22.53,-39.01M17.13,-29.66L22.53,-39.01M29.66,-17.13L39.01,-22.53" stroke-width="3.50"/><path d="M0,-50.60V-19.00M0,50.60V19.00M-50.60,0H-19.00M50.60,0H19.00" stroke-width="5.20"/><ellipse cx="0" cy="-14.20" rx="4.40" ry="6.30" stroke-width="2.30" transform="rotate(0)"/><ellipse cx="0" cy="-14.20" rx="4.40" ry="6.30" stroke-width="2.30" transform="rotate(45)"/><ellipse cx="0" cy="-14.20" rx="4.40" ry="6.30" stroke-width="2.30" transform="rotate(90)"/><ellipse cx="0" cy="-14.20" rx="4.40" ry="6.30" stroke-width="2.30" transform="rotate(135)"/><ellipse cx="0" cy="-14.20" rx="4.40" ry="6.30" stroke-width="2.30" transform="rotate(180)"/><ellipse cx="0" cy="-14.20" rx="4.40" ry="6.30" stroke-width="2.30" transform="rotate(225)"/><ellipse cx="0" cy="-14.20" rx="4.40" ry="6.30" stroke-width="2.30" transform="rotate(270)"/><ellipse cx="0" cy="-14.20" rx="4.40" ry="6.30" stroke-width="2.30" transform="rotate(315)"/><circle r="6.40" stroke-width="2.40"/></g></g><ellipse cx="1616.4" cy="1008.1" rx="55.5" ry="55.5" fill="#5d5650"/><circle cx="1615.9" cy="1001.6" r="54.6" fill="#a88f7f" stroke="#3c302a" stroke-width="0.7"/><g transform="translate(1616.4,1002.5)" opacity="0.55"><g fill="none" stroke="#6b574b" stroke-linecap="butt"><circle r="50.60" stroke-width="3.50"/><path d="M43.14,3.77A43.30,43.30 0 0 1 37.50,21.65M21.65,37.50A43.30,43.30 0 0 1 3.77,43.14M-3.77,43.14A43.30,43.30 0 0 1 -21.65,37.50M-37.50,21.65A43.30,43.30 0 0 1 -43.14,3.77M-43.14,-3.77A43.30,43.30 0 0 1 -37.50,-21.65M-21.65,-37.50A43.30,43.30 0 0 1 -3.77,-43.14M3.77,-43.14A43.30,43.30 0 0 1 21.65,-37.50M37.50,-21.65A43.30,43.30 0 0 1 43.14,-3.77" stroke-width="3.5"/><path d="M35.86,3.14A36.00,36.00 0 0 1 29.12,21.16M21.16,29.12A36.00,36.00 0 0 1 3.14,35.86M-3.14,35.86A36.00,36.00 0 0 1 -21.16,29.12M-29.12,21.16A36.00,36.00 0 0 1 -35.86,3.14M-35.86,-3.14A36.00,36.00 0 0 1 -29.12,-21.16M-21.16,-29.12A36.00,36.00 0 0 1 -3.14,-35.86M3.14,-35.86A36.00,36.00 0 0 1 21.16,-29.12M29.12,-21.16A36.00,36.00 0 0 1 35.86,-3.14" stroke-width="3.5"/><circle r="28.70" stroke-width="3.50"/><path d="M29.66,17.12L39.01,22.52M17.13,29.66L22.53,39.01M-17.12,29.66L-22.52,39.01M-29.66,17.12L-39.01,22.52M-29.66,-17.13L-39.01,-22.53M-17.13,-29.66L-22.53,-39.01M17.13,-29.66L22.53,-39.01M29.66,-17.13L39.01,-22.53" stroke-width="3.50"/><path d="M0,-50.60V-19.00M0,50.60V19.00M-50.60,0H-19.00M50.60,0H19.00" stroke-width="5.20"/><ellipse cx="0" cy="-14.20" rx="4.40" ry="6.30" stroke-width="2.30" transform="rotate(0)"/><ellipse cx="0" cy="-14.20" rx="4.40" ry="6.30" stroke-width="2.30" transform="rotate(45)"/><ellipse cx="0" cy="-14.20" rx="4.40" ry="6.30" stroke-width="2.30" transform="rotate(90)"/><ellipse cx="0" cy="-14.20" rx="4.40" ry="6.30" stroke-width="2.30" transform="rotate(135)"/><ellipse cx="0" cy="-14.20" rx="4.40" ry="6.30" stroke-width="2.30" transform="rotate(180)"/><ellipse cx="0" cy="-14.20" rx="4.40" ry="6.30" stroke-width="2.30" transform="rotate(225)"/><ellipse cx="0" cy="-14.20" rx="4.40" ry="6.30" stroke-width="2.30" transform="rotate(270)"/><ellipse cx="0" cy="-14.20" rx="4.40" ry="6.30" stroke-width="2.30" transform="rotate(315)"/><circle r="6.40" stroke-width="2.40"/></g></g><g transform="translate(1615.9,1001.6)"><g fill="none" stroke="#ead5b3" stroke-linecap="butt"><circle r="50.60" stroke-width="3.50"/><path d="M43.14,3.77A43.30,43.30 0 0 1 37.50,21.65M21.65,37.50A43.30,43.30 0 0 1 3.77,43.14M-3.77,43.14A43.30,43.30 0 0 1 -21.65,37.50M-37.50,21.65A43.30,43.30 0 0 1 -43.14,3.77M-43.14,-3.77A43.30,43.30 0 0 1 -37.50,-21.65M-21.65,-37.50A43.30,43.30 0 0 1 -3.77,-43.14M3.77,-43.14A43.30,43.30 0 0 1 21.65,-37.50M37.50,-21.65A43.30,43.30 0 0 1 43.14,-3.77" stroke-width="3.5"/><path d="M35.86,3.14A36.00,36.00 0 0 1 29.12,21.16M21.16,29.12A36.00,36.00 0 0 1 3.14,35.86M-3.14,35.86A36.00,36.00 0 0 1 -21.16,29.12M-29.12,21.16A36.00,36.00 0 0 1 -35.86,3.14M-35.86,-3.14A36.00,36.00 0 0 1 -29.12,-21.16M-21.16,-29.12A36.00,36.00 0 0 1 -3.14,-35.86M3.14,-35.86A36.00,36.00 0 0 1 21.16,-29.12M29.12,-21.16A36.00,36.00 0 0 1 35.86,-3.14" stroke-width="3.5"/><circle r="28.70" stroke-width="3.50"/><path d="M29.66,17.12L39.01,22.52M17.13,29.66L22.53,39.01M-17.12,29.66L-22.52,39.01M-29.66,17.12L-39.01,22.52M-29.66,-17.13L-39.01,-22.53M-17.13,-29.66L-22.53,-39.01M17.13,-29.66L22.53,-39.01M29.66,-17.13L39.01,-22.53" stroke-width="3.50"/><path d="M0,-50.60V-19.00M0,50.60V19.00M-50.60,0H-19.00M50.60,0H19.00" stroke-width="5.20"/><ellipse cx="0" cy="-14.20" rx="4.40" ry="6.30" stroke-width="2.30" transform="rotate(0)"/><ellipse cx="0" cy="-14.20" rx="4.40" ry="6.30" stroke-width="2.30" transform="rotate(45)"/><ellipse cx="0" cy="-14.20" rx="4.40" ry="6.30" stroke-width="2.30" transform="rotate(90)"/><ellipse cx="0" cy="-14.20" rx="4.40" ry="6.30" stroke-width="2.30" transform="rotate(135)"/><ellipse cx="0" cy="-14.20" rx="4.40" ry="6.30" stroke-width="2.30" transform="rotate(180)"/><ellipse cx="0" cy="-14.20" rx="4.40" ry="6.30" stroke-width="2.30" transform="rotate(225)"/><ellipse cx="0" cy="-14.20" rx="4.40" ry="6.30" stroke-width="2.30" transform="rotate(270)"/><ellipse cx="0" cy="-14.20" rx="4.40" ry="6.30" stroke-width="2.30" transform="rotate(315)"/><circle r="6.40" stroke-width="2.40"/></g></g><rect x="1476" y="972" width="18" height="290" fill="url(#p3side)"/><rect x="1492" y="972" width="27" height="290" fill="#5b4a41"/><rect x="1492" y="972" width="8.5" height="96" fill="#8f8680"/><rect x="1495.5" y="972" width="2" height="96" fill="#5a524d"/><rect x="1500.5" y="972" width="13" height="42" fill="#4b3b33" stroke="#2d221d" stroke-width="0.8"/><path d="M1516.1,972C1516.3,975.5 1515.9,985.5 1517.1,992.7C1518.3,1000 1522.3,1011.7 1523.3,1015.5L1525.4,1013.5C1525.9,1010 1526.3,999.6 1528.5,992.7C1530.8,985.8 1537.2,975.5 1538.9,972Z" fill="#9a9a9a"/><path d="M1415.6,1066.3L1430.1,1066.3L1421.8,1106.7L1430.1,1262.2L1417.6,1262.2L1416,1106.7Z" fill="#6a594e"/><path d="M1428,1066.3L1487.1,1066.3L1487.1,1088.1L1476.7,1107.1L1420.1,1106.7Z" fill="#382b25"/><path d="M1476.7,1107.1L1487.1,1088.1L1487.1,1262.2L1486.5,1262.2Z" fill="#7b685c"/><defs><linearGradient id="p3face" gradientUnits="userSpaceOnUse" x1="1440" y1="1106" x2="1465" y2="1262"><stop offset="0" stop-color="#5c4b41"/><stop offset="0.15" stop-color="#6e5b4f"/><stop offset="0.45" stop-color="#88725f"/><stop offset="0.75" stop-color="#705e53"/><stop offset="1" stop-color="#574841"/></linearGradient><linearGradient id="p3faceH" gradientUnits="userSpaceOnUse" x1="1420" y1="0" x2="1487" y2="0"><stop offset="0" stop-color="#000" stop-opacity="0.32"/><stop offset="0.25" stop-color="#000" stop-opacity="0.08"/><stop offset="0.7" stop-color="#fff" stop-opacity="0.04"/><stop offset="1" stop-color="#000" stop-opacity="0.12"/></linearGradient><linearGradient id="p3side" gradientUnits="userSpaceOnUse" x1="1476" y1="0" x2="1494" y2="0"><stop offset="0" stop-color="#8a766a"/><stop offset="1" stop-color="#6a594e"/></linearGradient><linearGradient id="p3bodyR" gradientUnits="userSpaceOnUse" x1="1510" y1="0" x2="1620" y2="0"><stop offset="0" stop-color="#9d8576"/><stop offset="0.5" stop-color="#aa9181"/><stop offset="1" stop-color="#b09786"/></linearGradient></defs><path d="M1420.1,1106.7L1476.7,1107.1L1481.9,1158.5L1486.5,1262.2L1430.1,1262.2L1424.3,1158.5Z" fill="url(#p3face)"/><path d="M1420.1,1106.7L1476.7,1107.1L1481.9,1158.5L1486.5,1262.2L1430.1,1262.2L1424.3,1158.5Z" fill="url(#p3faceH)"/><path d="M1420.1,1106.7L1476.7,1107.1" stroke="#9c8676" stroke-width="1.2" fill="none"/><path d="M1397,972H1482V1066.3H1404Q1397,1040 1397,1010Z" fill="url(#p3cyl)"/><path d="M1397,972H1404V1066.3H1404Q1397,1040 1397,1010Z" fill="#3a2e28" opacity="0.35"/><ellipse cx="1473" cy="1016" rx="14.5" ry="51" fill="#6f6355" stroke="#9c8b7a" stroke-width="1.2"/><ellipse cx="1474" cy="1016" rx="11" ry="41" fill="none" stroke="#a39478" stroke-width="1.3" opacity="0.8"/><ellipse cx="1474" cy="1016" rx="7.6" ry="30" fill="none" stroke="#a39478" stroke-width="1.3" opacity="0.8"/><ellipse cx="1474" cy="1016" rx="4.2" ry="18" fill="none" stroke="#a39478" stroke-width="1.3" opacity="0.8"/><path d="M1460,1016H1487M1474,966V1066" stroke="#8f826c" stroke-width="1.5"/><rect x="1415.5" y="1068" width="11.5" height="26" rx="1.5" fill="#4a433e"/><rect x="1415.5" y="1130" width="11.5" height="27" rx="1.5" fill="#4a433e"/><rect x="1415.5" y="1194" width="11.5" height="28" rx="1.5" fill="#4a433e"/><rect x="1491" y="1067.5" width="35.5" height="27.0" rx="1.5" fill="url(#p3clip)"/><rect x="1491" y="1067.5" width="4" height="27.0" fill="#6b5a50" opacity="0.6"/><rect x="1521.5" y="1067.5" width="5" height="27.0" fill="#7c695d" opacity="0.6"/><rect x="1491" y="1131" width="35.5" height="27" rx="1.5" fill="url(#p3clip)"/><rect x="1491" y="1131" width="4" height="27" fill="#6b5a50" opacity="0.6"/><rect x="1521.5" y="1131" width="5" height="27" fill="#7c695d" opacity="0.6"/><rect x="1491" y="1196" width="35.5" height="27.5" rx="1.5" fill="url(#p3clip)"/><rect x="1491" y="1196" width="4" height="27.5" fill="#6b5a50" opacity="0.6"/><rect x="1521.5" y="1196" width="5" height="27.5" fill="#7c695d" opacity="0.6"/></g><rect x="1285.5" y="972.5" width="381" height="286" fill="none" stroke="#000" stroke-width="1"/></g>
<rect x="128" y="450" width="49" height="2" fill="#111"/>
<g font-family="'Liberation Sans','Noto Sans CJK SC',sans-serif">
<text x="129.6" y="249.4" font-size="34" letter-spacing="0.9" fill="#0a0a0a">前言设计</text>
<text x="288" y="249.4" font-size="34" letter-spacing="0.9" fill="#0a0a0a">精湛技艺</text>
<text x="129.9" y="324.6" font-size="20" fill="#1c1c1c">采用唯一性、定制化的设计理念，融合仿生、写意等艺术化的设</text>
<text x="129.9" y="358.6" font-size="20" fill="#1c1c1c">计手法，独具匠心地运用现代感的色彩，线条搭配，巧妙地把时</text>
<text x="129.9" y="392.6" font-size="20" fill="#1c1c1c">尚、古典、民俗等各种元素融入到户外照明产品中，使照明与城</text>
<text x="129.9" y="426.6" font-size="20" fill="#1c1c1c">市环境和自然环境和谐相融，浑然天成。</text>
<text x="1284.9" y="120.3" font-size="24" letter-spacing="2" fill="#141414">组合俯视图</text>
<text x="1284.9" y="535" font-size="24" letter-spacing="2" fill="#141414">节能耐用LED光源</text>
<text x="1284.9" y="946.3" font-size="24" letter-spacing="2" fill="#141414">线条流畅，造型随意不受约束</text>
</g>
</svg>
<div id="t1">Preamble Design virtuosity</div>
</body></html>
